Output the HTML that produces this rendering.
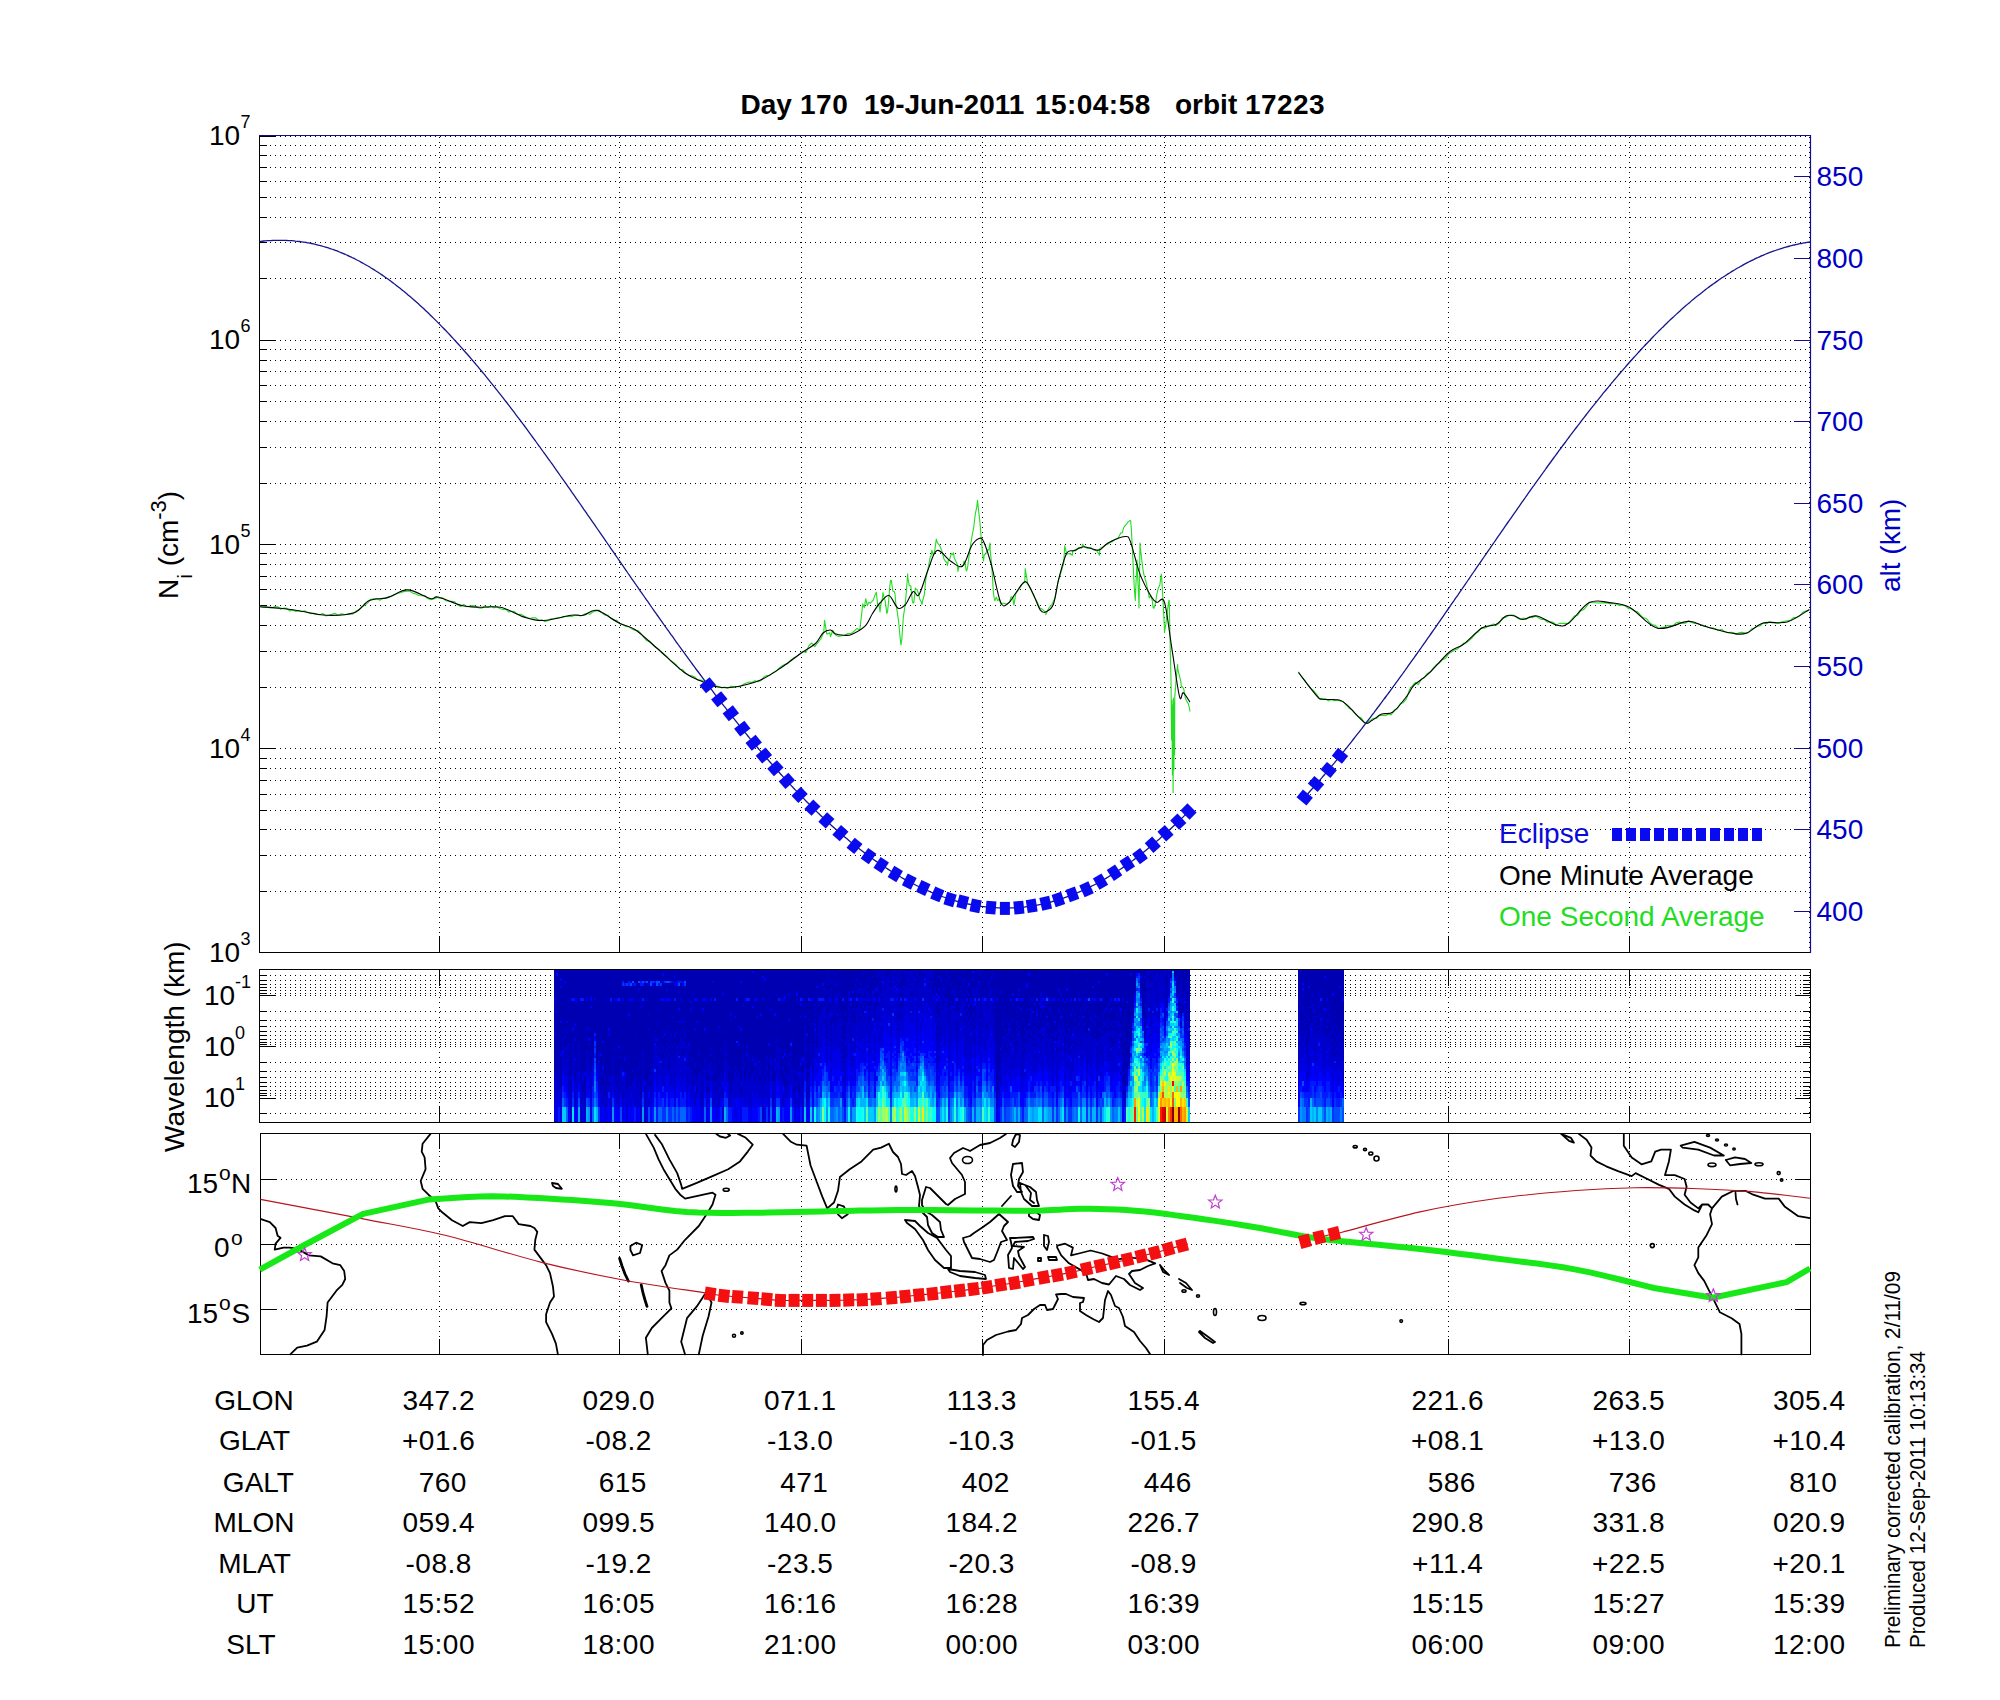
<!DOCTYPE html><html><head><meta charset="utf-8"><title>plot</title><style>html,body{margin:0;padding:0;background:#fff;width:2000px;height:1700px;overflow:hidden}svg{display:block}text{font-family:"Liberation Sans",sans-serif;white-space:pre}</style></head><body><svg width="2000" height="1700" viewBox="0 0 2000 1700"><rect width="2000" height="1700" fill="#fff"/><g font-weight="bold" font-size="28"><text x="740.5" y="113.5">Day</text><text x="800" y="113.5" letter-spacing="0.5">170</text><text x="864" y="113.5">19-Jun-2011</text><text x="1035" y="113.5" letter-spacing="0.45">15:04:58</text><text x="1175" y="113.5">orbit</text><text x="1245" y="113.5" letter-spacing="0.4">17223</text></g><path d="M260 891.5H1809M260 855.5H1809M260 829.5H1809M260 810.5H1809M260 794.5H1809M260 780.5H1809M260 768.5H1809M260 758.5H1809M260 748.5H1809M260 687.5H1809M260 651.5H1809M260 625.5H1809M260 605.5H1809M260 589.5H1809M260 576.5H1809M260 564.5H1809M260 553.5H1809M260 544.5H1809M260 483.5H1809M260 447.5H1809M260 421.5H1809M260 401.5H1809M260 385.5H1809M260 371.5H1809M260 360.5H1809M260 349.5H1809M260 340.5H1809M260 278.5H1809M260 242.5H1809M260 217.5H1809M260 197.5H1809M260 181.5H1809M260 167.5H1809M260 155.5H1809M260 145.5H1809M260 136.5H1809M439.5 137V951M619.5 137V951M801.5 137V951M982.5 137V951M1164.5 137V951M1448.5 137V951M1629.5 137V951M1809.5 137V951" stroke="#000" stroke-width="1" stroke-dasharray="1 4" fill="none"/><path d="M259 952.5h16M259 891.5h8M259 855.5h8M259 829.5h8M259 810.5h8M259 794.5h8M259 780.5h8M259 768.5h8M259 758.5h8M259 748.5h16M259 687.5h8M259 651.5h8M259 625.5h8M259 605.5h8M259 589.5h8M259 576.5h8M259 564.5h8M259 553.5h8M259 544.5h16M259 483.5h8M259 447.5h8M259 421.5h8M259 401.5h8M259 385.5h8M259 371.5h8M259 360.5h8M259 349.5h8M259 340.5h16M259 278.5h8M259 242.5h8M259 217.5h8M259 197.5h8M259 181.5h8M259 167.5h8M259 155.5h8M259 145.5h8M259 136.5h16M439.5 952V936M619.5 952V936M801.5 952V936M982.5 952V936M1164.5 952V936M1448.5 952V936M1629.5 952V936" stroke="#000" stroke-width="1" fill="none"/><path d="M259.5 135V953M259 952.5H1810" stroke="#000" stroke-width="1" fill="none"/><path d="M259 135.5H1811M1810.5 135V953" stroke="#140c8c" stroke-width="1.2" fill="none"/><path d="M1810 911.5h-16M1810 829.5h-16M1810 748.5h-16M1810 666.5h-16M1810 584.5h-16M1810 503.5h-16M1810 421.5h-16M1810 340.5h-16M1810 258.5h-16M1810 176.5h-16" stroke="#140c8c" stroke-width="1" fill="none"/><g font-size="28"><text x="209" y="961.9">10</text><text x="240.5" y="944.9" font-size="18">3</text><text x="209" y="757.7">10</text><text x="240.5" y="740.7" font-size="18">4</text><text x="209" y="553.5">10</text><text x="240.5" y="536.5" font-size="18">5</text><text x="209" y="349.3">10</text><text x="240.5" y="332.3" font-size="18">6</text><text x="209" y="145.1">10</text><text x="240.5" y="128.1" font-size="18">7</text></g><g font-size="28" fill="#0000c4"><text x="1816.5" y="921">400</text><text x="1816.5" y="839.4">450</text><text x="1816.5" y="757.7">500</text><text x="1816.5" y="676.1">550</text><text x="1816.5" y="594.4">600</text><text x="1816.5" y="512.8">650</text><text x="1816.5" y="431.2">700</text><text x="1816.5" y="349.5">750</text><text x="1816.5" y="267.9">800</text><text x="1816.5" y="186.2">850</text><text transform="translate(1899.5 592) rotate(-90)">alt (km)</text></g><g font-size="28" transform="translate(178 599) rotate(-90)"><text x="0" y="0">N</text><text x="20.2" y="14" font-size="21">i</text><text x="24.9" y="0"> (cm</text><text x="79.3" y="-12" font-size="22">-3</text><text x="98.8" y="0">)</text></g><g fill="none" stroke-linejoin="round"><polyline points="259.8,606 262.8,607.1 265.8,606.8 268.8,607.7 271.8,608 274.8,606.6 277.8,606.7 280.8,609.3 283.8,608.1 286.8,608.4 289.8,611 292.8,609.9 295.8,611.4 298.8,610.8 301.8,611.7 304.8,610.8 307.8,612.6 310.8,613.8 313.8,613.3 316.8,614.4 319.8,614.7 322.8,613.5 325.8,615.9 328.8,615.3 331.8,614.3 334.8,613.2 337.8,615.3 340.8,613.9 343.8,614.3 346.8,614.5 349.8,613.8 352.8,614.1 355.8,611.1 358.8,609.8 361.8,606.4 364.8,605.4 367.8,602.9 370.8,599.2 373.8,598.8 376.8,598.6 379.8,600.2 382.8,598.2 385.8,598.2 388.8,596.6 391.8,596 394.8,594.5 397.8,593.2 400.8,592.7 403.8,591.6 406.8,591.3 409.8,591.3 412.8,593.1 415.8,594 418.8,595.5 421.8,595.7 424.8,595.5 427.8,598.5 430.8,599.7 433.8,599 436.8,597.4 439.8,598.2 442.8,597.9 445.8,600.7 448.8,601.1 451.8,601.3 454.8,601.8 457.8,605.1 460.8,606.5 463.8,604.4 466.8,606.7 469.8,606 472.8,605.6 475.8,606.3 478.8,608 481.8,608.3 484.8,606 487.8,607.6 490.8,606 493.8,607.9 496.8,606.8 499.8,608.4 502.8,609.5 505.8,609.4 508.8,612 511.8,611.3 514.8,611.9 517.8,614.6 520.8,614.3 523.8,616 526.8,617.4 529.8,618.5 532.8,617.7 535.8,617.9 538.8,620.7 541.8,619.7 544.8,621.6 547.8,620.8 550.8,618.8 553.8,618.5 556.8,618.1 559.8,617.8 562.8,617.1 565.8,616.5 568.8,616.1 571.8,616.5 574.8,615.3 577.8,615.1 580.8,615.9 583.8,614.4 586.8,613.5 589.8,614.3 592.8,612 595.8,611 598.8,610 601.8,612.9 604.8,615 607.8,615.2 610.8,618.6 613.8,620.3 616.8,620.4 619.8,623.7 622.8,624.5 625.8,626.4 628.8,626.7 631.8,628.9 634.8,630.2 637.8,630.5 640.8,633.2 643.8,637.5 646.8,640.8 649.8,641.4 652.8,644.5 655.8,647.5 658.8,649.4 661.8,652.1 664.8,654.7 667.8,657.5 670.8,660.8 673.8,662.6 676.8,665.5 679.8,669.3 682.8,669.8 685.8,673.4 688.8,675.4 691.8,675.7 694.8,677 697.8,680.1 700.8,680.1 703.8,681.2 706.8,683 709.8,684.7 712.8,684.1 715.8,685.7 718.8,686.6 721.8,688 724.8,687 727.8,688.2 730.8,686.3 733.8,686.6 736.8,686.7 739.8,686.6 742.8,684.6 745.8,683.2 748.8,682.1 751.8,682.4 754.8,680.7 757.8,681.6 760.8,680.7 763.8,677 766.8,675.5 769.8,675.2 772.8,672.9 775.8,671.6 778.8,668.5 781.8,666.1 784.8,664.4 787.8,663.7 790.8,660 793.8,658 796.8,656.1 799.8,653.9 802.8,651.4 805.8,652.5 808.8,645.9 811.8,643 814.8,646.6 817.8,642.6 820.8,639 823.8,632.3 824.5,620.2 826.8,634.2 829.8,632.8 830.5,636.7 832.8,630.2 835.8,635.3 838.8,636.4 841.8,635.8 844.8,635.2 847.8,633.6 850.8,633.6 853.8,631.5 856.8,628.6 859.8,629.9 862.8,603.9 864.3,607.7 865.8,598.7 867.3,605.8 868.8,602.3 870.3,603.2 871.8,601.5 873.3,600.1 874.8,595.4 875.5,594 876.3,592.3 877.8,605.7 879.3,605.9 880,612 880.8,604.8 882.3,598.7 883,592.5 883.8,596.2 885.3,601.6 886.8,613.4 887.5,612 888.3,604.7 889.8,586.3 890.5,580.5 891.3,580.4 892.8,591 894.3,591.7 895,594 895.8,603.6 897.3,612.1 898.8,623.3 900.3,639.4 901,645 901.8,639.7 903.3,617.2 904.8,607.5 906.3,592.8 907.7,573.7 907.8,577.3 909.3,585.8 910.8,585.9 912.3,600.4 913,603 913.8,603 915.3,588.1 916,589.5 916.8,589.2 918.3,592.9 919.8,599.3 921.3,602 922,604.5 922.8,600 924.3,595 925.8,579.3 927.3,571.8 928.8,564.5 930.3,556.5 931,556.5 931.8,550.2 933.3,555.5 934.8,550.5 936.3,539.1 937,541.5 937.8,543.3 939.3,544.9 940.8,548.3 942.3,552.1 943.8,558.5 945.3,561.3 946.8,562.5 947.5,565.5 948.3,560.7 949.8,558.9 951.3,553.6 952.8,554.7 953.5,552.7 954.3,558.2 955.8,561.1 957.3,564.4 958,571.5 958.8,566.9 960.3,566.2 961.8,565.9 963.3,565.1 964,561 964.8,562.2 966.3,570.9 967,570 967.8,565.9 969.3,554 970.8,543.5 972.3,534.7 973.8,526.8 975.3,514 976.8,506.8 977.5,500.2 978.3,507.9 979.8,521 981.3,539.1 982.8,555.9 983.5,561 984.3,554.5 985.8,553.9 987.3,549.7 988.8,550.1 990,543 990.3,551.4 991.8,566 993.3,591.5 994,597 994.8,600.8 996.3,597.1 997.8,600.7 999.3,598.9 1000.7,604.2 1000.8,603.3 1003.8,603.2 1006.8,604.2 1009.8,602 1011,596.7 1012.8,597.5 1013.9,605.2 1015.8,593.7 1018.8,589.5 1021.8,584.6 1024.8,582.3 1025.2,568.5 1027.8,584.2 1030.8,589.1 1033.8,596.2 1036.8,601 1039.8,607.9 1042.8,609.6 1045.8,612.8 1045.9,614.6 1048.8,608 1051.8,604.5 1054.8,598.6 1057.8,582.5 1060.8,573.1 1063.8,562.9 1064.7,545.9 1066.8,554.3 1069.8,553.5 1072.2,555.3 1072.8,551.3 1075.8,550.7 1078.8,547.4 1081.8,548.2 1082.6,544 1084.8,547.2 1087.8,548.5 1090.8,547.5 1091,547.8 1093.8,550 1096.8,550.8 1099.5,555.3 1099.8,548.4 1102.8,547.1 1105.8,545.1 1108.8,543.6 1111.8,540.8 1111.8,542.1 1114.8,539.5 1117.8,538.5 1120.8,532.9 1122.3,532.6 1123.8,527.3 1125.3,525.3 1126.8,523.8 1128.3,521.6 1129.8,520.6 1130.6,520.5 1131.3,528.2 1132.8,557.9 1134.3,588.2 1135.3,600.5 1135.8,587.7 1137,560 1137.3,569.7 1138.8,599.8 1139,608 1140,543 1140.3,547.4 1141.8,560.3 1143.3,571.7 1143.8,574.1 1144.8,577.9 1146.3,583 1147.8,590 1149.3,597.9 1150.8,595.8 1152.3,600.7 1153.2,608 1153.8,608.2 1155.3,604.2 1156.8,594.5 1158.3,588 1159.8,585 1161.3,574 1161.6,576 1162.8,597.1 1164.3,625.6 1164.5,632.5 1165.8,624.5 1167.3,611.6 1168.8,600.5 1169.2,600.5 1170.3,650.7 1171,679.5 1171.6,740 1171.8,724.5 1172,700 1172.4,775 1172.8,705 1173.1,792.5 1173.3,743.2 1173.5,698 1173.9,770 1174.3,702 1174.6,755 1174.8,694.6 1174.8,696.7 1176.3,677.6 1177.6,664.5 1177.8,669.2 1179.3,675.4 1180.8,681.1 1181.4,687 1182.3,686.8 1183.8,689.1 1185.3,698 1186.8,701.4 1188.3,703.6 1189.8,709.8 1189.9,711.5" stroke="#22dd22" stroke-width="1.1"/><polyline points="1298.4,671.8 1301.4,676.4 1304.4,679.8 1307.4,684.2 1310.4,688.1 1313.4,690.4 1316.4,694.1 1319.4,698.4 1322.4,698.6 1325.4,698.7 1328.4,700.9 1331.4,699.6 1334.4,700.7 1337.4,699.9 1340.4,701.1 1343.4,701.8 1346.4,705.1 1349.4,708.3 1352.4,710.4 1355.4,714 1358.4,716.8 1361.4,718.1 1364.4,723 1367.4,722.1 1370.4,720.4 1373.4,718.2 1376.4,718.5 1379.4,715.5 1382.4,715.3 1385.4,715.7 1388.4,714.1 1391.4,714.8 1394.4,709.8 1397.4,708.8 1400.4,703.2 1403.4,702.7 1406.4,698.9 1409.4,689.9 1412.4,685.6 1415.4,682.5 1418.4,684.6 1421.4,679 1424.4,677.8 1427.4,673.4 1430.4,671.8 1433.4,667.9 1436.4,664.6 1439.4,662.9 1442.4,659.8 1445.4,658.6 1448.4,654.1 1451.4,652.1 1454.4,650.3 1457.4,649 1460.4,646.4 1463.4,643.4 1466.4,642.7 1469.4,640.4 1472.4,637.5 1475.4,633.9 1478.4,631.7 1481.4,627.6 1484.4,628.3 1487.4,626.8 1490.4,625.3 1493.4,623.9 1496.4,625.2 1499.4,623 1502.4,617.9 1505.4,617.4 1508.4,615.7 1511.4,615 1514.4,615.4 1517.4,618 1520.4,619.5 1523.4,618.1 1526.4,619 1529.4,616.6 1532.4,617.8 1535.4,615.9 1538.4,617.7 1541.4,619.4 1544.4,619.5 1547.4,622.2 1550.4,621.7 1553.4,622.4 1556.4,625.3 1559.4,623.4 1562.4,623.3 1565.4,623.4 1568.4,623.4 1571.4,619.5 1574.4,616.1 1577.4,615.5 1580.4,610.9 1583.4,609.8 1586.4,606.6 1589.4,602.3 1592.4,602.5 1595.4,602.7 1598.4,603 1601.4,602.9 1604.4,602.8 1607.4,602.9 1610.4,604 1613.4,603.5 1616.4,604.1 1619.4,605.6 1622.4,605 1625.4,605.9 1628.4,608.6 1631.4,608.7 1634.4,611 1637.4,611.7 1640.4,615.1 1643.4,617.8 1646.4,618.5 1649.4,622.4 1652.4,624.7 1655.4,625.4 1658.4,628.4 1661.4,627.2 1664.4,627.2 1667.4,625.6 1670.4,625.9 1673.4,625.3 1676.4,622.7 1679.4,622.1 1682.4,623.2 1685.4,623.3 1688.4,620.8 1691.4,622.2 1694.4,623.5 1697.4,623.6 1700.4,624.7 1703.4,625.4 1706.4,626.4 1709.4,627.8 1712.4,627.7 1715.4,628.7 1718.4,630.5 1721.4,629.2 1724.4,631.5 1727.4,632.7 1730.4,632.2 1733.4,632.5 1736.4,634.2 1739.4,632.6 1742.4,632.4 1745.4,633.1 1748.4,632.5 1751.4,629.1 1754.4,627.9 1757.4,626.1 1760.4,625.7 1763.4,622.8 1766.4,623.9 1769.4,621.8 1772.4,622.2 1775.4,622.9 1778.4,623.4 1781.4,622.1 1784.4,621.3 1787.4,620.8 1790.4,620.3 1793.4,617.6 1796.4,617.6 1799.4,616 1802.4,612.5 1805.4,611.1 1808.4,610.8" stroke="#22dd22" stroke-width="1.1"/><path d="M259.8 606.7C263.3 607 273.9 607.6 280.6 608.3C287.3 609 292.4 609.8 300 611C307.6 612.2 317.5 615 326.5 615.3C335.5 615.6 346.9 615.2 354 612.8C361.1 610.3 363.7 603.1 369.3 600.6C374.9 598.1 381.2 599.4 387.6 597.6C394 595.8 400.4 589.8 407.5 589.9C414.6 590 425.3 597.3 430.4 598.5C435.5 599.7 432.9 595.9 438 597C443.1 598.1 454.1 603.5 461 605.2C467.9 606.9 472.8 606.9 479.4 607.3C486 607.6 493.2 605.6 500.8 607.3C508.4 609 518.1 615.2 525.2 617.4C532.3 619.6 536 620.9 543.6 620.5C551.2 620.1 564.5 616.2 571.1 615.3C577.7 614.4 579 616.1 583.3 615.3C587.6 614.5 591 609 597.1 610.4C603.2 611.8 613.6 620.3 620 623.5C626.4 626.7 629.2 625.6 635.3 629.7C641.4 633.8 648.5 640.9 656.7 648C664.9 655.1 676.6 666.9 684.3 672.5C691.9 678.1 697 679.3 702.6 681.7C708.2 684.1 712.9 686.1 718 687C723.1 687.9 726 688.4 733 687.3C740 686.2 751.8 683.6 760 680.2C768.2 676.8 775.5 671.3 782.5 666.7C789.5 662.1 796.5 656.4 802 652.5C807.5 648.6 812 646.8 815.5 643.5C819 640.2 820.5 635.2 823 633C825.5 630.8 828.5 629.9 830.5 630C832.5 630.1 832.8 632.8 835 633.7C837.2 634.6 841.2 635.1 844 635.2C846.8 635.3 848 636 851.5 634.5C855 633 861.5 629.7 865 626.2C868.5 622.7 870 617.4 872.5 613.5C875 609.6 877.2 606 880 603C882.8 600 886 594.6 889 595.5C892 596.4 895.2 606.7 898 608.2C900.8 609.7 903 607.2 905.5 604.5C908 601.8 910.8 593.3 913 591.7C915.2 590.1 916.5 598.3 919 594.7C921.5 591.1 925 577.4 928 570C931 562.6 933.2 552 937 550.5C940.8 549 946.2 558.4 950.5 561C954.8 563.6 959 568.7 962.5 566.2C966 563.7 968.8 550.6 971.5 546C974.2 541.4 977 539.2 979 538.5C981 537.8 981.8 537.6 983.8 542C985.8 546.4 988.5 554.6 991.3 564.7C994.1 574.8 997.9 596 1000.7 602.4C1003.5 608.8 1005.7 604.9 1008.2 603.3C1010.7 601.7 1013 596.6 1015.8 593C1018.6 589.4 1022.4 581.6 1025.2 581.6C1028 581.6 1030.2 588.3 1032.7 593C1035.2 597.7 1038 606.8 1040.2 609.9C1042.4 613 1043.7 612.8 1045.9 611.8C1048.1 610.8 1051.2 609.9 1053.4 604.2C1055.6 598.6 1056.8 586.4 1059 577.9C1061.2 569.4 1064.1 557.9 1066.6 553.4C1069.1 548.9 1071.3 551.7 1074.1 550.6C1076.9 549.5 1080 547 1083.5 546.8C1087 546.6 1092 549.1 1094.8 549.6C1097.6 550.1 1098.3 550.7 1100.5 549.6C1102.7 548.5 1103.9 545.2 1108 543C1112.1 540.8 1121.1 536.6 1124.9 536.5C1128.7 536.4 1128.1 535.8 1130.6 542.1C1133.1 548.4 1136.5 565 1140 574.1C1143.5 583.2 1148.5 592 1151.3 596.7C1154.1 601.4 1154.7 601.5 1156.9 602.4C1159.1 603.3 1162 594.6 1164.5 602.4C1167 610.2 1169.5 633.7 1172 649.4C1174.5 665.1 1177.6 689.3 1179.5 696.5C1181.4 703.7 1181.6 691.8 1183.3 692.7C1185 693.6 1188.8 700.5 1189.9 702.1" stroke="#000" stroke-width="1.1"/><path d="M1298.4 672.5C1301.5 676.4 1312.7 691.3 1316.7 695.8C1320.7 700.3 1318.6 698.6 1322.4 699.3C1326.2 700 1335.1 698.9 1339.3 700C1343.5 701.1 1343.6 701.9 1347.8 705.7C1352 709.5 1360.7 720.1 1364.7 722.6C1368.7 725.1 1369 721.9 1371.8 720.5C1374.6 719.1 1378.2 715.5 1381.7 714.1C1385.2 712.7 1388.8 715 1393 712C1397.2 709 1403.6 700.3 1407.1 695.8C1410.6 691.3 1410.6 688.9 1414.1 685.2C1417.6 681.6 1422.4 679.4 1428.3 673.9C1434.2 668.4 1443.5 657 1449.4 652C1455.3 647 1458.2 648.2 1463.6 644.2C1469 640.2 1476.5 631.3 1481.9 628C1487.3 624.7 1492 626.5 1496 624.5C1500 622.5 1502.9 617.4 1506 616C1509.1 614.6 1511.6 615.4 1514.4 616C1517.2 616.6 1519.1 619.5 1522.9 619.5C1526.7 619.5 1531.3 615 1537 616C1542.7 617 1551.5 624 1556.8 625.2C1562.1 626.4 1563.4 626.8 1568.8 623C1574.2 619.2 1582.5 606 1589.3 602.6C1596.1 599.2 1603 601.8 1609.8 602.6C1616.6 603.5 1622.2 603.4 1630.2 607.7C1638.2 612 1647.8 625.9 1657.5 628.2C1667.2 630.5 1680.2 621.7 1688.2 621.4C1696.2 621.1 1697.9 624.5 1705.3 626.5C1712.7 628.5 1725.8 632.2 1732.6 633.3C1739.4 634.4 1741.1 635 1746.2 633.3C1751.3 631.6 1756.5 624.9 1763.3 623C1770.1 621.1 1779.5 624.3 1787.2 622C1794.9 619.7 1805.7 611.5 1809.4 609.4" stroke="#000" stroke-width="1.1"/><path d="M259.5 241.5C260.2 241.4 262.2 241.2 263.5 241C264.8 240.9 266.2 240.8 267.5 240.7C268.8 240.6 270.2 240.5 271.5 240.5C272.8 240.4 274.2 240.4 275.5 240.3C276.8 240.3 278.2 240.3 279.5 240.3C280.8 240.3 282.2 240.3 283.5 240.3C284.8 240.4 286.2 240.4 287.5 240.5C288.8 240.5 290.2 240.6 291.5 240.7C292.8 240.8 294.2 240.9 295.5 241.1C296.8 241.2 298.2 241.4 299.5 241.5C300.8 241.7 302.2 241.9 303.5 242.1C304.8 242.3 306.2 242.5 307.5 242.8C308.8 243 310.2 243.2 311.5 243.5C312.8 243.8 314.2 244.1 315.5 244.4C316.8 244.7 318.2 245 319.5 245.4C320.8 245.7 322.2 246.1 323.5 246.5C324.8 246.9 326.2 247.3 327.5 247.7C328.8 248.1 330.2 248.6 331.5 249C332.8 249.5 334.2 249.9 335.5 250.4C336.8 250.9 338.2 251.4 339.5 252C340.8 252.5 342.2 253 343.5 253.6C344.8 254.2 346.2 254.8 347.5 255.4C348.8 256 350.2 256.6 351.5 257.2C352.8 257.9 354.2 258.5 355.5 259.2C356.8 259.9 358.2 260.6 359.5 261.3C360.8 262 362.2 262.7 363.5 263.5C364.8 264.2 366.2 265 367.5 265.8C368.8 266.5 370.2 267.3 371.5 268.2C372.8 269 374.2 269.8 375.5 270.7C376.8 271.5 378.2 272.4 379.5 273.3C380.8 274.2 382.2 275.1 383.5 276C384.8 276.9 386.2 277.8 387.5 278.8C388.8 279.8 390.2 280.7 391.5 281.7C392.8 282.7 394.2 283.7 395.5 284.7C396.8 285.8 398.2 286.8 399.5 287.8C400.8 288.9 402.2 290 403.5 291.1C404.8 292.1 406.2 293.3 407.5 294.4C408.8 295.5 410.2 296.6 411.5 297.8C412.8 298.9 414.2 300.1 415.5 301.3C416.8 302.5 418.2 303.7 419.5 304.9C420.8 306.1 422.2 307.3 423.5 308.5C424.8 309.8 426.2 311 427.5 312.3C428.8 313.6 430.2 314.9 431.5 316.2C432.8 317.5 434.2 318.8 435.5 320.1C436.8 321.4 438.2 322.8 439.5 324.1C440.8 325.5 442.2 326.9 443.5 328.2C444.8 329.6 446.2 331 447.5 332.4C448.8 333.8 450.2 335.3 451.5 336.7C452.8 338.1 454.2 339.6 455.5 341C456.8 342.5 458.2 344 459.5 345.5C460.8 346.9 462.2 348.4 463.5 350C464.8 351.5 466.2 353 467.5 354.5C468.8 356 470.2 357.6 471.5 359.1C472.8 360.7 474.2 362.3 475.5 363.8C476.8 365.4 478.2 367 479.5 368.6C480.8 370.2 482.2 371.8 483.5 373.4C484.8 375.1 486.2 376.7 487.5 378.3C488.8 380 490.2 381.6 491.5 383.3C492.8 384.9 494.2 386.6 495.5 388.3C496.8 390 498.2 391.6 499.5 393.3C500.8 395 502.2 396.7 503.5 398.4C504.8 400.2 506.2 401.9 507.5 403.6C508.8 405.3 510.2 407.1 511.5 408.8C512.8 410.6 514.2 412.3 515.5 414.1C516.8 415.8 518.2 417.6 519.5 419.4C520.8 421.2 522.2 422.9 523.5 424.7C524.8 426.5 526.2 428.3 527.5 430.1C528.8 431.9 530.2 433.7 531.5 435.6C532.8 437.4 534.2 439.2 535.5 441C536.8 442.9 538.2 444.7 539.5 446.5C540.8 448.4 542.2 450.2 543.5 452.1C544.8 453.9 546.2 455.8 547.5 457.6C548.8 459.5 550.2 461.3 551.5 463.2C552.8 465.1 554.2 467 555.5 468.8C556.8 470.7 558.2 472.6 559.5 474.5C560.8 476.4 562.2 478.3 563.5 480.2C564.8 482 566.2 483.9 567.5 485.8C568.8 487.7 570.2 489.6 571.5 491.6C572.8 493.5 574.2 495.4 575.5 497.3C576.8 499.2 578.2 501.1 579.5 503C580.8 504.9 582.2 506.9 583.5 508.8C584.8 510.7 586.2 512.6 587.5 514.6C588.8 516.5 590.2 518.4 591.5 520.3C592.8 522.3 594.2 524.2 595.5 526.1C596.8 528 598.2 530 599.5 531.9C600.8 533.8 602.2 535.8 603.5 537.7C604.8 539.6 606.2 541.6 607.5 543.5C608.8 545.4 610.2 547.4 611.5 549.3C612.8 551.2 614.2 553.2 615.5 555.1C616.8 557 618.2 559 619.5 560.9C620.8 562.8 622.2 564.8 623.5 566.7C624.8 568.6 626.2 570.5 627.5 572.5C628.8 574.4 630.2 576.3 631.5 578.3C632.8 580.2 634.2 582.1 635.5 584C636.8 585.9 638.2 587.9 639.5 589.8C640.8 591.7 642.2 593.6 643.5 595.5C644.8 597.4 646.2 599.3 647.5 601.2C648.8 603.2 650.2 605.1 651.5 607C652.8 608.9 654.2 610.8 655.5 612.7C656.8 614.6 658.2 616.4 659.5 618.3C660.8 620.2 662.2 622.1 663.5 624C664.8 625.9 666.2 627.7 667.5 629.6C668.8 631.5 670.2 633.4 671.5 635.2C672.8 637.1 674.2 639 675.5 640.8C676.8 642.7 678.2 644.5 679.5 646.4C680.8 648.2 682.2 650.1 683.5 651.9C684.8 653.7 686.2 655.6 687.5 657.4C688.8 659.2 690.2 661.1 691.5 662.9C692.8 664.7 694.2 666.5 695.5 668.3C696.8 670.1 698.2 671.9 699.5 673.7C700.8 675.5 702.2 677.3 703.5 679.1C704.8 680.9 706.2 682.6 707.5 684.4C708.8 686.2 710.2 687.9 711.5 689.7C712.8 691.5 714.2 693.2 715.5 695C716.8 696.7 718.2 698.4 719.5 700.2C720.8 701.9 722.2 703.6 723.5 705.4C724.8 707.1 726.2 708.8 727.5 710.5C728.8 712.2 730.2 713.9 731.5 715.6C732.8 717.3 734.2 718.9 735.5 720.6C736.8 722.3 738.2 724 739.5 725.6C740.8 727.3 742.2 728.9 743.5 730.6C744.8 732.2 746.2 733.8 747.5 735.5C748.8 737.1 750.2 738.7 751.5 740.3C752.8 741.9 754.2 743.5 755.5 745.1C756.8 746.7 758.2 748.3 759.5 749.9C760.8 751.4 762.2 753 763.5 754.6C764.8 756.1 766.2 757.7 767.5 759.2C768.8 760.7 770.2 762.3 771.5 763.8C772.8 765.3 774.2 766.8 775.5 768.3C776.8 769.8 778.2 771.3 779.5 772.8C780.8 774.3 782.2 775.8 783.5 777.2C784.8 778.7 786.2 780.1 787.5 781.6C788.8 783 790.2 784.5 791.5 785.9C792.8 787.3 794.2 788.7 795.5 790.1C796.8 791.5 798.2 792.9 799.5 794.3C800.8 795.7 802.2 797.1 803.5 798.4C804.8 799.8 806.2 801.1 807.5 802.5C808.8 803.8 810.2 805.1 811.5 806.5C812.8 807.8 814.2 809.1 815.5 810.4C816.8 811.7 818.2 813 819.5 814.2C820.8 815.5 822.2 816.8 823.5 818C824.8 819.3 826.2 820.5 827.5 821.7C828.8 823 830.2 824.2 831.5 825.4C832.8 826.6 834.2 827.8 835.5 829C836.8 830.2 838.2 831.3 839.5 832.5C840.8 833.7 842.2 834.8 843.5 835.9C844.8 837.1 846.2 838.2 847.5 839.3C848.8 840.4 850.2 841.5 851.5 842.6C852.8 843.7 854.2 844.8 855.5 845.8C856.8 846.9 858.2 848 859.5 849C860.8 850 862.2 851.1 863.5 852.1C864.8 853.1 866.2 854.1 867.5 855.1C868.8 856.1 870.2 857 871.5 858C872.8 859 874.2 859.9 875.5 860.9C876.8 861.8 878.2 862.7 879.5 863.6C880.8 864.5 882.2 865.4 883.5 866.3C884.8 867.2 886.2 868.1 887.5 868.9C888.8 869.8 890.2 870.7 891.5 871.5C892.8 872.3 894.2 873.1 895.5 873.9C896.8 874.7 898.2 875.5 899.5 876.3C900.8 877.1 902.2 877.9 903.5 878.6C904.8 879.4 906.2 880.1 907.5 880.8C908.8 881.6 910.2 882.3 911.5 883C912.8 883.7 914.2 884.3 915.5 885C916.8 885.7 918.2 886.3 919.5 887C920.8 887.6 922.2 888.2 923.5 888.9C924.8 889.5 926.2 890.1 927.5 890.7C928.8 891.2 930.2 891.8 931.5 892.4C932.8 892.9 934.2 893.5 935.5 894C936.8 894.5 938.2 895 939.5 895.5C940.8 896 942.2 896.5 943.5 897C944.8 897.4 946.2 897.9 947.5 898.3C948.8 898.8 950.2 899.2 951.5 899.6C952.8 900 954.2 900.4 955.5 900.8C956.8 901.2 958.2 901.6 959.5 901.9C960.8 902.3 962.2 902.6 963.5 902.9C964.8 903.2 966.2 903.5 967.5 903.8C968.8 904.1 970.2 904.4 971.5 904.7C972.8 904.9 974.2 905.2 975.5 905.4C976.8 905.6 978.2 905.9 979.5 906.1C980.8 906.3 982.2 906.4 983.5 906.6C984.8 906.8 986.2 906.9 987.5 907.1C988.8 907.2 990.2 907.3 991.5 907.5C992.8 907.6 994.2 907.7 995.5 907.7C996.8 907.8 998.2 907.9 999.5 907.9C1000.8 908 1002.2 908 1003.5 908C1004.8 908 1006.2 908 1007.5 908C1008.8 908 1010.2 908 1011.5 907.9C1012.8 907.9 1014.2 907.8 1015.5 907.7C1016.8 907.7 1018.2 907.6 1019.5 907.5C1020.8 907.4 1022.2 907.2 1023.5 907.1C1024.8 906.9 1026.2 906.8 1027.5 906.6C1028.8 906.4 1030.2 906.3 1031.5 906.1C1032.8 905.9 1034.2 905.6 1035.5 905.4C1036.8 905.2 1038.2 904.9 1039.5 904.6C1040.8 904.4 1042.2 904.1 1043.5 903.8C1044.8 903.5 1046.2 903.2 1047.5 902.9C1048.8 902.5 1050.2 902.2 1051.5 901.8C1052.8 901.5 1054.2 901.1 1055.5 900.7C1056.8 900.3 1058.2 899.9 1059.5 899.5C1060.8 899 1062.2 898.6 1063.5 898.1C1064.8 897.7 1066.2 897.2 1067.5 896.7C1068.8 896.2 1070.2 895.7 1071.5 895.2C1072.8 894.7 1074.2 894.1 1075.5 893.6C1076.8 893 1078.2 892.5 1079.5 891.9C1080.8 891.3 1082.2 890.7 1083.5 890.1C1084.8 889.5 1086.2 888.9 1087.5 888.2C1088.8 887.6 1090.2 886.9 1091.5 886.2C1092.8 885.6 1094.2 884.9 1095.5 884.2C1096.8 883.5 1098.2 882.7 1099.5 882C1100.8 881.3 1102.2 880.5 1103.5 879.7C1104.8 879 1106.2 878.2 1107.5 877.4C1108.8 876.6 1110.2 875.8 1111.5 874.9C1112.8 874.1 1114.2 873.3 1115.5 872.4C1116.8 871.6 1118.2 870.7 1119.5 869.8C1120.8 868.9 1122.2 868 1123.5 867.1C1124.8 866.2 1126.2 865.2 1127.5 864.3C1128.8 863.3 1130.2 862.4 1131.5 861.4C1132.8 860.4 1134.2 859.4 1135.5 858.4C1136.8 857.4 1138.2 856.4 1139.5 855.4C1140.8 854.4 1142.2 853.3 1143.5 852.2C1144.8 851.2 1146.2 850.1 1147.5 849C1148.8 847.9 1150.2 846.8 1151.5 845.7C1152.8 844.6 1154.2 843.5 1155.5 842.3C1156.8 841.2 1158.2 840 1159.5 838.9C1160.8 837.7 1162.2 836.5 1163.5 835.3C1164.8 834.2 1166.2 832.9 1167.5 831.7C1168.8 830.5 1170.2 829.3 1171.5 828C1172.8 826.8 1174.2 825.6 1175.5 824.3C1176.8 823 1178.2 821.7 1179.5 820.5C1180.8 819.2 1182.2 817.9 1183.5 816.6C1184.8 815.3 1186.7 813.4 1187.5 812.6C1188.3 811.8 1188.3 811.8 1188.5 811.6" stroke="#16168c" stroke-width="1.3"/><path d="M1302 800.2C1302.7 799.5 1304.7 797.3 1306 795.8C1307.3 794.3 1308.7 792.8 1310 791.3C1311.3 789.8 1312.7 788.3 1314 786.8C1315.3 785.3 1316.7 783.8 1318 782.2C1319.3 780.7 1320.7 779.1 1322 777.6C1323.3 776 1324.7 774.5 1326 772.9C1327.3 771.3 1328.7 769.7 1330 768.1C1331.3 766.5 1332.7 764.9 1334 763.3C1335.3 761.7 1336.7 760.1 1338 758.5C1339.3 756.8 1340.7 755.2 1342 753.6C1343.3 751.9 1344.7 750.3 1346 748.6C1347.3 746.9 1348.7 745.3 1350 743.6C1351.3 741.9 1352.7 740.2 1354 738.5C1355.3 736.8 1356.7 735.1 1358 733.4C1359.3 731.7 1360.7 730 1362 728.3C1363.3 726.5 1364.7 724.8 1366 723.1C1367.3 721.3 1368.7 719.6 1370 717.8C1371.3 716.1 1372.7 714.3 1374 712.6C1375.3 710.8 1376.7 709 1378 707.2C1379.3 705.5 1380.7 703.7 1382 701.9C1383.3 700.1 1384.7 698.3 1386 696.5C1387.3 694.7 1388.7 692.9 1390 691.1C1391.3 689.2 1392.7 687.4 1394 685.6C1395.3 683.8 1396.7 681.9 1398 680.1C1399.3 678.3 1400.7 676.4 1402 674.6C1403.3 672.7 1404.7 670.9 1406 669C1407.3 667.2 1408.7 665.3 1410 663.4C1411.3 661.6 1412.7 659.7 1414 657.8C1415.3 655.9 1416.7 654.1 1418 652.2C1419.3 650.3 1420.7 648.4 1422 646.5C1423.3 644.6 1424.7 642.7 1426 640.8C1427.3 638.9 1428.7 637 1430 635.1C1431.3 633.2 1432.7 631.3 1434 629.4C1435.3 627.5 1436.7 625.6 1438 623.7C1439.3 621.8 1440.7 619.8 1442 617.9C1443.3 616 1444.7 614.1 1446 612.1C1447.3 610.2 1448.7 608.3 1450 606.4C1451.3 604.4 1452.7 602.5 1454 600.6C1455.3 598.6 1456.7 596.7 1458 594.8C1459.3 592.8 1460.7 590.9 1462 589C1463.3 587 1464.7 585.1 1466 583.2C1467.3 581.2 1468.7 579.3 1470 577.3C1471.3 575.4 1472.7 573.5 1474 571.5C1475.3 569.6 1476.7 567.7 1478 565.7C1479.3 563.8 1480.7 561.8 1482 559.9C1483.3 558 1484.7 556 1486 554.1C1487.3 552.2 1488.7 550.2 1490 548.3C1491.3 546.3 1492.7 544.4 1494 542.5C1495.3 540.6 1496.7 538.6 1498 536.7C1499.3 534.8 1500.7 532.8 1502 530.9C1503.3 529 1504.7 527.1 1506 525.1C1507.3 523.2 1508.7 521.3 1510 519.4C1511.3 517.5 1512.7 515.6 1514 513.7C1515.3 511.7 1516.7 509.8 1518 507.9C1519.3 506 1520.7 504.1 1522 502.2C1523.3 500.3 1524.7 498.4 1526 496.5C1527.3 494.7 1528.7 492.8 1530 490.9C1531.3 489 1532.7 487.1 1534 485.3C1535.3 483.4 1536.7 481.5 1538 479.7C1539.3 477.8 1540.7 475.9 1542 474.1C1543.3 472.2 1544.7 470.4 1546 468.5C1547.3 466.7 1548.7 464.8 1550 463C1551.3 461.2 1552.7 459.3 1554 457.5C1555.3 455.7 1556.7 453.9 1558 452.1C1559.3 450.3 1560.7 448.5 1562 446.7C1563.3 444.9 1564.7 443.1 1566 441.3C1567.3 439.5 1568.7 437.7 1570 435.9C1571.3 434.2 1572.7 432.4 1574 430.6C1575.3 428.9 1576.7 427.1 1578 425.4C1579.3 423.6 1580.7 421.9 1582 420.2C1583.3 418.5 1584.7 416.7 1586 415C1587.3 413.3 1588.7 411.6 1590 409.9C1591.3 408.2 1592.7 406.5 1594 404.9C1595.3 403.2 1596.7 401.5 1598 399.8C1599.3 398.2 1600.7 396.5 1602 394.9C1603.3 393.2 1604.7 391.6 1606 390C1607.3 388.4 1608.7 386.7 1610 385.1C1611.3 383.5 1612.7 381.9 1614 380.3C1615.3 378.8 1616.7 377.2 1618 375.6C1619.3 374 1620.7 372.5 1622 370.9C1623.3 369.4 1624.7 367.9 1626 366.3C1627.3 364.8 1628.7 363.3 1630 361.8C1631.3 360.3 1632.7 358.8 1634 357.3C1635.3 355.8 1636.7 354.4 1638 352.9C1639.3 351.4 1640.7 350 1642 348.5C1643.3 347.1 1644.7 345.7 1646 344.3C1647.3 342.9 1648.7 341.5 1650 340.1C1651.3 338.7 1652.7 337.3 1654 335.9C1655.3 334.6 1656.7 333.2 1658 331.9C1659.3 330.5 1660.7 329.2 1662 327.9C1663.3 326.6 1664.7 325.3 1666 324C1667.3 322.7 1668.7 321.4 1670 320.1C1671.3 318.9 1672.7 317.6 1674 316.4C1675.3 315.1 1676.7 313.9 1678 312.7C1679.3 311.5 1680.7 310.3 1682 309.1C1683.3 307.9 1684.7 306.8 1686 305.6C1687.3 304.4 1688.7 303.3 1690 302.2C1691.3 301 1692.7 299.9 1694 298.8C1695.3 297.7 1696.7 296.6 1698 295.6C1699.3 294.5 1700.7 293.4 1702 292.4C1703.3 291.3 1704.7 290.3 1706 289.3C1707.3 288.3 1708.7 287.3 1710 286.3C1711.3 285.3 1712.7 284.4 1714 283.4C1715.3 282.4 1716.7 281.5 1718 280.6C1719.3 279.6 1720.7 278.7 1722 277.8C1723.3 277 1724.7 276.1 1726 275.2C1727.3 274.3 1728.7 273.5 1730 272.7C1731.3 271.8 1732.7 271 1734 270.2C1735.3 269.4 1736.7 268.6 1738 267.8C1739.3 267.1 1740.7 266.3 1742 265.6C1743.3 264.8 1744.7 264.1 1746 263.4C1747.3 262.7 1748.7 262 1750 261.3C1751.3 260.7 1752.7 260 1754 259.4C1755.3 258.7 1756.7 258.1 1758 257.5C1759.3 256.9 1760.7 256.3 1762 255.7C1763.3 255.1 1764.7 254.6 1766 254C1767.3 253.5 1768.7 252.9 1770 252.4C1771.3 251.9 1772.7 251.4 1774 250.9C1775.3 250.5 1776.7 250 1778 249.6C1779.3 249.1 1780.7 248.7 1782 248.3C1783.3 247.9 1784.7 247.5 1786 247.1C1787.3 246.7 1788.7 246.3 1790 246C1791.3 245.6 1792.7 245.3 1794 245C1795.3 244.7 1796.7 244.4 1798 244.1C1799.3 243.8 1800.7 243.6 1802 243.3C1803.3 243.1 1804.7 242.8 1806 242.6C1807.3 242.4 1809.2 242.1 1810 242C1810.8 241.9 1810.4 242 1810.5 242" stroke="#16168c" stroke-width="1.3"/></g><g fill="#0a0aee"><rect x="-5" y="-6.5" width="10" height="13" transform="translate(707.8 685.3) rotate(50.6)"/><rect x="-5" y="-6.5" width="10" height="13" transform="translate(719.3 699.3) rotate(50.6)"/><rect x="-5" y="-6.5" width="10" height="13" transform="translate(730.8 713.3) rotate(51.9)"/><rect x="-5" y="-6.5" width="10" height="13" transform="translate(742.3 728.6) rotate(52.1)"/><rect x="-5" y="-6.5" width="10" height="13" transform="translate(753.7 742.7) rotate(51.1)"/><rect x="-5" y="-6.5" width="10" height="13" transform="translate(763.9 755.4) rotate(49.6)"/><rect x="-5" y="-6.5" width="10" height="13" transform="translate(775.4 768.2) rotate(48)"/><rect x="-5" y="-6.5" width="10" height="13" transform="translate(786.9 780.9) rotate(47.8)"/><rect x="-5" y="-6.5" width="10" height="13" transform="translate(799.6 794.9) rotate(46.4)"/><rect x="-5" y="-6.5" width="10" height="13" transform="translate(812.4 807.7) rotate(43.6)"/><rect x="-5" y="-6.5" width="10" height="13" transform="translate(826.4 820.4) rotate(42.3)"/><rect x="-5" y="-6.5" width="10" height="13" transform="translate(840.4 833.2) rotate(42.2)"/><rect x="-5" y="-6.5" width="10" height="13" transform="translate(854.5 845.9) rotate(39.2)"/><rect x="-5" y="-6.5" width="10" height="13" transform="translate(868.5 856.1) rotate(35.7)"/><rect x="-5" y="-6.5" width="10" height="13" transform="translate(881.2 865.1) rotate(33.7)"/><rect x="-5" y="-6.5" width="10" height="13" transform="translate(895.3 874) rotate(30.4)"/><rect x="-5" y="-6.5" width="10" height="13" transform="translate(909.3 881.6) rotate(26.6)"/><rect x="-5" y="-6.5" width="10" height="13" transform="translate(923.3 888) rotate(24.6)"/><rect x="-5" y="-6.5" width="10" height="13" transform="translate(937.3 894.4) rotate(23.2)"/><rect x="-5" y="-6.5" width="10" height="13" transform="translate(950.1 899.5) rotate(16.6)"/><rect x="-5" y="-6.5" width="10" height="13" transform="translate(962.8 902) rotate(13.9)"/><rect x="-5" y="-6.5" width="10" height="13" transform="translate(975.6 905.8) rotate(11.3)"/><rect x="-5" y="-6.5" width="10" height="13" transform="translate(990.9 907.6) rotate(5.1)"/><rect x="-5" y="-6.5" width="10" height="13" transform="translate(1004.9 908.4) rotate(0)"/><rect x="-5" y="-6.5" width="10" height="13" transform="translate(1018.9 907.6) rotate(-5.5)"/><rect x="-5" y="-6.5" width="10" height="13" transform="translate(1031.7 905.8) rotate(-9.1)"/><rect x="-5" y="-6.5" width="10" height="13" transform="translate(1045.7 903.3) rotate(-13.3)"/><rect x="-5" y="-6.5" width="10" height="13" transform="translate(1058.4 899.5) rotate(-18.4)"/><rect x="-5" y="-6.5" width="10" height="13" transform="translate(1072.4 894.4) rotate(-20)"/><rect x="-5" y="-6.5" width="10" height="13" transform="translate(1086.5 889.3) rotate(-24.5)"/><rect x="-5" y="-6.5" width="10" height="13" transform="translate(1100.5 881.6) rotate(-30.7)"/><rect x="-5" y="-6.5" width="10" height="13" transform="translate(1114.5 872.7) rotate(-33.6)"/><rect x="-5" y="-6.5" width="10" height="13" transform="translate(1127.3 863.8) rotate(-33.1)"/><rect x="-5" y="-6.5" width="10" height="13" transform="translate(1140 856.1) rotate(-36.8)"/><rect x="-5" y="-6.5" width="10" height="13" transform="translate(1152.8 844.7) rotate(-41.9)"/><rect x="-5" y="-6.5" width="10" height="13" transform="translate(1165.5 833.2) rotate(-42)"/><rect x="-5" y="-6.5" width="10" height="13" transform="translate(1178.3 821.7) rotate(-43.3)"/><rect x="-5" y="-6.5" width="10" height="13" transform="translate(1188.5 811.5) rotate(-45)"/><rect x="-5" y="-6.5" width="10" height="13" transform="translate(1304.7 797.5) rotate(-50.1)"/><rect x="-5" y="-6.5" width="10" height="13" transform="translate(1316 784) rotate(-49)"/><rect x="-5" y="-6.5" width="10" height="13" transform="translate(1328.7 769.9) rotate(-49.6)"/><rect x="-5" y="-6.5" width="10" height="13" transform="translate(1340 755.8) rotate(-51.3)"/></g><g font-size="28"><text x="1499" y="843" fill="#0a0ad8">Eclipse</text><text x="1499" y="884.5" fill="#000">One Minute Average</text><text x="1499" y="925.5" fill="#22dd22">One Second Average</text></g><g fill="#0a0aee"><rect x="1612" y="828" width="10" height="13"/><rect x="1626" y="828" width="10" height="13"/><rect x="1640" y="828" width="10" height="13"/><rect x="1654" y="828" width="10" height="13"/><rect x="1668" y="828" width="10" height="13"/><rect x="1682" y="828" width="10" height="13"/><rect x="1696" y="828" width="10" height="13"/><rect x="1710" y="828" width="10" height="13"/><rect x="1724" y="828" width="10" height="13"/><rect x="1738" y="828" width="10" height="13"/><rect x="1752" y="828" width="10" height="13"/></g><g font-size="28" text-anchor="middle"><text x="254" y="1409.7">GLON</text><text x="438.7" y="1409.7" letter-spacing="0.5">347.2</text><text x="618.7" y="1409.7" letter-spacing="0.5">029.0</text><text x="800.2" y="1409.7" letter-spacing="0.5">071.1</text><text x="981.7" y="1409.7" letter-spacing="0.5">113.3</text><text x="1163.7" y="1409.7" letter-spacing="0.5">155.4</text><text x="1447.7" y="1409.7" letter-spacing="0.5">221.6</text><text x="1628.7" y="1409.7" letter-spacing="0.5">263.5</text><text x="1809.2" y="1409.7" letter-spacing="0.5">305.4</text><text x="254.5" y="1450.2">GLAT</text><text x="438.7" y="1450.2" letter-spacing="0.5">+01.6</text><text x="618.7" y="1450.2" letter-spacing="0.5">-08.2</text><text x="800.2" y="1450.2" letter-spacing="0.5">-13.0</text><text x="981.7" y="1450.2" letter-spacing="0.5">-10.3</text><text x="1163.7" y="1450.2" letter-spacing="0.5">-01.5</text><text x="1447.7" y="1450.2" letter-spacing="0.5">+08.1</text><text x="1628.7" y="1450.2" letter-spacing="0.5">+13.0</text><text x="1809.2" y="1450.2" letter-spacing="0.5">+10.4</text><text x="254.5" y="1491.5"> GALT</text><text x="438.7" y="1491.5" letter-spacing="0.5"> 760</text><text x="618.7" y="1491.5" letter-spacing="0.5"> 615</text><text x="800.2" y="1491.5" letter-spacing="0.5"> 471</text><text x="981.7" y="1491.5" letter-spacing="0.5"> 402</text><text x="1163.7" y="1491.5" letter-spacing="0.5"> 446</text><text x="1447.7" y="1491.5" letter-spacing="0.5"> 586</text><text x="1628.7" y="1491.5" letter-spacing="0.5"> 736</text><text x="1809.2" y="1491.5" letter-spacing="0.5"> 810</text><text x="254" y="1532">MLON</text><text x="438.7" y="1532" letter-spacing="0.5">059.4</text><text x="618.7" y="1532" letter-spacing="0.5">099.5</text><text x="800.2" y="1532" letter-spacing="0.5">140.0</text><text x="981.7" y="1532" letter-spacing="0.5">184.2</text><text x="1163.7" y="1532" letter-spacing="0.5">226.7</text><text x="1447.7" y="1532" letter-spacing="0.5">290.8</text><text x="1628.7" y="1532" letter-spacing="0.5">331.8</text><text x="1809.2" y="1532" letter-spacing="0.5">020.9</text><text x="254.5" y="1572.5">MLAT</text><text x="438.7" y="1572.5" letter-spacing="0.5">-08.8</text><text x="618.7" y="1572.5" letter-spacing="0.5">-19.2</text><text x="800.2" y="1572.5" letter-spacing="0.5">-23.5</text><text x="981.7" y="1572.5" letter-spacing="0.5">-20.3</text><text x="1163.7" y="1572.5" letter-spacing="0.5">-08.9</text><text x="1447.7" y="1572.5" letter-spacing="0.5">+11.4</text><text x="1628.7" y="1572.5" letter-spacing="0.5">+22.5</text><text x="1809.2" y="1572.5" letter-spacing="0.5">+20.1</text><text x="255" y="1613">UT</text><text x="438.7" y="1613" letter-spacing="0.5">15:52</text><text x="618.7" y="1613" letter-spacing="0.5">16:05</text><text x="800.2" y="1613" letter-spacing="0.5">16:16</text><text x="981.7" y="1613" letter-spacing="0.5">16:28</text><text x="1163.7" y="1613" letter-spacing="0.5">16:39</text><text x="1447.7" y="1613" letter-spacing="0.5">15:15</text><text x="1628.7" y="1613" letter-spacing="0.5">15:27</text><text x="1809.2" y="1613" letter-spacing="0.5">15:39</text><text x="254.5" y="1653.5">SLT </text><text x="438.7" y="1653.5" letter-spacing="0.5">15:00</text><text x="618.7" y="1653.5" letter-spacing="0.5">18:00</text><text x="800.2" y="1653.5" letter-spacing="0.5">21:00</text><text x="981.7" y="1653.5" letter-spacing="0.5">00:00</text><text x="1163.7" y="1653.5" letter-spacing="0.5">03:00</text><text x="1447.7" y="1653.5" letter-spacing="0.5">06:00</text><text x="1628.7" y="1653.5" letter-spacing="0.5">09:00</text><text x="1809.2" y="1653.5" letter-spacing="0.5">12:00</text></g><g font-size="22"><text transform="translate(1899.7 1648) rotate(-90)" textLength="377" lengthAdjust="spacingAndGlyphs">Preliminary corrected calibration, 2/11/09</text><text transform="translate(1925 1648) rotate(-90)" textLength="297" lengthAdjust="spacingAndGlyphs">Produced 12-Sep-2011 10:13:34</text></g><path d="M260 975.5H1809M260 980.5H1809M260 984.5H1809M260 987.5H1809M260 990.5H1809M260 993.5H1809M260 995.5H1809M260 1011.5H1809M260 1020.5H1809M260 1026.5H1809M260 1031.5H1809M260 1035.5H1809M260 1039.5H1809M260 1042.5H1809M260 1044.5H1809M260 1046.5H1809M260 1062.5H1809M260 1071.5H1809M260 1077.5H1809M260 1082.5H1809M260 1086.5H1809M260 1090.5H1809M260 1093.5H1809M260 1095.5H1809M260 1098.5H1809M260 1113.5H1809M439.5 972V1121M619.5 972V1121M801.5 972V1121M982.5 972V1121M1164.5 972V1121M1448.5 972V1121M1629.5 972V1121M1809.5 972V1121" stroke="#000" stroke-width="1" stroke-dasharray="1 4" fill="none"/><path d="M260 975.5h7M1810 975.5h-7M260 980.5h7M1810 980.5h-7M260 984.5h7M1810 984.5h-7M260 987.5h7M1810 987.5h-7M260 990.5h7M1810 990.5h-7M260 993.5h7M1810 993.5h-7M260 995.5h15M1810 995.5h-15M260 1011.5h7M1810 1011.5h-7M260 1020.5h7M1810 1020.5h-7M260 1026.5h7M1810 1026.5h-7M260 1031.5h7M1810 1031.5h-7M260 1035.5h7M1810 1035.5h-7M260 1039.5h7M1810 1039.5h-7M260 1042.5h7M1810 1042.5h-7M260 1044.5h7M1810 1044.5h-7M260 1046.5h15M1810 1046.5h-15M260 1062.5h7M1810 1062.5h-7M260 1071.5h7M1810 1071.5h-7M260 1077.5h7M1810 1077.5h-7M260 1082.5h7M1810 1082.5h-7M260 1086.5h7M1810 1086.5h-7M260 1090.5h7M1810 1090.5h-7M260 1093.5h7M1810 1093.5h-7M260 1095.5h7M1810 1095.5h-7M260 1098.5h15M1810 1098.5h-15M260 1113.5h7M1810 1113.5h-7M439.5 970V986M439.5 1122V1106M619.5 970V986M619.5 1122V1106M801.5 970V986M801.5 1122V1106M982.5 970V986M982.5 1122V1106M1164.5 970V986M1164.5 1122V1106M1448.5 970V986M1448.5 1122V1106M1629.5 970V986M1629.5 1122V1106" stroke="#000" stroke-width="1" fill="none"/><g shape-rendering="crispEdges"><path fill="#0000b3" d="M554 969.5h2v28.5h-2zM554 1000.5h2v32.5h-2zM554 1035.5h2v36.5h-2zM554 1076h2v4.5h-2zM556 969.5h2v3.5h-2zM556 975.5h2v35h-2zM556 1013h2v63h-2zM558 969.5h2v81h-2zM558 1053h2v7.5h-2zM558 1063h2v5.5h-2zM560 969.5h2v8.5h-2zM560 980.5h2v5h-2zM560 988h2v32.5h-2zM560 1023h2v30h-2zM560 1055.5h2v30.5h-2zM562 969.5h2v61h-2zM562 1033h2v5h-2zM562 1040.5h2v5h-2zM564 969.5h2v11h-2zM564 983h2v52.5h-2zM564 1038h2v10h-2zM564 1050.5h2v2.5h-2zM564 1055.5h2v2.5h-2zM566 969.5h2v51h-2zM566 1023h2v7.5h-2zM566 1033h2v12.5h-2zM566 1050.5h2v2.5h-2zM566 1055.5h2v2.5h-2zM568 969.5h2v73.5h-2zM568 1045.5h2v10h-2zM568 1060.5h2v5h-2zM568 1068.5h2v7.5h-2zM568 1080.5h2v5.5h-2zM570 969.5h2v28.5h-2zM570 1000.5h2v75.5h-2zM570 1080.5h2v11h-2zM572 969.5h2v28.5h-2zM572 1000.5h2v25h-2zM572 1030.5h2v12.5h-2zM574 969.5h2v28.5h-2zM574 1000.5h2v22.5h-2zM574 1025.5h2v12.5h-2zM574 1040.5h2v17.5h-2zM574 1060.5h2v2.5h-2zM574 1065.5h2v3h-2zM574 1072h2v8.5h-2zM576 969.5h2v28.5h-2zM576 1003h2v60h-2zM576 1065.5h2v6.5h-2zM578 969.5h2v73.5h-2zM578 1048h2v2.5h-2zM578 1060.5h2v2.5h-2zM580 969.5h2v28.5h-2zM580 1000.5h2v80h-2zM582 969.5h2v28.5h-2zM582 1000.5h2v71.5h-2zM582 1080.5h2v11h-2zM584 969.5h2v102.5h-2zM584 1076h2v21.5h-2zM586 969.5h2v28.5h-2zM586 1000.5h2v25h-2zM586 1030.5h2v5h-2zM586 1038h2v12.5h-2zM588 969.5h2v58.5h-2zM588 1030.5h2v7.5h-2zM588 1040.5h2v2.5h-2zM588 1045.5h2v15h-2zM590 969.5h2v26h-2zM590 1000.5h2v5h-2zM590 1008h2v42.5h-2zM590 1053h2v19h-2zM592 969.5h2v88.5h-2zM594 969.5h2v28.5h-2zM594 1000.5h2v32.5h-2zM596 969.5h2v93.5h-2zM598 969.5h2v83.5h-2zM598 1058h2v2.5h-2zM600 969.5h2v83.5h-2zM600 1055.5h2v16.5h-2zM600 1076h2v15.5h-2zM602 969.5h2v71h-2zM602 1043h2v20h-2zM602 1076h2v10h-2zM604 969.5h2v106.5h-2zM604 1080.5h2v17h-2zM606 969.5h2v28.5h-2zM606 1000.5h2v85.5h-2zM608 969.5h2v58.5h-2zM608 1030.5h2v2.5h-2zM608 1035.5h2v40.5h-2zM608 1080.5h2v5.5h-2zM610 969.5h2v28.5h-2zM610 1003h2v73h-2zM612 969.5h2v78.5h-2zM612 1050.5h2v5h-2zM612 1065.5h2v3h-2zM614 969.5h2v28.5h-2zM614 1000.5h2v50h-2zM614 1053h2v27.5h-2zM616 969.5h2v28.5h-2zM616 1000.5h2v75.5h-2zM616 1080.5h2v5.5h-2zM618 969.5h2v28.5h-2zM618 1000.5h2v45h-2zM618 1048h2v7.5h-2zM618 1058h2v22.5h-2zM618 1086h2v5.5h-2zM620 969.5h2v28.5h-2zM620 1000.5h2v47.5h-2zM620 1050.5h2v5h-2zM620 1058h2v7.5h-2zM622 969.5h2v11h-2zM622 985.5h2v12.5h-2zM622 1000.5h2v68h-2zM622 1080.5h2v5.5h-2zM622 1091.5h2v6h-2zM624 969.5h2v13.5h-2zM624 985.5h2v70h-2zM624 1060.5h2v11.5h-2zM626 969.5h2v13.5h-2zM626 985.5h2v106h-2zM628 969.5h2v11h-2zM628 985.5h2v12.5h-2zM628 1000.5h2v12.5h-2zM628 1015.5h2v47.5h-2zM628 1065.5h2v10.5h-2zM628 1080.5h2v5.5h-2zM630 969.5h2v11h-2zM630 985.5h2v12.5h-2zM630 1000.5h2v85.5h-2zM632 969.5h2v11h-2zM632 985.5h2v12.5h-2zM632 1000.5h2v68h-2zM632 1072h2v8.5h-2zM634 969.5h2v13.5h-2zM634 985.5h2v70h-2zM634 1058h2v18h-2zM636 969.5h2v63.5h-2zM636 1035.5h2v33h-2zM636 1072h2v4h-2zM636 1080.5h2v5.5h-2zM638 969.5h2v11h-2zM638 983h2v5h-2zM638 990.5h2v7.5h-2zM638 1000.5h2v60h-2zM638 1063h2v2.5h-2zM638 1068.5h2v12h-2zM640 969.5h2v11h-2zM640 985.5h2v12.5h-2zM640 1000.5h2v5h-2zM640 1008h2v89.5h-2zM642 969.5h2v11h-2zM642 985.5h2v12.5h-2zM642 1000.5h2v50h-2zM642 1055.5h2v2.5h-2zM644 969.5h2v11h-2zM644 983h2v15h-2zM644 1000.5h2v80h-2zM644 1086h2v5.5h-2zM646 969.5h2v11h-2zM646 983h2v15h-2zM646 1000.5h2v85.5h-2zM648 969.5h2v13.5h-2zM648 985.5h2v27.5h-2zM648 1015.5h2v12.5h-2zM648 1030.5h2v30h-2zM648 1063h2v13h-2zM648 1080.5h2v5.5h-2zM650 969.5h2v11h-2zM650 985.5h2v65h-2zM650 1053h2v10h-2zM650 1065.5h2v3h-2zM650 1072h2v4h-2zM650 1080.5h2v5.5h-2zM652 969.5h2v11h-2zM652 988h2v50h-2zM652 1040.5h2v15h-2zM652 1060.5h2v2.5h-2zM654 969.5h2v11h-2zM654 983h2v47.5h-2zM654 1033h2v2.5h-2zM654 1040.5h2v2.5h-2zM656 969.5h2v11h-2zM656 985.5h2v37.5h-2zM656 1025.5h2v12.5h-2zM656 1040.5h2v5h-2zM656 1048h2v2.5h-2zM656 1065.5h2v3h-2zM658 969.5h2v11h-2zM658 985.5h2v22.5h-2zM658 1010.5h2v10h-2zM658 1023h2v17.5h-2zM658 1043h2v2.5h-2zM658 1053h2v2.5h-2zM660 969.5h2v13.5h-2zM660 988h2v10h-2zM660 1000.5h2v42.5h-2zM660 1045.5h2v5h-2zM660 1053h2v7.5h-2zM662 969.5h2v3.5h-2zM662 975.5h2v5h-2zM662 983h2v15h-2zM662 1000.5h2v30h-2zM662 1033h2v2.5h-2zM662 1038h2v7.5h-2zM662 1050.5h2v7.5h-2zM662 1060.5h2v5h-2zM664 969.5h2v11h-2zM664 983h2v15h-2zM664 1000.5h2v32.5h-2zM664 1035.5h2v17.5h-2zM664 1055.5h2v2.5h-2zM666 969.5h2v11h-2zM666 983h2v5h-2zM666 990.5h2v7.5h-2zM666 1000.5h2v25h-2zM666 1028h2v2.5h-2zM666 1033h2v10h-2zM666 1045.5h2v2.5h-2zM666 1053h2v2.5h-2zM668 969.5h2v11h-2zM668 983h2v15h-2zM668 1000.5h2v30h-2zM668 1033h2v5h-2zM668 1040.5h2v5h-2zM668 1048h2v2.5h-2zM668 1055.5h2v5h-2zM668 1063h2v5.5h-2zM670 969.5h2v11h-2zM670 983h2v15h-2zM670 1000.5h2v15h-2zM670 1018h2v15h-2zM670 1038h2v5h-2zM670 1045.5h2v10h-2zM670 1060.5h2v2.5h-2zM672 969.5h2v11h-2zM672 983h2v32.5h-2zM672 1018h2v27.5h-2zM672 1048h2v2.5h-2zM672 1053h2v2.5h-2zM672 1058h2v2.5h-2zM674 969.5h2v3.5h-2zM674 978h2v5h-2zM674 985.5h2v2.5h-2zM674 990.5h2v7.5h-2zM674 1000.5h2v32.5h-2zM674 1038h2v5h-2zM674 1045.5h2v7.5h-2zM674 1058h2v5h-2zM676 969.5h2v1h-2zM676 973h2v7.5h-2zM676 985.5h2v45h-2zM676 1033h2v12.5h-2zM678 969.5h2v11h-2zM678 985.5h2v5h-2zM678 993h2v15h-2zM678 1010.5h2v10h-2zM678 1023h2v20h-2zM678 1045.5h2v5h-2zM678 1053h2v2.5h-2zM680 969.5h2v11h-2zM680 983h2v15h-2zM680 1000.5h2v20h-2zM680 1023h2v7.5h-2zM680 1033h2v2.5h-2zM680 1043h2v2.5h-2zM682 969.5h2v11h-2zM682 985.5h2v32.5h-2zM682 1023h2v5h-2zM682 1030.5h2v7.5h-2zM682 1048h2v7.5h-2zM684 969.5h2v11h-2zM684 985.5h2v35h-2zM684 1023h2v7.5h-2zM684 1038h2v2.5h-2zM686 969.5h2v76h-2zM686 1048h2v5h-2zM686 1063h2v2.5h-2zM686 1076h2v4.5h-2zM688 969.5h2v73.5h-2zM688 1050.5h2v10h-2zM688 1063h2v2.5h-2zM690 969.5h2v31h-2zM690 1003h2v5h-2zM690 1010.5h2v45h-2zM690 1060.5h2v8h-2zM692 969.5h2v23.5h-2zM692 995.5h2v62.5h-2zM692 1060.5h2v15.5h-2zM692 1080.5h2v5.5h-2zM694 969.5h2v28.5h-2zM694 1000.5h2v27.5h-2zM694 1030.5h2v32.5h-2zM694 1068.5h2v7.5h-2zM696 969.5h2v28.5h-2zM696 1000.5h2v20h-2zM696 1023h2v57.5h-2zM696 1086h2v5.5h-2zM698 969.5h2v81h-2zM698 1055.5h2v7.5h-2zM698 1065.5h2v6.5h-2zM700 969.5h2v102.5h-2zM700 1091.5h2v6h-2zM702 969.5h2v28.5h-2zM702 1000.5h2v7.5h-2zM702 1010.5h2v58h-2zM702 1072h2v4h-2zM702 1080.5h2v5.5h-2zM704 969.5h2v28.5h-2zM704 1000.5h2v27.5h-2zM704 1030.5h2v27.5h-2zM704 1065.5h2v3h-2zM706 969.5h2v28.5h-2zM706 1000.5h2v68h-2zM706 1072h2v8.5h-2zM706 1086h2v5.5h-2zM708 969.5h2v83.5h-2zM708 1055.5h2v7.5h-2zM708 1076h2v4.5h-2zM708 1086h2v5.5h-2zM710 969.5h2v28.5h-2zM710 1000.5h2v47.5h-2zM710 1050.5h2v2.5h-2zM710 1055.5h2v5h-2zM712 969.5h2v11h-2zM712 983h2v89h-2zM712 1076h2v4.5h-2zM714 969.5h2v28.5h-2zM714 1000.5h2v57.5h-2zM714 1060.5h2v5h-2zM714 1072h2v8.5h-2zM716 969.5h2v61h-2zM716 1033h2v47.5h-2zM716 1086h2v5.5h-2zM718 969.5h2v56h-2zM718 1028h2v32.5h-2zM718 1063h2v13h-2zM718 1080.5h2v5.5h-2zM720 969.5h2v78.5h-2zM720 1050.5h2v21.5h-2zM722 969.5h2v23.5h-2zM722 995.5h2v85h-2zM722 1091.5h2v6h-2zM724 969.5h2v61h-2zM724 1033h2v7.5h-2zM724 1045.5h2v2.5h-2zM726 969.5h2v83.5h-2zM726 1055.5h2v5h-2zM728 969.5h2v96h-2zM728 1068.5h2v12h-2zM730 969.5h2v43.5h-2zM730 1015.5h2v2.5h-2zM730 1020.5h2v22.5h-2zM730 1045.5h2v46h-2zM732 969.5h2v86h-2zM732 1058h2v10.5h-2zM732 1072h2v8.5h-2zM734 969.5h2v46h-2zM734 1018h2v47.5h-2zM734 1068.5h2v3.5h-2zM736 969.5h2v28.5h-2zM736 1000.5h2v40h-2zM736 1043h2v25.5h-2zM736 1072h2v4h-2zM738 969.5h2v56h-2zM738 1028h2v15h-2zM738 1045.5h2v26.5h-2zM738 1080.5h2v5.5h-2zM740 969.5h2v11h-2zM740 983h2v45h-2zM740 1030.5h2v50h-2zM740 1086h2v5.5h-2zM742 969.5h2v33.5h-2zM742 1005.5h2v40h-2zM742 1048h2v7.5h-2zM742 1063h2v2.5h-2zM744 969.5h2v28.5h-2zM744 1000.5h2v62.5h-2zM744 1065.5h2v15h-2zM746 969.5h2v28.5h-2zM746 1000.5h2v45h-2zM746 1048h2v2.5h-2zM746 1058h2v14h-2zM748 969.5h2v28.5h-2zM748 1000.5h2v57.5h-2zM748 1060.5h2v8h-2zM748 1072h2v8.5h-2zM750 969.5h2v91h-2zM750 1063h2v13h-2zM752 969.5h2v1h-2zM752 973h2v32.5h-2zM752 1008h2v47.5h-2zM752 1060.5h2v11.5h-2zM754 969.5h2v28.5h-2zM754 1000.5h2v60h-2zM754 1065.5h2v3h-2zM754 1072h2v8.5h-2zM756 969.5h2v28.5h-2zM756 1000.5h2v15h-2zM756 1018h2v45h-2zM756 1065.5h2v10.5h-2zM758 969.5h2v91h-2zM758 1063h2v2.5h-2zM758 1076h2v4.5h-2zM760 969.5h2v43.5h-2zM760 1015.5h2v47.5h-2zM760 1065.5h2v3h-2zM760 1076h2v4.5h-2zM762 969.5h2v6h-2zM762 978h2v20h-2zM762 1000.5h2v75.5h-2zM762 1080.5h2v5.5h-2zM764 969.5h2v8.5h-2zM764 980.5h2v75h-2zM764 1058h2v14h-2zM764 1076h2v4.5h-2zM766 969.5h2v86h-2zM766 1060.5h2v2.5h-2zM766 1072h2v4h-2zM768 969.5h2v28.5h-2zM768 1000.5h2v42.5h-2zM768 1045.5h2v15h-2zM768 1063h2v17.5h-2zM770 969.5h2v38.5h-2zM770 1010.5h2v27.5h-2zM770 1040.5h2v15h-2zM772 969.5h2v81h-2zM772 1053h2v7.5h-2zM772 1065.5h2v15h-2zM774 969.5h2v43.5h-2zM774 1015.5h2v25h-2zM774 1043h2v15h-2zM774 1063h2v2.5h-2zM774 1072h2v8.5h-2zM776 969.5h2v23.5h-2zM776 995.5h2v30h-2zM776 1028h2v10h-2zM776 1043h2v2.5h-2zM776 1058h2v2.5h-2zM778 969.5h2v28.5h-2zM778 1000.5h2v47.5h-2zM780 969.5h2v28.5h-2zM780 1000.5h2v47.5h-2zM780 1050.5h2v15h-2zM780 1068.5h2v7.5h-2zM782 969.5h2v28.5h-2zM782 1000.5h2v55h-2zM782 1060.5h2v5h-2zM782 1072h2v8.5h-2zM784 969.5h2v26h-2zM784 1000.5h2v47.5h-2zM784 1050.5h2v2.5h-2zM784 1055.5h2v5h-2zM784 1063h2v9h-2zM784 1076h2v10h-2zM786 969.5h2v86h-2zM786 1058h2v5h-2zM786 1065.5h2v10.5h-2zM786 1080.5h2v5.5h-2zM788 969.5h2v13.5h-2zM788 985.5h2v7.5h-2zM788 995.5h2v22.5h-2zM788 1020.5h2v32.5h-2zM788 1055.5h2v5h-2zM788 1065.5h2v10.5h-2zM790 969.5h2v71h-2zM790 1048h2v2.5h-2zM790 1055.5h2v2.5h-2zM790 1060.5h2v2.5h-2zM792 969.5h2v66h-2zM792 1038h2v30.5h-2zM794 969.5h2v99h-2zM794 1072h2v8.5h-2zM794 1086h2v5.5h-2zM796 969.5h2v21h-2zM796 995.5h2v2.5h-2zM796 1000.5h2v55h-2zM796 1058h2v5h-2zM796 1065.5h2v6.5h-2zM796 1076h2v4.5h-2zM798 969.5h2v96h-2zM798 1068.5h2v3.5h-2zM798 1080.5h2v11h-2zM800 969.5h2v28.5h-2zM800 1000.5h2v2.5h-2zM800 1005.5h2v10h-2zM800 1018h2v40h-2zM800 1065.5h2v6.5h-2zM802 969.5h2v28.5h-2zM802 1000.5h2v55h-2zM802 1060.5h2v11.5h-2zM802 1080.5h2v5.5h-2zM804 969.5h2v46h-2zM804 1018h2v7.5h-2zM804 1028h2v5h-2zM804 1035.5h2v2.5h-2zM806 969.5h2v63.5h-2zM806 1035.5h2v10h-2zM806 1050.5h2v10h-2zM806 1063h2v5.5h-2zM806 1072h2v8.5h-2zM808 969.5h2v28.5h-2zM808 1000.5h2v17.5h-2zM808 1020.5h2v48h-2zM808 1072h2v4h-2zM810 969.5h2v28.5h-2zM810 1000.5h2v22.5h-2zM810 1025.5h2v5h-2zM810 1033h2v5h-2zM810 1040.5h2v2.5h-2zM812 969.5h2v28.5h-2zM812 1000.5h2v50h-2zM812 1053h2v5h-2zM812 1065.5h2v3h-2zM814 969.5h2v26h-2zM814 998h2v5h-2zM814 1005.5h2v2.5h-2zM814 1010.5h2v2.5h-2zM814 1015.5h2v2.5h-2zM814 1020.5h2v2.5h-2zM814 1025.5h2v2.5h-2zM814 1040.5h2v2.5h-2zM816 969.5h2v16h-2zM816 988h2v45h-2zM816 1035.5h2v12.5h-2zM818 969.5h2v1h-2zM818 973h2v12.5h-2zM818 988h2v2.5h-2zM818 993h2v2.5h-2zM818 1000.5h2v2.5h-2zM818 1005.5h2v5h-2zM818 1013h2v2.5h-2zM818 1020.5h2v2.5h-2zM820 969.5h2v28.5h-2zM820 1003h2v10h-2zM822 969.5h2v13.5h-2zM822 985.5h2v5h-2zM822 993h2v2.5h-2zM822 1000.5h2v7.5h-2zM824 969.5h2v11h-2zM824 983h2v5h-2zM824 990.5h2v7.5h-2zM824 1003h2v2.5h-2zM824 1020.5h2v2.5h-2zM826 969.5h2v21h-2zM826 993h2v10h-2zM826 1005.5h2v10h-2zM826 1018h2v2.5h-2zM826 1025.5h2v7.5h-2zM826 1035.5h2v2.5h-2zM828 969.5h2v3.5h-2zM828 978h2v5h-2zM828 985.5h2v10h-2zM828 1003h2v7.5h-2zM830 969.5h2v11h-2zM830 983h2v5h-2zM830 990.5h2v2.5h-2zM830 995.5h2v2.5h-2zM830 1003h2v2.5h-2zM830 1008h2v2.5h-2zM830 1018h2v7.5h-2zM830 1028h2v2.5h-2zM830 1033h2v2.5h-2zM830 1038h2v2.5h-2zM832 969.5h2v36h-2zM832 1008h2v2.5h-2zM832 1015.5h2v7.5h-2zM834 969.5h2v3.5h-2zM834 975.5h2v5h-2zM834 985.5h2v7.5h-2zM834 995.5h2v2.5h-2zM834 1003h2v2.5h-2zM834 1010.5h2v2.5h-2zM834 1015.5h2v5h-2zM834 1023h2v5h-2zM836 969.5h2v13.5h-2zM836 985.5h2v10h-2zM836 1008h2v5h-2zM836 1015.5h2v7.5h-2zM838 970.5h2v10h-2zM838 983h2v7.5h-2zM838 995.5h2v5h-2zM838 1003h2v5h-2zM838 1010.5h2v2.5h-2zM838 1015.5h2v2.5h-2zM840 969.5h2v26h-2zM840 998h2v15h-2zM840 1015.5h2v2.5h-2zM840 1025.5h2v2.5h-2zM842 969.5h2v6h-2zM842 978h2v20h-2zM842 1000.5h2v22.5h-2zM842 1025.5h2v5h-2zM842 1033h2v5h-2zM842 1043h2v2.5h-2zM842 1048h2v5h-2zM842 1055.5h2v2.5h-2zM842 1060.5h2v2.5h-2zM844 969.5h2v31h-2zM844 1003h2v10h-2zM844 1015.5h2v17.5h-2zM844 1035.5h2v7.5h-2zM844 1045.5h2v5h-2zM844 1053h2v5h-2zM846 969.5h2v53.5h-2zM846 1030.5h2v2.5h-2zM848 969.5h2v21h-2zM848 1000.5h2v2.5h-2zM848 1005.5h2v2.5h-2zM850 969.5h2v28.5h-2zM850 1000.5h2v2.5h-2zM850 1005.5h2v7.5h-2zM850 1015.5h2v5h-2zM850 1025.5h2v5h-2zM850 1033h2v10h-2zM852 969.5h2v21h-2zM852 993h2v15h-2zM852 1010.5h2v7.5h-2zM852 1020.5h2v2.5h-2zM854 969.5h2v13.5h-2zM854 985.5h2v12.5h-2zM854 1000.5h2v2.5h-2zM854 1005.5h2v2.5h-2zM854 1010.5h2v12.5h-2zM856 969.5h2v8.5h-2zM856 980.5h2v5h-2zM856 988h2v2.5h-2zM856 993h2v2.5h-2zM856 1000.5h2v7.5h-2zM858 969.5h2v11h-2zM858 983h2v5h-2zM858 993h2v5h-2zM858 1003h2v2.5h-2zM858 1010.5h2v2.5h-2zM858 1015.5h2v2.5h-2zM858 1020.5h2v2.5h-2zM860 969.5h2v13.5h-2zM860 985.5h2v2.5h-2zM860 993h2v2.5h-2zM860 1003h2v5h-2zM860 1015.5h2v5h-2zM862 969.5h2v3.5h-2zM862 975.5h2v12.5h-2zM862 995.5h2v2.5h-2zM862 1000.5h2v2.5h-2zM862 1008h2v5h-2zM864 969.5h2v18.5h-2zM864 990.5h2v7.5h-2zM864 1000.5h2v2.5h-2zM864 1005.5h2v5h-2zM866 969.5h2v1h-2zM866 973h2v10h-2zM866 988h2v2.5h-2zM866 1000.5h2v5h-2zM868 969.5h2v6h-2zM868 978h2v2.5h-2zM868 983h2v2.5h-2zM868 988h2v5h-2zM868 995.5h2v2.5h-2zM868 1000.5h2v5h-2zM868 1008h2v2.5h-2zM868 1015.5h2v5h-2zM870 969.5h2v26h-2zM870 1000.5h2v5h-2zM870 1013h2v2.5h-2zM872 970.5h2v5h-2zM872 978h2v12.5h-2zM874 969.5h2v18.5h-2zM874 993h2v5h-2zM874 1000.5h2v10h-2zM874 1013h2v2.5h-2zM874 1018h2v2.5h-2zM876 969.5h2v3.5h-2zM876 978h2v7.5h-2zM876 990.5h2v5h-2zM876 998h2v2.5h-2zM876 1003h2v2.5h-2zM878 969.5h2v3.5h-2zM878 975.5h2v5h-2zM878 983h2v2.5h-2zM878 988h2v2.5h-2zM878 1003h2v2.5h-2zM880 969.5h2v3.5h-2zM880 978h2v2.5h-2zM880 983h2v10h-2zM880 995.5h2v2.5h-2zM882 969.5h2v1h-2zM882 973h2v2.5h-2zM884 970.5h2v2.5h-2zM884 978h2v2.5h-2zM884 985.5h2v2.5h-2zM886 969.5h2v8.5h-2zM886 980.5h2v2.5h-2zM888 969.5h2v6h-2zM888 983h2v2.5h-2zM890 969.5h2v3.5h-2zM890 975.5h2v2.5h-2zM890 983h2v2.5h-2zM890 990.5h2v2.5h-2zM892 969.5h2v1h-2zM892 973h2v2.5h-2zM894 973h2v2.5h-2zM894 978h2v2.5h-2zM894 983h2v2.5h-2zM896 969.5h2v3.5h-2zM896 975.5h2v2.5h-2zM896 980.5h2v2.5h-2zM896 985.5h2v2.5h-2zM896 1000.5h2v2.5h-2zM898 969.5h2v1h-2zM898 973h2v5h-2zM898 983h2v2.5h-2zM898 993h2v2.5h-2zM898 998h2v2.5h-2zM898 1005.5h2v2.5h-2zM898 1013h2v5h-2zM900 970.5h2v2.5h-2zM900 980.5h2v7.5h-2zM900 993h2v2.5h-2zM900 1003h2v2.5h-2zM902 969.5h2v16h-2zM902 988h2v2.5h-2zM902 993h2v2.5h-2zM902 998h2v7.5h-2zM904 978h2v5h-2zM906 969.5h2v1h-2zM906 973h2v5h-2zM906 983h2v2.5h-2zM908 969.5h2v1h-2zM908 980.5h2v2.5h-2zM908 985.5h2v2.5h-2zM910 969.5h2v1h-2zM910 978h2v2.5h-2zM910 985.5h2v2.5h-2zM910 993h2v2.5h-2zM912 969.5h2v3.5h-2zM912 980.5h2v2.5h-2zM912 990.5h2v5h-2zM914 970.5h2v5h-2zM914 988h2v2.5h-2zM916 975.5h2v2.5h-2zM916 980.5h2v5h-2zM916 993h2v2.5h-2zM918 969.5h2v6h-2zM918 978h2v5h-2zM920 969.5h2v6h-2zM920 978h2v2.5h-2zM920 985.5h2v2.5h-2zM920 998h2v2.5h-2zM920 1003h2v2.5h-2zM922 973h2v5h-2zM922 980.5h2v2.5h-2zM922 993h2v2.5h-2zM924 973h2v5h-2zM928 970.5h2v2.5h-2zM928 983h2v5h-2zM930 978h2v2.5h-2zM930 993h2v2.5h-2zM932 970.5h2v2.5h-2zM932 978h2v2.5h-2zM932 983h2v10h-2zM934 969.5h2v16h-2zM934 990.5h2v2.5h-2zM936 969.5h2v23.5h-2zM936 995.5h2v2.5h-2zM936 1003h2v10h-2zM936 1015.5h2v2.5h-2zM936 1025.5h2v5h-2zM936 1033h2v2.5h-2zM936 1038h2v2.5h-2zM938 969.5h2v6h-2zM938 978h2v10h-2zM938 990.5h2v5h-2zM938 1000.5h2v5h-2zM938 1008h2v7.5h-2zM938 1020.5h2v2.5h-2zM938 1025.5h2v2.5h-2zM938 1033h2v2.5h-2zM940 969.5h2v8.5h-2zM940 983h2v7.5h-2zM940 993h2v5h-2zM940 1015.5h2v2.5h-2zM940 1028h2v2.5h-2zM942 969.5h2v16h-2zM942 990.5h2v2.5h-2zM942 1000.5h2v5h-2zM942 1008h2v2.5h-2zM944 969.5h2v18.5h-2zM944 990.5h2v7.5h-2zM944 1000.5h2v2.5h-2zM944 1005.5h2v2.5h-2zM946 969.5h2v1h-2zM946 975.5h2v2.5h-2zM946 983h2v2.5h-2zM946 988h2v10h-2zM948 969.5h2v6h-2zM948 978h2v30h-2zM948 1010.5h2v7.5h-2zM948 1020.5h2v2.5h-2zM948 1038h2v2.5h-2zM950 969.5h2v13.5h-2zM950 985.5h2v15h-2zM950 1003h2v2.5h-2zM950 1010.5h2v2.5h-2zM952 969.5h2v18.5h-2zM952 993h2v12.5h-2zM954 969.5h2v16h-2zM954 988h2v2.5h-2zM954 1008h2v2.5h-2zM956 969.5h2v28.5h-2zM956 1000.5h2v10h-2zM956 1020.5h2v5h-2zM956 1028h2v2.5h-2zM956 1033h2v2.5h-2zM958 969.5h2v6h-2zM958 978h2v12.5h-2zM958 993h2v12.5h-2zM958 1008h2v2.5h-2zM960 969.5h2v16h-2zM960 988h2v2.5h-2zM960 993h2v5h-2zM960 1003h2v2.5h-2zM960 1018h2v2.5h-2zM962 973h2v5h-2zM962 983h2v10h-2zM962 995.5h2v2.5h-2zM964 969.5h2v8.5h-2zM964 980.5h2v7.5h-2zM964 990.5h2v7.5h-2zM964 1000.5h2v2.5h-2zM964 1005.5h2v5h-2zM964 1013h2v2.5h-2zM964 1018h2v2.5h-2zM964 1033h2v2.5h-2zM966 969.5h2v16h-2zM966 988h2v2.5h-2zM966 993h2v5h-2zM966 1003h2v5h-2zM966 1010.5h2v5h-2zM966 1020.5h2v2.5h-2zM968 969.5h2v13.5h-2zM968 985.5h2v7.5h-2zM968 995.5h2v7.5h-2zM968 1008h2v5h-2zM968 1015.5h2v5h-2zM968 1030.5h2v2.5h-2zM968 1035.5h2v2.5h-2zM968 1040.5h2v2.5h-2zM970 969.5h2v28.5h-2zM970 1003h2v15h-2zM970 1023h2v2.5h-2zM970 1028h2v2.5h-2zM972 969.5h2v1h-2zM972 973h2v2.5h-2zM972 980.5h2v7.5h-2zM972 990.5h2v2.5h-2zM972 995.5h2v7.5h-2zM972 1008h2v2.5h-2zM972 1018h2v2.5h-2zM972 1023h2v2.5h-2zM974 969.5h2v1h-2zM974 973h2v15h-2zM974 990.5h2v2.5h-2zM974 995.5h2v2.5h-2zM974 1005.5h2v12.5h-2zM974 1020.5h2v2.5h-2zM974 1025.5h2v2.5h-2zM974 1033h2v2.5h-2zM974 1038h2v5h-2zM976 970.5h2v15h-2zM976 990.5h2v2.5h-2zM976 995.5h2v2.5h-2zM976 1003h2v2.5h-2zM978 969.5h2v1h-2zM978 975.5h2v5h-2zM978 985.5h2v2.5h-2zM978 990.5h2v2.5h-2zM978 995.5h2v2.5h-2zM978 1000.5h2v2.5h-2zM978 1010.5h2v2.5h-2zM978 1015.5h2v2.5h-2zM980 969.5h2v3.5h-2zM980 975.5h2v25h-2zM980 1003h2v7.5h-2zM980 1013h2v5h-2zM980 1020.5h2v5h-2zM980 1030.5h2v2.5h-2zM982 969.5h2v6h-2zM982 978h2v17.5h-2zM984 969.5h2v21h-2zM984 993h2v2.5h-2zM984 1000.5h2v2.5h-2zM986 969.5h2v28.5h-2zM986 1000.5h2v5h-2zM986 1008h2v2.5h-2zM986 1023h2v5h-2zM988 969.5h2v11h-2zM988 988h2v2.5h-2zM988 995.5h2v5h-2zM988 1005.5h2v2.5h-2zM990 969.5h2v1h-2zM990 973h2v2.5h-2zM990 980.5h2v7.5h-2zM990 995.5h2v2.5h-2zM992 969.5h2v3.5h-2zM992 978h2v17.5h-2zM992 1003h2v2.5h-2zM992 1008h2v2.5h-2zM992 1013h2v2.5h-2zM994 969.5h2v18.5h-2zM994 990.5h2v15h-2zM994 1008h2v5h-2zM994 1015.5h2v10h-2zM994 1028h2v7.5h-2zM994 1038h2v2.5h-2zM996 969.5h2v28.5h-2zM996 1000.5h2v97h-2zM998 969.5h2v102.5h-2zM998 1076h2v4.5h-2zM1000 969.5h2v21h-2zM1000 993h2v52.5h-2zM1000 1050.5h2v2.5h-2zM1000 1055.5h2v2.5h-2zM1000 1060.5h2v2.5h-2zM1002 969.5h2v36h-2zM1002 1008h2v12.5h-2zM1002 1025.5h2v10h-2zM1002 1040.5h2v2.5h-2zM1002 1048h2v5h-2zM1004 969.5h2v43.5h-2zM1004 1015.5h2v12.5h-2zM1004 1030.5h2v5h-2zM1004 1043h2v7.5h-2zM1004 1055.5h2v2.5h-2zM1006 969.5h2v51h-2zM1006 1023h2v10h-2zM1006 1035.5h2v2.5h-2zM1006 1040.5h2v2.5h-2zM1006 1048h2v5h-2zM1008 969.5h2v53.5h-2zM1008 1035.5h2v2.5h-2zM1008 1045.5h2v2.5h-2zM1010 969.5h2v28.5h-2zM1010 1000.5h2v20h-2zM1010 1023h2v5h-2zM1010 1030.5h2v5h-2zM1010 1038h2v5h-2zM1010 1045.5h2v2.5h-2zM1012 969.5h2v23.5h-2zM1012 995.5h2v7.5h-2zM1012 1005.5h2v12.5h-2zM1012 1020.5h2v12.5h-2zM1012 1038h2v2.5h-2zM1014 969.5h2v28.5h-2zM1014 1000.5h2v37.5h-2zM1014 1040.5h2v5h-2zM1014 1048h2v2.5h-2zM1016 969.5h2v28.5h-2zM1016 1000.5h2v5h-2zM1016 1008h2v2.5h-2zM1016 1013h2v2.5h-2zM1016 1018h2v2.5h-2zM1016 1025.5h2v2.5h-2zM1016 1030.5h2v2.5h-2zM1016 1035.5h2v2.5h-2zM1016 1040.5h2v5h-2zM1016 1048h2v2.5h-2zM1018 969.5h2v18.5h-2zM1018 990.5h2v2.5h-2zM1018 995.5h2v2.5h-2zM1018 1000.5h2v5h-2zM1018 1008h2v12.5h-2zM1018 1023h2v2.5h-2zM1018 1028h2v2.5h-2zM1018 1035.5h2v2.5h-2zM1020 969.5h2v28.5h-2zM1020 1000.5h2v7.5h-2zM1020 1010.5h2v27.5h-2zM1020 1045.5h2v2.5h-2zM1022 969.5h2v28.5h-2zM1022 1000.5h2v17.5h-2zM1022 1020.5h2v22.5h-2zM1022 1045.5h2v2.5h-2zM1022 1053h2v2.5h-2zM1024 969.5h2v58.5h-2zM1024 1030.5h2v5h-2zM1024 1038h2v5h-2zM1024 1048h2v2.5h-2zM1026 969.5h2v13.5h-2zM1026 988h2v20h-2zM1026 1010.5h2v20h-2zM1026 1038h2v5h-2zM1028 969.5h2v3.5h-2zM1028 975.5h2v32.5h-2zM1028 1010.5h2v7.5h-2zM1028 1020.5h2v2.5h-2zM1028 1025.5h2v2.5h-2zM1028 1033h2v5h-2zM1030 969.5h2v28.5h-2zM1030 1000.5h2v7.5h-2zM1030 1010.5h2v2.5h-2zM1030 1020.5h2v10h-2zM1030 1035.5h2v2.5h-2zM1032 969.5h2v28.5h-2zM1032 1000.5h2v10h-2zM1032 1013h2v5h-2zM1032 1020.5h2v7.5h-2zM1032 1030.5h2v5h-2zM1032 1038h2v2.5h-2zM1032 1043h2v2.5h-2zM1032 1050.5h2v2.5h-2zM1034 969.5h2v33.5h-2zM1034 1005.5h2v15h-2zM1034 1023h2v2.5h-2zM1034 1028h2v2.5h-2zM1034 1033h2v2.5h-2zM1034 1043h2v2.5h-2zM1036 969.5h2v28.5h-2zM1036 1000.5h2v7.5h-2zM1036 1015.5h2v2.5h-2zM1036 1023h2v5h-2zM1036 1033h2v2.5h-2zM1038 969.5h2v33.5h-2zM1038 1005.5h2v15h-2zM1038 1023h2v7.5h-2zM1038 1033h2v2.5h-2zM1040 969.5h2v23.5h-2zM1040 995.5h2v2.5h-2zM1040 1008h2v5h-2zM1040 1018h2v10h-2zM1040 1033h2v2.5h-2zM1040 1038h2v2.5h-2zM1042 969.5h2v28.5h-2zM1042 1000.5h2v2.5h-2zM1042 1010.5h2v10h-2zM1042 1023h2v2.5h-2zM1042 1035.5h2v2.5h-2zM1044 969.5h2v21h-2zM1044 993h2v5h-2zM1044 1000.5h2v2.5h-2zM1044 1008h2v15h-2zM1046 969.5h2v26h-2zM1046 1003h2v12.5h-2zM1046 1018h2v2.5h-2zM1046 1025.5h2v7.5h-2zM1046 1035.5h2v2.5h-2zM1046 1043h2v2.5h-2zM1048 969.5h2v28.5h-2zM1048 1000.5h2v7.5h-2zM1048 1013h2v10h-2zM1048 1028h2v10h-2zM1050 969.5h2v38.5h-2zM1050 1010.5h2v2.5h-2zM1050 1015.5h2v17.5h-2zM1050 1035.5h2v2.5h-2zM1050 1045.5h2v2.5h-2zM1052 969.5h2v28.5h-2zM1052 1000.5h2v32.5h-2zM1052 1035.5h2v5h-2zM1052 1043h2v2.5h-2zM1052 1048h2v5h-2zM1054 969.5h2v28.5h-2zM1054 1000.5h2v15h-2zM1054 1018h2v2.5h-2zM1054 1025.5h2v5h-2zM1054 1038h2v2.5h-2zM1056 969.5h2v61h-2zM1056 1035.5h2v5h-2zM1056 1048h2v2.5h-2zM1058 969.5h2v18.5h-2zM1058 990.5h2v7.5h-2zM1058 1000.5h2v7.5h-2zM1058 1013h2v10h-2zM1058 1033h2v2.5h-2zM1058 1048h2v2.5h-2zM1060 969.5h2v23.5h-2zM1060 995.5h2v20h-2zM1060 1020.5h2v7.5h-2zM1062 969.5h2v28.5h-2zM1062 1000.5h2v7.5h-2zM1062 1010.5h2v5h-2zM1062 1018h2v5h-2zM1062 1033h2v2.5h-2zM1064 969.5h2v31h-2zM1064 1003h2v30h-2zM1064 1035.5h2v10h-2zM1064 1048h2v2.5h-2zM1066 969.5h2v18.5h-2zM1066 990.5h2v7.5h-2zM1066 1000.5h2v15h-2zM1066 1018h2v5h-2zM1066 1025.5h2v7.5h-2zM1066 1040.5h2v2.5h-2zM1068 969.5h2v58.5h-2zM1068 1030.5h2v2.5h-2zM1068 1038h2v2.5h-2zM1068 1043h2v5h-2zM1068 1050.5h2v2.5h-2zM1070 969.5h2v28.5h-2zM1070 1000.5h2v12.5h-2zM1070 1015.5h2v20h-2zM1070 1040.5h2v5h-2zM1070 1050.5h2v2.5h-2zM1072 969.5h2v38.5h-2zM1072 1010.5h2v17.5h-2zM1072 1030.5h2v2.5h-2zM1072 1040.5h2v2.5h-2zM1072 1045.5h2v2.5h-2zM1074 970.5h2v27.5h-2zM1074 1003h2v10h-2zM1074 1015.5h2v2.5h-2zM1074 1023h2v2.5h-2zM1074 1028h2v2.5h-2zM1074 1040.5h2v2.5h-2zM1076 969.5h2v56h-2zM1076 1030.5h2v5h-2zM1076 1043h2v2.5h-2zM1078 969.5h2v23.5h-2zM1078 995.5h2v2.5h-2zM1078 1000.5h2v15h-2zM1078 1018h2v2.5h-2zM1078 1025.5h2v5h-2zM1080 969.5h2v28.5h-2zM1080 1000.5h2v7.5h-2zM1080 1013h2v5h-2zM1080 1020.5h2v7.5h-2zM1080 1030.5h2v5h-2zM1080 1038h2v7.5h-2zM1082 969.5h2v21h-2zM1082 993h2v2.5h-2zM1082 998h2v7.5h-2zM1082 1008h2v7.5h-2zM1082 1018h2v5h-2zM1082 1025.5h2v2.5h-2zM1084 969.5h2v21h-2zM1084 993h2v5h-2zM1084 1000.5h2v2.5h-2zM1084 1005.5h2v2.5h-2zM1084 1013h2v2.5h-2zM1084 1018h2v5h-2zM1084 1025.5h2v7.5h-2zM1086 969.5h2v8.5h-2zM1086 980.5h2v17.5h-2zM1086 1000.5h2v5h-2zM1086 1008h2v25h-2zM1086 1035.5h2v2.5h-2zM1086 1048h2v2.5h-2zM1086 1060.5h2v2.5h-2zM1088 969.5h2v28.5h-2zM1088 1000.5h2v10h-2zM1088 1013h2v15h-2zM1088 1030.5h2v2.5h-2zM1090 969.5h2v28.5h-2zM1090 1003h2v12.5h-2zM1090 1020.5h2v2.5h-2zM1090 1025.5h2v5h-2zM1090 1033h2v2.5h-2zM1090 1043h2v2.5h-2zM1092 969.5h2v16h-2zM1092 988h2v10h-2zM1092 1000.5h2v20h-2zM1092 1023h2v2.5h-2zM1092 1028h2v10h-2zM1094 969.5h2v23.5h-2zM1094 995.5h2v2.5h-2zM1094 1000.5h2v12.5h-2zM1094 1018h2v2.5h-2zM1094 1028h2v5h-2zM1094 1035.5h2v2.5h-2zM1096 969.5h2v46h-2zM1096 1018h2v22.5h-2zM1096 1045.5h2v5h-2zM1096 1053h2v2.5h-2zM1098 969.5h2v11h-2zM1098 983h2v7.5h-2zM1098 993h2v5h-2zM1098 1000.5h2v17.5h-2zM1098 1020.5h2v7.5h-2zM1098 1030.5h2v7.5h-2zM1100 969.5h2v28.5h-2zM1100 1000.5h2v27.5h-2zM1100 1033h2v2.5h-2zM1100 1045.5h2v2.5h-2zM1100 1050.5h2v2.5h-2zM1102 969.5h2v28.5h-2zM1102 1000.5h2v12.5h-2zM1102 1018h2v2.5h-2zM1102 1023h2v2.5h-2zM1102 1028h2v2.5h-2zM1102 1033h2v2.5h-2zM1104 969.5h2v38.5h-2zM1104 1013h2v7.5h-2zM1104 1025.5h2v7.5h-2zM1106 969.5h2v3.5h-2zM1106 975.5h2v30h-2zM1106 1010.5h2v10h-2zM1106 1023h2v2.5h-2zM1106 1028h2v2.5h-2zM1108 969.5h2v31h-2zM1108 1005.5h2v5h-2zM1108 1013h2v5h-2zM1108 1020.5h2v5h-2zM1108 1028h2v2.5h-2zM1108 1035.5h2v2.5h-2zM1110 969.5h2v28.5h-2zM1110 1000.5h2v7.5h-2zM1110 1010.5h2v10h-2zM1110 1025.5h2v5h-2zM1110 1035.5h2v7.5h-2zM1110 1045.5h2v2.5h-2zM1112 969.5h2v51h-2zM1112 1023h2v2.5h-2zM1112 1028h2v2.5h-2zM1112 1038h2v7.5h-2zM1114 969.5h2v28.5h-2zM1114 1003h2v17.5h-2zM1114 1023h2v2.5h-2zM1114 1028h2v2.5h-2zM1114 1033h2v5h-2zM1114 1040.5h2v2.5h-2zM1116 969.5h2v16h-2zM1116 988h2v10h-2zM1116 1003h2v10h-2zM1116 1018h2v2.5h-2zM1116 1028h2v5h-2zM1116 1035.5h2v2.5h-2zM1118 969.5h2v28.5h-2zM1118 1003h2v2.5h-2zM1118 1010.5h2v10h-2zM1118 1030.5h2v2.5h-2zM1120 969.5h2v38.5h-2zM1120 1010.5h2v2.5h-2zM1120 1015.5h2v10h-2zM1120 1038h2v2.5h-2zM1120 1043h2v2.5h-2zM1122 969.5h2v28.5h-2zM1122 1000.5h2v17.5h-2zM1122 1020.5h2v35h-2zM1122 1063h2v9h-2zM1122 1076h2v10h-2zM1124 969.5h2v1h-2zM1124 973h2v65h-2zM1124 1040.5h2v45.5h-2zM1124 1091.5h2v6h-2zM1126 969.5h2v31h-2zM1126 1003h2v55h-2zM1126 1060.5h2v8h-2zM1128 969.5h2v93.5h-2zM1130 969.5h2v3.5h-2zM1130 975.5h2v65h-2zM1132 969.5h2v46h-2zM1134 969.5h2v23.5h-2zM1136 969.5h2v3.5h-2zM1138 969.5h2v3.5h-2zM1140 969.5h2v6h-2zM1140 978h2v15h-2zM1142 969.5h2v46h-2zM1144 969.5h2v6h-2zM1144 978h2v40h-2zM1144 1020.5h2v7.5h-2zM1144 1030.5h2v2.5h-2zM1146 969.5h2v1h-2zM1146 975.5h2v2.5h-2zM1146 980.5h2v2.5h-2zM1146 988h2v2.5h-2zM1148 975.5h2v5h-2zM1150 969.5h2v1h-2zM1150 973h2v7.5h-2zM1150 988h2v2.5h-2zM1150 993h2v2.5h-2zM1150 1005.5h2v2.5h-2zM1152 970.5h2v2.5h-2zM1152 978h2v2.5h-2zM1154 969.5h2v6h-2zM1154 983h2v2.5h-2zM1154 988h2v2.5h-2zM1156 970.5h2v2.5h-2zM1156 980.5h2v2.5h-2zM1156 985.5h2v2.5h-2zM1156 993h2v2.5h-2zM1156 998h2v2.5h-2zM1158 970.5h2v5h-2zM1158 978h2v2.5h-2zM1160 970.5h2v2.5h-2zM1162 969.5h2v3.5h-2zM1164 978h2v5h-2zM1164 993h2v2.5h-2zM1166 970.5h2v20h-2zM1166 993h2v5h-2zM1166 1000.5h2v5h-2zM1168 970.5h2v2.5h-2zM1168 980.5h2v2.5h-2zM1168 988h2v2.5h-2zM1170 969.5h2v8.5h-2zM1172 969.5h2v1h-2zM1174 969.5h2v8.5h-2zM1176 970.5h2v5h-2zM1176 978h2v2.5h-2zM1176 983h2v2.5h-2zM1176 988h2v2.5h-2zM1178 969.5h2v23.5h-2zM1178 1003h2v2.5h-2zM1180 969.5h2v8.5h-2zM1180 980.5h2v2.5h-2zM1180 990.5h2v2.5h-2zM1180 995.5h2v2.5h-2zM1180 1003h2v2.5h-2zM1180 1008h2v5h-2zM1182 969.5h2v28.5h-2zM1182 1003h2v10h-2zM1184 970.5h2v10h-2zM1184 983h2v7.5h-2zM1184 995.5h2v2.5h-2zM1186 969.5h2v16h-2zM1186 988h2v12.5h-2zM1186 1003h2v10h-2zM1186 1015.5h2v5h-2zM1186 1030.5h2v2.5h-2zM1188 969.5h2v13.5h-2zM1188 985.5h2v2.5h-2zM1188 990.5h2v2.5h-2zM1188 1000.5h2v2.5h-2zM1188 1008h2v5h-2zM1188 1018h2v2.5h-2zM1298 969.5h2v48.5h-2zM1298 1023h2v5h-2zM1298 1030.5h2v5h-2zM1298 1040.5h2v5h-2zM1300 970.5h2v30h-2zM1300 1005.5h2v2.5h-2zM1300 1010.5h2v15h-2zM1300 1028h2v2.5h-2zM1302 969.5h2v13.5h-2zM1302 985.5h2v2.5h-2zM1302 990.5h2v2.5h-2zM1302 998h2v7.5h-2zM1302 1010.5h2v10h-2zM1302 1023h2v7.5h-2zM1302 1033h2v2.5h-2zM1302 1038h2v2.5h-2zM1304 969.5h2v43.5h-2zM1304 1015.5h2v2.5h-2zM1304 1020.5h2v2.5h-2zM1304 1025.5h2v5h-2zM1306 969.5h2v46h-2zM1306 1018h2v12.5h-2zM1306 1035.5h2v10h-2zM1306 1048h2v2.5h-2zM1308 970.5h2v15h-2zM1308 988h2v17.5h-2zM1308 1008h2v10h-2zM1308 1020.5h2v5h-2zM1308 1028h2v7.5h-2zM1308 1038h2v2.5h-2zM1310 969.5h2v26h-2zM1310 998h2v2.5h-2zM1310 1003h2v2.5h-2zM1310 1008h2v15h-2zM1312 969.5h2v23.5h-2zM1312 998h2v5h-2zM1312 1013h2v2.5h-2zM1312 1020.5h2v2.5h-2zM1312 1025.5h2v2.5h-2zM1314 969.5h2v33.5h-2zM1314 1005.5h2v2.5h-2zM1314 1013h2v2.5h-2zM1314 1018h2v2.5h-2zM1314 1023h2v2.5h-2zM1314 1028h2v5h-2zM1316 969.5h2v28.5h-2zM1316 1000.5h2v5h-2zM1316 1008h2v7.5h-2zM1316 1018h2v2.5h-2zM1316 1023h2v2.5h-2zM1316 1028h2v5h-2zM1318 969.5h2v21h-2zM1318 995.5h2v5h-2zM1318 1003h2v2.5h-2zM1318 1008h2v5h-2zM1318 1015.5h2v10h-2zM1318 1028h2v2.5h-2zM1320 969.5h2v28.5h-2zM1320 1005.5h2v7.5h-2zM1320 1015.5h2v2.5h-2zM1322 969.5h2v28.5h-2zM1322 1000.5h2v5h-2zM1322 1010.5h2v7.5h-2zM1322 1020.5h2v2.5h-2zM1322 1025.5h2v5h-2zM1324 969.5h2v6h-2zM1324 978h2v30h-2zM1324 1010.5h2v5h-2zM1324 1018h2v15h-2zM1324 1035.5h2v2.5h-2zM1326 969.5h2v28.5h-2zM1326 1000.5h2v7.5h-2zM1326 1013h2v5h-2zM1326 1023h2v2.5h-2zM1326 1028h2v7.5h-2zM1328 969.5h2v36h-2zM1328 1010.5h2v2.5h-2zM1328 1015.5h2v2.5h-2zM1328 1023h2v10h-2zM1328 1035.5h2v2.5h-2zM1330 969.5h2v31h-2zM1330 1003h2v15h-2zM1330 1020.5h2v5h-2zM1330 1028h2v2.5h-2zM1330 1035.5h2v2.5h-2zM1330 1040.5h2v2.5h-2zM1332 969.5h2v23.5h-2zM1332 995.5h2v30h-2zM1332 1033h2v5h-2zM1332 1043h2v2.5h-2zM1332 1048h2v2.5h-2zM1332 1053h2v2.5h-2zM1334 969.5h2v46h-2zM1334 1018h2v5h-2zM1334 1025.5h2v7.5h-2zM1334 1035.5h2v7.5h-2zM1334 1045.5h2v2.5h-2zM1334 1053h2v2.5h-2zM1336 969.5h2v56h-2zM1336 1028h2v7.5h-2zM1336 1040.5h2v5h-2zM1336 1050.5h2v2.5h-2zM1338 969.5h2v16h-2zM1338 988h2v45h-2zM1338 1038h2v2.5h-2zM1338 1045.5h2v2.5h-2zM1340 969.5h2v16h-2zM1340 988h2v42.5h-2zM1340 1033h2v2.5h-2zM1340 1038h2v2.5h-2zM1340 1045.5h2v2.5h-2zM1340 1053h2v2.5h-2zM1342 969.5h2v28.5h-2zM1342 1000.5h2v22.5h-2zM1342 1025.5h2v17.5h-2zM1342 1050.5h2v2.5h-2zM1342 1055.5h2v2.5h-2z"/><path fill="#0000e6" d="M554 998h2v2.5h-2zM554 1033h2v2.5h-2zM554 1107h2v15h-2zM556 1010.5h2v2.5h-2zM556 1097.5h2v24.5h-2zM558 1091.5h2v15.5h-2zM560 1053h2v2.5h-2zM560 1107h2v15h-2zM562 1072h2v4h-2zM564 1035.5h2v2.5h-2zM564 1068.5h2v3.5h-2zM564 1076h2v10h-2zM566 1020.5h2v2.5h-2zM566 1076h2v15.5h-2zM568 1097.5h2v9.5h-2zM570 998h2v2.5h-2zM572 1076h2v4.5h-2zM574 1023h2v2.5h-2zM574 1038h2v2.5h-2zM574 1058h2v2.5h-2zM576 1000.5h2v2.5h-2zM576 1091.5h2v15.5h-2zM578 1072h2v4h-2zM578 1080.5h2v5.5h-2zM582 1076h2v4.5h-2zM582 1107h2v15h-2zM584 1072h2v4h-2zM586 998h2v2.5h-2zM586 1072h2v4h-2zM586 1086h2v5.5h-2zM588 1076h2v15.5h-2zM590 995.5h2v2.5h-2zM590 1005.5h2v2.5h-2zM590 1097.5h2v24.5h-2zM592 1065.5h2v10.5h-2zM592 1080.5h2v5.5h-2zM594 998h2v2.5h-2zM594 1035.5h2v2.5h-2zM596 1065.5h2v10.5h-2zM598 1086h2v11.5h-2zM600 1107h2v15h-2zM604 1107h2v15h-2zM606 1107h2v15h-2zM608 1033h2v2.5h-2zM608 1097.5h2v9.5h-2zM610 1000.5h2v2.5h-2zM610 1107h2v15h-2zM612 1076h2v4.5h-2zM612 1086h2v5.5h-2zM614 998h2v2.5h-2zM614 1097.5h2v9.5h-2zM620 1091.5h2v6h-2zM622 998h2v2.5h-2zM622 1076h2v4.5h-2zM622 1107h2v15h-2zM624 1058h2v2.5h-2zM624 1097.5h2v9.5h-2zM628 998h2v2.5h-2zM630 980.5h2v2.5h-2zM630 1091.5h2v6h-2zM632 998h2v2.5h-2zM632 1097.5h2v9.5h-2zM636 1107h2v15h-2zM638 988h2v2.5h-2zM640 1005.5h2v2.5h-2zM642 1080.5h2v11h-2zM644 1080.5h2v5.5h-2zM646 1107h2v15h-2zM648 983h2v2.5h-2zM650 1097.5h2v9.5h-2zM652 1091.5h2v15.5h-2zM654 1072h2v8.5h-2zM656 1038h2v2.5h-2zM656 1055.5h2v2.5h-2zM656 1086h2v11.5h-2zM658 1065.5h2v3h-2zM658 1076h2v15.5h-2zM660 985.5h2v2.5h-2zM660 1080.5h2v11h-2zM662 1091.5h2v6h-2zM664 1033h2v2.5h-2zM664 1076h2v4.5h-2zM664 1086h2v5.5h-2zM666 988h2v2.5h-2zM666 1076h2v4.5h-2zM666 1086h2v5.5h-2zM668 1076h2v4.5h-2zM668 1086h2v11.5h-2zM670 998h2v2.5h-2zM670 1086h2v5.5h-2zM672 1086h2v5.5h-2zM674 975.5h2v2.5h-2zM674 983h2v2.5h-2zM674 1033h2v2.5h-2zM674 1097.5h2v9.5h-2zM676 1045.5h2v2.5h-2zM676 1076h2v10h-2zM678 990.5h2v2.5h-2zM678 1020.5h2v2.5h-2zM678 1080.5h2v17h-2zM680 998h2v2.5h-2zM680 1068.5h2v3.5h-2zM680 1076h2v4.5h-2zM680 1086h2v5.5h-2zM682 1080.5h2v17h-2zM684 1055.5h2v2.5h-2zM684 1065.5h2v3h-2zM684 1076h2v15.5h-2zM686 1091.5h2v15.5h-2zM688 1043h2v2.5h-2zM688 1086h2v5.5h-2zM690 1008h2v2.5h-2zM690 1097.5h2v9.5h-2zM692 1097.5h2v9.5h-2zM694 1028h2v2.5h-2zM696 1020.5h2v2.5h-2zM696 1097.5h2v24.5h-2zM698 1091.5h2v15.5h-2zM700 1107h2v15h-2zM702 1107h2v15h-2zM704 1080.5h2v11h-2zM706 1107h2v15h-2zM708 1097.5h2v9.5h-2zM710 1080.5h2v11h-2zM712 980.5h2v2.5h-2zM716 1107h2v15h-2zM718 1025.5h2v2.5h-2zM720 1097.5h2v9.5h-2zM722 993h2v2.5h-2zM722 1080.5h2v5.5h-2zM724 1030.5h2v2.5h-2zM724 1072h2v14h-2zM726 1080.5h2v11h-2zM730 1013h2v2.5h-2zM732 1097.5h2v9.5h-2zM734 1015.5h2v2.5h-2zM734 1097.5h2v24.5h-2zM736 1107h2v15h-2zM738 1025.5h2v2.5h-2zM738 1043h2v2.5h-2zM738 1097.5h2v9.5h-2zM740 1080.5h2v5.5h-2zM740 1097.5h2v24.5h-2zM742 1065.5h2v3h-2zM742 1097.5h2v9.5h-2zM744 998h2v2.5h-2zM746 1045.5h2v2.5h-2zM746 1097.5h2v9.5h-2zM750 1107h2v15h-2zM752 1058h2v2.5h-2zM752 1091.5h2v15.5h-2zM754 1097.5h2v9.5h-2zM756 998h2v2.5h-2zM756 1015.5h2v2.5h-2zM756 1091.5h2v15.5h-2zM758 1097.5h2v9.5h-2zM760 1097.5h2v9.5h-2zM762 998h2v2.5h-2zM764 1097.5h2v24.5h-2zM766 1097.5h2v9.5h-2zM768 1107h2v15h-2zM770 1008h2v2.5h-2zM770 1072h2v4h-2zM770 1080.5h2v5.5h-2zM772 1107h2v15h-2zM774 1058h2v2.5h-2zM774 1065.5h2v3h-2zM774 1097.5h2v9.5h-2zM776 1076h2v10h-2zM778 1080.5h2v5.5h-2zM780 998h2v2.5h-2zM780 1091.5h2v15.5h-2zM782 998h2v2.5h-2zM784 998h2v2.5h-2zM784 1097.5h2v9.5h-2zM786 1097.5h2v9.5h-2zM788 993h2v2.5h-2zM788 1018h2v2.5h-2zM788 1097.5h2v9.5h-2zM792 1097.5h2v9.5h-2zM794 1107h2v15h-2zM796 990.5h2v2.5h-2zM796 998h2v2.5h-2zM796 1091.5h2v6h-2zM798 1072h2v4h-2zM798 1107h2v15h-2zM800 1015.5h2v2.5h-2zM800 1097.5h2v9.5h-2zM802 1107h2v15h-2zM804 1025.5h2v2.5h-2zM804 1068.5h2v12h-2zM808 1097.5h2v9.5h-2zM810 1065.5h2v6.5h-2zM812 998h2v2.5h-2zM812 1091.5h2v6h-2zM814 1023h2v2.5h-2zM814 1058h2v18h-2zM816 1065.5h2v3h-2zM816 1072h2v4h-2zM816 1080.5h2v5.5h-2zM818 1050.5h2v2.5h-2zM818 1058h2v10.5h-2zM820 1048h2v15h-2zM820 1065.5h2v3h-2zM822 1025.5h2v2.5h-2zM822 1035.5h2v2.5h-2zM822 1040.5h2v15h-2zM822 1058h2v2.5h-2zM824 998h2v2.5h-2zM824 1038h2v5h-2zM824 1045.5h2v15h-2zM826 1063h2v2.5h-2zM828 998h2v2.5h-2zM828 1045.5h2v15h-2zM828 1063h2v2.5h-2zM830 998h2v2.5h-2zM830 1013h2v2.5h-2zM830 1063h2v5.5h-2zM830 1072h2v19.5h-2zM832 1025.5h2v2.5h-2zM832 1045.5h2v2.5h-2zM832 1050.5h2v18h-2zM834 998h2v2.5h-2zM834 1048h2v28h-2zM836 1048h2v2.5h-2zM836 1053h2v15.5h-2zM836 1076h2v4.5h-2zM838 1048h2v20.5h-2zM840 1053h2v2.5h-2zM840 1058h2v2.5h-2zM840 1063h2v9h-2zM842 1080.5h2v5.5h-2zM842 1091.5h2v6h-2zM844 1000.5h2v2.5h-2zM844 1043h2v2.5h-2zM844 1086h2v21h-2zM846 1058h2v2.5h-2zM846 1063h2v17.5h-2zM848 993h2v2.5h-2zM848 1043h2v2.5h-2zM848 1048h2v12.5h-2zM848 1063h2v2.5h-2zM850 1003h2v2.5h-2zM850 1060.5h2v2.5h-2zM850 1065.5h2v20.5h-2zM852 1065.5h2v6.5h-2zM852 1076h2v4.5h-2zM854 998h2v2.5h-2zM854 1058h2v7.5h-2zM854 1068.5h2v12h-2zM856 1028h2v2.5h-2zM856 1035.5h2v2.5h-2zM856 1040.5h2v5h-2zM856 1050.5h2v2.5h-2zM856 1055.5h2v2.5h-2zM858 988h2v2.5h-2zM858 998h2v2.5h-2zM858 1043h2v5h-2zM858 1050.5h2v15h-2zM860 1000.5h2v2.5h-2zM860 1043h2v5h-2zM860 1050.5h2v12.5h-2zM862 998h2v2.5h-2zM862 1038h2v2.5h-2zM862 1043h2v7.5h-2zM862 1053h2v7.5h-2zM864 998h2v2.5h-2zM864 1045.5h2v2.5h-2zM864 1050.5h2v7.5h-2zM864 1060.5h2v2.5h-2zM864 1068.5h2v3.5h-2zM866 1033h2v7.5h-2zM866 1043h2v5h-2zM868 998h2v2.5h-2zM868 1043h2v2.5h-2zM868 1048h2v2.5h-2zM868 1055.5h2v16.5h-2zM870 1038h2v2.5h-2zM870 1043h2v5h-2zM870 1050.5h2v10h-2zM872 998h2v2.5h-2zM872 1030.5h2v5h-2zM872 1038h2v12.5h-2zM872 1053h2v7.5h-2zM874 1053h2v5h-2zM874 1060.5h2v5h-2zM874 1068.5h2v12h-2zM876 1030.5h2v7.5h-2zM876 1040.5h2v12.5h-2zM876 1055.5h2v2.5h-2zM876 1063h2v2.5h-2zM878 1028h2v2.5h-2zM878 1040.5h2v17.5h-2zM880 1023h2v2.5h-2zM880 1040.5h2v7.5h-2zM882 983h2v2.5h-2zM882 1015.5h2v2.5h-2zM882 1020.5h2v5h-2zM882 1030.5h2v17.5h-2zM884 1013h2v7.5h-2zM884 1023h2v10h-2zM884 1035.5h2v2.5h-2zM884 1040.5h2v5h-2zM886 1020.5h2v2.5h-2zM886 1028h2v7.5h-2zM886 1038h2v2.5h-2zM886 1043h2v2.5h-2zM888 1015.5h2v7.5h-2zM888 1025.5h2v12.5h-2zM888 1043h2v2.5h-2zM890 1035.5h2v2.5h-2zM890 1040.5h2v2.5h-2zM890 1045.5h2v15h-2zM892 1003h2v2.5h-2zM892 1015.5h2v22.5h-2zM894 1008h2v2.5h-2zM894 1015.5h2v2.5h-2zM894 1023h2v15h-2zM896 1025.5h2v2.5h-2zM896 1030.5h2v2.5h-2zM896 1038h2v20h-2zM898 1035.5h2v2.5h-2zM898 1043h2v7.5h-2zM900 1023h2v2.5h-2zM900 1030.5h2v7.5h-2zM902 1035.5h2v2.5h-2zM904 1005.5h2v2.5h-2zM904 1015.5h2v2.5h-2zM904 1020.5h2v17.5h-2zM904 1040.5h2v2.5h-2zM906 1000.5h2v2.5h-2zM906 1008h2v2.5h-2zM906 1013h2v25h-2zM906 1043h2v2.5h-2zM908 1018h2v20h-2zM908 1040.5h2v2.5h-2zM908 1045.5h2v2.5h-2zM910 1000.5h2v2.5h-2zM910 1015.5h2v2.5h-2zM910 1023h2v17.5h-2zM910 1043h2v2.5h-2zM912 1015.5h2v2.5h-2zM912 1023h2v12.5h-2zM912 1038h2v2.5h-2zM914 1005.5h2v2.5h-2zM914 1010.5h2v7.5h-2zM914 1020.5h2v10h-2zM914 1033h2v2.5h-2zM914 1043h2v2.5h-2zM916 1033h2v2.5h-2zM916 1040.5h2v5h-2zM916 1048h2v7.5h-2zM916 1058h2v5h-2zM916 1065.5h2v3h-2zM918 1008h2v2.5h-2zM918 1013h2v5h-2zM918 1020.5h2v5h-2zM918 1028h2v7.5h-2zM918 1038h2v2.5h-2zM918 1043h2v2.5h-2zM920 1013h2v2.5h-2zM920 1018h2v2.5h-2zM920 1030.5h2v10h-2zM920 1043h2v5h-2zM922 1003h2v2.5h-2zM922 1013h2v5h-2zM922 1020.5h2v10h-2zM924 1005.5h2v5h-2zM924 1015.5h2v2.5h-2zM924 1020.5h2v22.5h-2zM924 1045.5h2v2.5h-2zM926 1003h2v2.5h-2zM926 1013h2v2.5h-2zM926 1018h2v20h-2zM926 1043h2v2.5h-2zM928 1018h2v20h-2zM928 1040.5h2v2.5h-2zM930 1018h2v12.5h-2zM930 1033h2v7.5h-2zM930 1045.5h2v2.5h-2zM932 1015.5h2v5h-2zM932 1028h2v12.5h-2zM932 1045.5h2v2.5h-2zM934 1023h2v22.5h-2zM934 1048h2v2.5h-2zM936 1063h2v2.5h-2zM936 1068.5h2v17.5h-2zM938 975.5h2v2.5h-2zM938 988h2v2.5h-2zM938 998h2v2.5h-2zM938 1050.5h2v5h-2zM938 1063h2v9h-2zM938 1076h2v4.5h-2zM940 978h2v2.5h-2zM940 1048h2v15h-2zM940 1068.5h2v3.5h-2zM942 1035.5h2v7.5h-2zM942 1045.5h2v2.5h-2zM942 1053h2v2.5h-2zM944 1045.5h2v5h-2zM944 1055.5h2v5h-2zM944 1063h2v2.5h-2zM946 998h2v2.5h-2zM946 1033h2v17.5h-2zM948 1060.5h2v15.5h-2zM948 1080.5h2v5.5h-2zM950 1045.5h2v10h-2zM950 1058h2v2.5h-2zM952 1040.5h2v20h-2zM952 1063h2v9h-2zM954 1033h2v5h-2zM954 1040.5h2v10h-2zM956 1060.5h2v2.5h-2zM956 1065.5h2v3h-2zM958 1043h2v22.5h-2zM960 1040.5h2v22.5h-2zM960 1065.5h2v3h-2zM962 1005.5h2v2.5h-2zM962 1025.5h2v2.5h-2zM962 1033h2v22.5h-2zM964 1060.5h2v15.5h-2zM966 1050.5h2v2.5h-2zM966 1060.5h2v15.5h-2zM966 1080.5h2v5.5h-2zM968 1055.5h2v2.5h-2zM968 1060.5h2v5h-2zM968 1068.5h2v7.5h-2zM970 998h2v2.5h-2zM970 1058h2v5h-2zM970 1072h2v4h-2zM970 1080.5h2v5.5h-2zM972 1045.5h2v12.5h-2zM974 1058h2v2.5h-2zM974 1063h2v5.5h-2zM974 1072h2v8.5h-2zM974 1086h2v5.5h-2zM976 1025.5h2v2.5h-2zM976 1030.5h2v5h-2zM976 1038h2v2.5h-2zM976 1043h2v12.5h-2zM978 1045.5h2v2.5h-2zM978 1050.5h2v12.5h-2zM980 1048h2v2.5h-2zM980 1060.5h2v2.5h-2zM980 1065.5h2v10.5h-2zM982 1033h2v2.5h-2zM982 1045.5h2v12.5h-2zM984 1013h2v2.5h-2zM984 1050.5h2v12.5h-2zM986 1040.5h2v2.5h-2zM986 1045.5h2v2.5h-2zM986 1050.5h2v2.5h-2zM986 1055.5h2v10h-2zM988 1025.5h2v2.5h-2zM988 1035.5h2v12.5h-2zM988 1050.5h2v2.5h-2zM990 1028h2v2.5h-2zM990 1038h2v2.5h-2zM990 1048h2v15h-2zM992 1000.5h2v2.5h-2zM992 1033h2v2.5h-2zM992 1040.5h2v17.5h-2zM992 1060.5h2v2.5h-2zM994 1065.5h2v15h-2zM996 1107h2v15h-2zM998 1097.5h2v9.5h-2zM1000 990.5h2v2.5h-2zM1000 1048h2v2.5h-2zM1000 1086h2v5.5h-2zM1002 1063h2v23h-2zM1004 1076h2v15.5h-2zM1006 1065.5h2v3h-2zM1006 1072h2v19.5h-2zM1008 1028h2v2.5h-2zM1008 1060.5h2v2.5h-2zM1008 1068.5h2v3.5h-2zM1008 1076h2v4.5h-2zM1010 1072h2v14h-2zM1012 1068.5h2v12h-2zM1014 998h2v2.5h-2zM1014 1068.5h2v17.5h-2zM1016 1060.5h2v2.5h-2zM1016 1068.5h2v3.5h-2zM1018 988h2v2.5h-2zM1018 998h2v2.5h-2zM1018 1025.5h2v2.5h-2zM1018 1033h2v2.5h-2zM1018 1065.5h2v10.5h-2zM1020 1008h2v2.5h-2zM1020 1076h2v15.5h-2zM1022 1080.5h2v11h-2zM1024 1063h2v2.5h-2zM1024 1076h2v4.5h-2zM1024 1086h2v5.5h-2zM1026 1065.5h2v20.5h-2zM1028 1053h2v2.5h-2zM1028 1063h2v9h-2zM1030 998h2v2.5h-2zM1030 1058h2v2.5h-2zM1030 1065.5h2v10.5h-2zM1032 1072h2v19.5h-2zM1034 1003h2v2.5h-2zM1034 1072h2v4h-2zM1036 1063h2v2.5h-2zM1036 1068.5h2v7.5h-2zM1038 1063h2v9h-2zM1040 993h2v2.5h-2zM1040 998h2v2.5h-2zM1040 1003h2v5h-2zM1040 1058h2v2.5h-2zM1040 1065.5h2v6.5h-2zM1042 1028h2v2.5h-2zM1042 1033h2v2.5h-2zM1042 1072h2v8.5h-2zM1042 1086h2v5.5h-2zM1044 998h2v2.5h-2zM1044 1050.5h2v2.5h-2zM1044 1055.5h2v7.5h-2zM1044 1065.5h2v3h-2zM1046 995.5h2v2.5h-2zM1046 1063h2v9h-2zM1048 1060.5h2v2.5h-2zM1048 1068.5h2v12h-2zM1050 1072h2v8.5h-2zM1054 998h2v2.5h-2zM1054 1063h2v13h-2zM1056 1080.5h2v5.5h-2zM1056 1091.5h2v6h-2zM1058 988h2v2.5h-2zM1058 998h2v2.5h-2zM1058 1010.5h2v2.5h-2zM1058 1060.5h2v2.5h-2zM1058 1068.5h2v12h-2zM1060 993h2v2.5h-2zM1060 1050.5h2v2.5h-2zM1060 1063h2v5.5h-2zM1062 998h2v2.5h-2zM1062 1053h2v2.5h-2zM1062 1058h2v7.5h-2zM1062 1068.5h2v3.5h-2zM1064 1000.5h2v2.5h-2zM1064 1080.5h2v17h-2zM1066 998h2v2.5h-2zM1066 1058h2v2.5h-2zM1066 1068.5h2v12h-2zM1068 1028h2v2.5h-2zM1068 1068.5h2v12h-2zM1068 1086h2v5.5h-2zM1070 1013h2v2.5h-2zM1070 1045.5h2v2.5h-2zM1070 1086h2v5.5h-2zM1072 1072h2v14h-2zM1074 1058h2v28h-2zM1076 1065.5h2v10.5h-2zM1078 1053h2v2.5h-2zM1078 1058h2v14h-2zM1080 998h2v2.5h-2zM1080 1065.5h2v20.5h-2zM1082 1060.5h2v8h-2zM1082 1072h2v8.5h-2zM1084 1050.5h2v2.5h-2zM1084 1055.5h2v7.5h-2zM1084 1065.5h2v3h-2zM1086 1080.5h2v11h-2zM1088 1063h2v13h-2zM1090 1018h2v2.5h-2zM1090 1068.5h2v17.5h-2zM1092 1055.5h2v2.5h-2zM1092 1060.5h2v20h-2zM1094 1048h2v7.5h-2zM1094 1058h2v10.5h-2zM1096 1043h2v2.5h-2zM1096 1072h2v4h-2zM1096 1086h2v11.5h-2zM1098 998h2v2.5h-2zM1098 1068.5h2v7.5h-2zM1100 1060.5h2v2.5h-2zM1100 1065.5h2v6.5h-2zM1100 1076h2v4.5h-2zM1102 1065.5h2v15h-2zM1104 1045.5h2v5h-2zM1104 1053h2v5h-2zM1104 1065.5h2v6.5h-2zM1106 973h2v2.5h-2zM1106 1060.5h2v11.5h-2zM1108 1063h2v9h-2zM1110 1008h2v2.5h-2zM1110 1060.5h2v2.5h-2zM1110 1065.5h2v3h-2zM1110 1072h2v14h-2zM1112 1065.5h2v3h-2zM1112 1072h2v8.5h-2zM1114 1068.5h2v7.5h-2zM1116 1055.5h2v5h-2zM1116 1063h2v2.5h-2zM1116 1072h2v8.5h-2zM1118 1058h2v5h-2zM1118 1065.5h2v6.5h-2zM1120 1060.5h2v11.5h-2zM1120 1076h2v4.5h-2zM1122 998h2v2.5h-2zM1122 1097.5h2v9.5h-2zM1124 1038h2v2.5h-2zM1128 1065.5h2v3h-2zM1130 973h2v2.5h-2zM1130 1040.5h2v5h-2zM1132 1018h2v5h-2zM1134 993h2v2.5h-2zM1140 993h2v5h-2zM1142 1018h2v2.5h-2zM1144 975.5h2v2.5h-2zM1144 1040.5h2v2.5h-2zM1146 1020.5h2v5h-2zM1146 1030.5h2v2.5h-2zM1146 1035.5h2v2.5h-2zM1146 1040.5h2v2.5h-2zM1146 1050.5h2v2.5h-2zM1148 1018h2v10h-2zM1148 1033h2v7.5h-2zM1148 1043h2v2.5h-2zM1150 1028h2v5h-2zM1150 1038h2v15h-2zM1150 1058h2v2.5h-2zM1152 1015.5h2v5h-2zM1152 1023h2v7.5h-2zM1152 1033h2v12.5h-2zM1154 1015.5h2v17.5h-2zM1156 973h2v2.5h-2zM1156 1020.5h2v5h-2zM1156 1028h2v2.5h-2zM1156 1033h2v7.5h-2zM1156 1045.5h2v2.5h-2zM1156 1060.5h2v2.5h-2zM1158 1020.5h2v10h-2zM1158 1033h2v7.5h-2zM1158 1045.5h2v2.5h-2zM1164 969.5h2v1h-2zM1164 1025.5h2v7.5h-2zM1166 1013h2v2.5h-2zM1176 995.5h2v2.5h-2zM1178 1013h2v2.5h-2zM1184 1030.5h2v2.5h-2zM1186 1055.5h2v2.5h-2zM1186 1065.5h2v10.5h-2zM1188 1043h2v2.5h-2zM1188 1048h2v2.5h-2zM1188 1053h2v12.5h-2zM1188 1068.5h2v3.5h-2zM1298 1020.5h2v2.5h-2zM1298 1038h2v2.5h-2zM1298 1076h2v10h-2zM1298 1091.5h2v6h-2zM1300 1058h2v2.5h-2zM1300 1063h2v9h-2zM1302 1058h2v2.5h-2zM1302 1063h2v9h-2zM1302 1076h2v4.5h-2zM1304 1048h2v2.5h-2zM1304 1053h2v7.5h-2zM1304 1063h2v9h-2zM1306 1065.5h2v6.5h-2zM1306 1080.5h2v11h-2zM1308 969.5h2v1h-2zM1308 1076h2v4.5h-2zM1310 1048h2v2.5h-2zM1310 1053h2v2.5h-2zM1310 1060.5h2v8h-2zM1310 1072h2v4h-2zM1312 1050.5h2v5h-2zM1312 1058h2v5h-2zM1314 1010.5h2v2.5h-2zM1314 1060.5h2v15.5h-2zM1316 1053h2v2.5h-2zM1316 1060.5h2v5h-2zM1316 1068.5h2v12h-2zM1318 1053h2v2.5h-2zM1318 1058h2v5h-2zM1318 1065.5h2v6.5h-2zM1320 1048h2v2.5h-2zM1320 1053h2v19h-2zM1322 1060.5h2v2.5h-2zM1322 1065.5h2v10.5h-2zM1324 1068.5h2v3.5h-2zM1324 1076h2v4.5h-2zM1326 998h2v2.5h-2zM1326 1025.5h2v2.5h-2zM1326 1055.5h2v5h-2zM1326 1063h2v9h-2zM1328 1048h2v2.5h-2zM1328 1063h2v9h-2zM1330 1065.5h2v6.5h-2zM1330 1080.5h2v5.5h-2zM1332 1068.5h2v7.5h-2zM1332 1080.5h2v11h-2zM1334 1063h2v2.5h-2zM1334 1072h2v8.5h-2zM1336 1068.5h2v17.5h-2zM1338 1065.5h2v10.5h-2zM1338 1080.5h2v5.5h-2zM1340 985.5h2v2.5h-2zM1340 1072h2v8.5h-2zM1342 1080.5h2v5.5h-2z"/><path fill="#0000cc" d="M554 1072h2v4h-2zM554 1080.5h2v26.5h-2zM556 1076h2v21.5h-2zM558 1050.5h2v2.5h-2zM558 1060.5h2v2.5h-2zM558 1068.5h2v23h-2zM560 1086h2v21h-2zM562 1030.5h2v2.5h-2zM562 1038h2v2.5h-2zM562 1045.5h2v5h-2zM562 1053h2v19h-2zM564 1048h2v2.5h-2zM564 1053h2v2.5h-2zM564 1058h2v10.5h-2zM564 1072h2v4h-2zM566 1030.5h2v2.5h-2zM566 1045.5h2v5h-2zM566 1053h2v2.5h-2zM566 1058h2v18h-2zM568 1043h2v2.5h-2zM568 1055.5h2v5h-2zM568 1065.5h2v3h-2zM568 1076h2v4.5h-2zM568 1086h2v11.5h-2zM570 1076h2v4.5h-2zM570 1091.5h2v30.5h-2zM572 1025.5h2v2.5h-2zM572 1043h2v33h-2zM574 1063h2v2.5h-2zM574 1068.5h2v3.5h-2zM574 1080.5h2v26.5h-2zM576 998h2v2.5h-2zM576 1063h2v2.5h-2zM576 1072h2v19.5h-2zM578 1043h2v5h-2zM578 1050.5h2v10h-2zM578 1063h2v9h-2zM578 1076h2v4.5h-2zM580 1080.5h2v41.5h-2zM582 1072h2v4h-2zM582 1091.5h2v15.5h-2zM584 1097.5h2v24.5h-2zM586 1025.5h2v5h-2zM586 1035.5h2v2.5h-2zM586 1050.5h2v21.5h-2zM586 1076h2v4.5h-2zM588 1028h2v2.5h-2zM588 1043h2v2.5h-2zM588 1060.5h2v15.5h-2zM590 1050.5h2v2.5h-2zM590 1072h2v25.5h-2zM592 1058h2v7.5h-2zM596 1063h2v2.5h-2zM598 1053h2v5h-2zM598 1063h2v23h-2zM600 1072h2v4h-2zM600 1091.5h2v15.5h-2zM602 1063h2v2.5h-2zM602 1068.5h2v7.5h-2zM602 1086h2v21h-2zM604 1076h2v4.5h-2zM604 1097.5h2v9.5h-2zM606 998h2v2.5h-2zM606 1086h2v21h-2zM608 1076h2v4.5h-2zM608 1086h2v5.5h-2zM610 1076h2v31h-2zM612 1048h2v2.5h-2zM612 1055.5h2v10h-2zM612 1068.5h2v7.5h-2zM612 1080.5h2v5.5h-2zM614 1050.5h2v2.5h-2zM614 1080.5h2v17h-2zM616 1076h2v4.5h-2zM616 1086h2v21h-2zM618 1055.5h2v2.5h-2zM618 1080.5h2v5.5h-2zM618 1091.5h2v15.5h-2zM620 998h2v2.5h-2zM620 1048h2v2.5h-2zM620 1055.5h2v2.5h-2zM620 1065.5h2v26h-2zM622 1068.5h2v3.5h-2zM622 1086h2v5.5h-2zM622 1097.5h2v9.5h-2zM624 1055.5h2v2.5h-2zM624 1076h2v21.5h-2zM626 1091.5h2v30.5h-2zM628 1063h2v2.5h-2zM628 1076h2v4.5h-2zM628 1086h2v21h-2zM630 1086h2v5.5h-2zM630 1097.5h2v9.5h-2zM632 1068.5h2v3.5h-2zM632 1080.5h2v17h-2zM634 1055.5h2v2.5h-2zM634 1076h2v31h-2zM636 1033h2v2.5h-2zM636 1068.5h2v3.5h-2zM636 1076h2v4.5h-2zM636 1086h2v21h-2zM638 998h2v2.5h-2zM638 1060.5h2v2.5h-2zM638 1065.5h2v3h-2zM638 1080.5h2v26.5h-2zM640 998h2v2.5h-2zM640 1097.5h2v24.5h-2zM642 1050.5h2v5h-2zM642 1058h2v22.5h-2zM644 998h2v2.5h-2zM644 1091.5h2v30.5h-2zM646 998h2v2.5h-2zM646 1086h2v21h-2zM648 1013h2v2.5h-2zM648 1028h2v2.5h-2zM648 1060.5h2v2.5h-2zM648 1076h2v4.5h-2zM648 1086h2v5.5h-2zM648 1097.5h2v9.5h-2zM650 1050.5h2v2.5h-2zM650 1063h2v2.5h-2zM650 1068.5h2v3.5h-2zM650 1076h2v4.5h-2zM650 1086h2v11.5h-2zM652 985.5h2v2.5h-2zM652 1038h2v2.5h-2zM652 1055.5h2v5h-2zM652 1063h2v28.5h-2zM654 1030.5h2v2.5h-2zM654 1035.5h2v5h-2zM654 1045.5h2v23h-2zM656 1023h2v2.5h-2zM656 1045.5h2v2.5h-2zM656 1050.5h2v5h-2zM656 1058h2v7.5h-2zM656 1068.5h2v17.5h-2zM658 1008h2v2.5h-2zM658 1020.5h2v2.5h-2zM658 1040.5h2v2.5h-2zM658 1045.5h2v7.5h-2zM658 1055.5h2v5h-2zM658 1063h2v2.5h-2zM658 1068.5h2v7.5h-2zM660 1043h2v2.5h-2zM660 1050.5h2v2.5h-2zM660 1063h2v17.5h-2zM662 1030.5h2v2.5h-2zM662 1035.5h2v2.5h-2zM662 1045.5h2v5h-2zM662 1058h2v2.5h-2zM662 1065.5h2v20.5h-2zM664 998h2v2.5h-2zM664 1053h2v2.5h-2zM664 1058h2v18h-2zM664 1080.5h2v5.5h-2zM666 1025.5h2v2.5h-2zM666 1030.5h2v2.5h-2zM666 1043h2v2.5h-2zM666 1048h2v5h-2zM666 1055.5h2v20.5h-2zM668 1030.5h2v2.5h-2zM668 1038h2v2.5h-2zM668 1045.5h2v2.5h-2zM668 1050.5h2v5h-2zM668 1060.5h2v2.5h-2zM668 1068.5h2v7.5h-2zM668 1080.5h2v5.5h-2zM670 1015.5h2v2.5h-2zM670 1033h2v5h-2zM670 1043h2v2.5h-2zM670 1055.5h2v5h-2zM670 1063h2v23h-2zM672 1015.5h2v2.5h-2zM672 1045.5h2v2.5h-2zM672 1050.5h2v2.5h-2zM672 1055.5h2v2.5h-2zM672 1060.5h2v25.5h-2zM674 973h2v2.5h-2zM674 988h2v2.5h-2zM674 1035.5h2v2.5h-2zM674 1043h2v2.5h-2zM674 1053h2v5h-2zM674 1063h2v34.5h-2zM676 970.5h2v2.5h-2zM676 1030.5h2v2.5h-2zM676 1048h2v28h-2zM678 1043h2v2.5h-2zM678 1050.5h2v2.5h-2zM678 1058h2v22.5h-2zM680 1020.5h2v2.5h-2zM680 1030.5h2v2.5h-2zM680 1035.5h2v7.5h-2zM680 1045.5h2v23h-2zM680 1072h2v4h-2zM680 1080.5h2v5.5h-2zM682 1018h2v5h-2zM682 1028h2v2.5h-2zM682 1038h2v10h-2zM682 1055.5h2v25h-2zM684 1020.5h2v2.5h-2zM684 1030.5h2v7.5h-2zM684 1040.5h2v15h-2zM684 1060.5h2v5h-2zM684 1068.5h2v7.5h-2zM686 1045.5h2v2.5h-2zM686 1053h2v10h-2zM686 1065.5h2v10.5h-2zM686 1080.5h2v11h-2zM688 1045.5h2v5h-2zM688 1060.5h2v2.5h-2zM688 1065.5h2v20.5h-2zM690 1055.5h2v5h-2zM690 1068.5h2v29h-2zM692 993h2v2.5h-2zM692 1058h2v2.5h-2zM692 1076h2v4.5h-2zM692 1086h2v11.5h-2zM694 1063h2v5.5h-2zM694 1076h2v10h-2zM694 1091.5h2v15.5h-2zM696 1080.5h2v5.5h-2zM696 1091.5h2v6h-2zM698 1050.5h2v5h-2zM698 1063h2v2.5h-2zM698 1072h2v19.5h-2zM700 1072h2v19.5h-2zM700 1097.5h2v9.5h-2zM702 1068.5h2v3.5h-2zM702 1076h2v4.5h-2zM702 1086h2v21h-2zM704 1058h2v7.5h-2zM704 1068.5h2v12h-2zM706 998h2v2.5h-2zM706 1068.5h2v3.5h-2zM706 1080.5h2v5.5h-2zM706 1091.5h2v15.5h-2zM708 1053h2v2.5h-2zM708 1063h2v13h-2zM708 1080.5h2v5.5h-2zM708 1091.5h2v6h-2zM710 1048h2v2.5h-2zM710 1053h2v2.5h-2zM710 1060.5h2v20h-2zM712 1072h2v4h-2zM712 1080.5h2v26.5h-2zM714 1058h2v2.5h-2zM714 1065.5h2v6.5h-2zM714 1080.5h2v26.5h-2zM716 1030.5h2v2.5h-2zM716 1080.5h2v5.5h-2zM716 1091.5h2v15.5h-2zM718 1060.5h2v2.5h-2zM718 1076h2v4.5h-2zM718 1086h2v21h-2zM720 1048h2v2.5h-2zM720 1072h2v25.5h-2zM722 1086h2v5.5h-2zM722 1107h2v15h-2zM724 1040.5h2v5h-2zM724 1048h2v24h-2zM726 1053h2v2.5h-2zM726 1060.5h2v20h-2zM728 1065.5h2v3h-2zM728 1080.5h2v26.5h-2zM730 1018h2v2.5h-2zM730 1043h2v2.5h-2zM730 1091.5h2v15.5h-2zM732 1055.5h2v2.5h-2zM732 1068.5h2v3.5h-2zM732 1080.5h2v17h-2zM734 1065.5h2v3h-2zM734 1072h2v25.5h-2zM736 1068.5h2v3.5h-2zM736 1076h2v21.5h-2zM738 1072h2v8.5h-2zM738 1086h2v11.5h-2zM740 1091.5h2v6h-2zM742 1003h2v2.5h-2zM742 1045.5h2v2.5h-2zM742 1055.5h2v7.5h-2zM742 1068.5h2v29h-2zM744 1063h2v2.5h-2zM744 1080.5h2v26.5h-2zM746 1050.5h2v2.5h-2zM746 1055.5h2v2.5h-2zM746 1072h2v25.5h-2zM748 1058h2v2.5h-2zM748 1068.5h2v3.5h-2zM748 1080.5h2v26.5h-2zM750 1060.5h2v2.5h-2zM750 1076h2v31h-2zM752 1055.5h2v2.5h-2zM752 1072h2v19.5h-2zM754 1060.5h2v2.5h-2zM754 1068.5h2v3.5h-2zM754 1080.5h2v17h-2zM756 1063h2v2.5h-2zM756 1076h2v15.5h-2zM758 1065.5h2v10.5h-2zM758 1080.5h2v17h-2zM760 1063h2v2.5h-2zM760 1068.5h2v7.5h-2zM760 1080.5h2v17h-2zM762 1076h2v4.5h-2zM762 1086h2v36h-2zM764 1055.5h2v2.5h-2zM764 1072h2v4h-2zM764 1080.5h2v17h-2zM766 1055.5h2v5h-2zM766 1063h2v9h-2zM766 1076h2v21.5h-2zM768 998h2v2.5h-2zM768 1060.5h2v2.5h-2zM768 1080.5h2v26.5h-2zM770 1038h2v2.5h-2zM770 1055.5h2v16.5h-2zM770 1076h2v4.5h-2zM772 1050.5h2v2.5h-2zM772 1060.5h2v5h-2zM772 1080.5h2v26.5h-2zM774 1040.5h2v2.5h-2zM774 1060.5h2v2.5h-2zM774 1068.5h2v3.5h-2zM774 1080.5h2v17h-2zM776 993h2v2.5h-2zM776 1025.5h2v2.5h-2zM776 1038h2v5h-2zM776 1045.5h2v12.5h-2zM776 1060.5h2v15.5h-2zM778 1048h2v32.5h-2zM780 1048h2v2.5h-2zM780 1065.5h2v3h-2zM780 1076h2v15.5h-2zM782 1058h2v2.5h-2zM782 1065.5h2v6.5h-2zM782 1080.5h2v5.5h-2zM782 1091.5h2v15.5h-2zM784 1048h2v2.5h-2zM784 1060.5h2v2.5h-2zM784 1072h2v4h-2zM784 1086h2v11.5h-2zM786 1055.5h2v2.5h-2zM786 1063h2v2.5h-2zM786 1076h2v4.5h-2zM786 1086h2v11.5h-2zM788 983h2v2.5h-2zM788 1053h2v2.5h-2zM788 1060.5h2v5h-2zM788 1076h2v21.5h-2zM790 1040.5h2v2.5h-2zM790 1045.5h2v2.5h-2zM790 1050.5h2v5h-2zM790 1058h2v2.5h-2zM790 1063h2v23h-2zM792 1035.5h2v2.5h-2zM792 1068.5h2v29h-2zM794 1068.5h2v3.5h-2zM794 1080.5h2v5.5h-2zM794 1091.5h2v15.5h-2zM796 1055.5h2v2.5h-2zM796 1063h2v2.5h-2zM796 1072h2v4h-2zM796 1080.5h2v11h-2zM796 1097.5h2v9.5h-2zM798 1065.5h2v3h-2zM798 1076h2v4.5h-2zM798 1091.5h2v15.5h-2zM800 1058h2v5h-2zM800 1072h2v25.5h-2zM802 1055.5h2v2.5h-2zM802 1072h2v8.5h-2zM802 1086h2v21h-2zM804 1033h2v2.5h-2zM804 1038h2v30.5h-2zM806 1045.5h2v5h-2zM806 1060.5h2v2.5h-2zM806 1068.5h2v3.5h-2zM806 1080.5h2v26.5h-2zM808 1018h2v2.5h-2zM808 1068.5h2v3.5h-2zM808 1076h2v21.5h-2zM810 1023h2v2.5h-2zM810 1030.5h2v2.5h-2zM810 1038h2v2.5h-2zM810 1043h2v22.5h-2zM812 1050.5h2v2.5h-2zM812 1058h2v7.5h-2zM812 1068.5h2v17.5h-2zM814 995.5h2v2.5h-2zM814 1003h2v2.5h-2zM814 1008h2v2.5h-2zM814 1013h2v2.5h-2zM814 1018h2v2.5h-2zM814 1030.5h2v10h-2zM814 1043h2v15h-2zM816 1033h2v2.5h-2zM816 1048h2v15h-2zM816 1068.5h2v3.5h-2zM818 970.5h2v2.5h-2zM818 985.5h2v2.5h-2zM818 990.5h2v2.5h-2zM818 995.5h2v2.5h-2zM818 1003h2v2.5h-2zM818 1010.5h2v2.5h-2zM818 1015.5h2v5h-2zM818 1023h2v27.5h-2zM818 1055.5h2v2.5h-2zM820 1000.5h2v2.5h-2zM820 1013h2v35h-2zM822 990.5h2v2.5h-2zM822 995.5h2v2.5h-2zM822 1008h2v17.5h-2zM822 1028h2v7.5h-2zM822 1038h2v2.5h-2zM824 980.5h2v2.5h-2zM824 988h2v2.5h-2zM824 1000.5h2v2.5h-2zM824 1005.5h2v15h-2zM824 1023h2v15h-2zM824 1043h2v2.5h-2zM826 990.5h2v2.5h-2zM826 1003h2v2.5h-2zM826 1015.5h2v2.5h-2zM826 1020.5h2v5h-2zM826 1033h2v2.5h-2zM826 1038h2v25h-2zM828 973h2v5h-2zM828 983h2v2.5h-2zM828 995.5h2v2.5h-2zM828 1000.5h2v2.5h-2zM828 1010.5h2v35h-2zM830 980.5h2v2.5h-2zM830 988h2v2.5h-2zM830 993h2v2.5h-2zM830 1000.5h2v2.5h-2zM830 1005.5h2v2.5h-2zM830 1010.5h2v2.5h-2zM830 1015.5h2v2.5h-2zM830 1025.5h2v2.5h-2zM830 1030.5h2v2.5h-2zM830 1035.5h2v2.5h-2zM830 1040.5h2v22.5h-2zM830 1068.5h2v3.5h-2zM832 1005.5h2v2.5h-2zM832 1010.5h2v5h-2zM832 1023h2v2.5h-2zM832 1028h2v17.5h-2zM832 1048h2v2.5h-2zM834 973h2v2.5h-2zM834 980.5h2v5h-2zM834 993h2v2.5h-2zM834 1000.5h2v2.5h-2zM834 1005.5h2v5h-2zM834 1013h2v2.5h-2zM834 1020.5h2v2.5h-2zM834 1028h2v20h-2zM836 983h2v2.5h-2zM836 995.5h2v2.5h-2zM836 1000.5h2v7.5h-2zM836 1013h2v2.5h-2zM836 1023h2v25h-2zM836 1050.5h2v2.5h-2zM838 969.5h2v1h-2zM838 980.5h2v2.5h-2zM838 990.5h2v5h-2zM838 1000.5h2v2.5h-2zM838 1008h2v2.5h-2zM838 1013h2v2.5h-2zM838 1018h2v30h-2zM840 995.5h2v2.5h-2zM840 1013h2v2.5h-2zM840 1018h2v7.5h-2zM840 1028h2v25h-2zM840 1055.5h2v2.5h-2zM840 1060.5h2v2.5h-2zM842 975.5h2v2.5h-2zM842 1023h2v2.5h-2zM842 1030.5h2v2.5h-2zM842 1038h2v5h-2zM842 1045.5h2v2.5h-2zM842 1053h2v2.5h-2zM842 1058h2v2.5h-2zM842 1063h2v9h-2zM842 1076h2v4.5h-2zM844 1013h2v2.5h-2zM844 1033h2v2.5h-2zM844 1050.5h2v2.5h-2zM844 1058h2v28h-2zM846 1023h2v7.5h-2zM846 1033h2v25h-2zM846 1060.5h2v2.5h-2zM848 990.5h2v2.5h-2zM848 995.5h2v2.5h-2zM848 1003h2v2.5h-2zM848 1008h2v35h-2zM848 1045.5h2v2.5h-2zM850 1013h2v2.5h-2zM850 1020.5h2v5h-2zM850 1030.5h2v2.5h-2zM850 1043h2v17.5h-2zM850 1063h2v2.5h-2zM852 1008h2v2.5h-2zM852 1018h2v2.5h-2zM852 1023h2v15h-2zM852 1040.5h2v12.5h-2zM852 1055.5h2v10h-2zM854 983h2v2.5h-2zM854 1003h2v2.5h-2zM854 1008h2v2.5h-2zM854 1023h2v30h-2zM854 1055.5h2v2.5h-2zM854 1065.5h2v3h-2zM856 978h2v2.5h-2zM856 985.5h2v2.5h-2zM856 990.5h2v2.5h-2zM856 995.5h2v2.5h-2zM856 1008h2v20h-2zM856 1030.5h2v5h-2zM856 1038h2v2.5h-2zM856 1045.5h2v2.5h-2zM858 980.5h2v2.5h-2zM858 990.5h2v2.5h-2zM858 1000.5h2v2.5h-2zM858 1005.5h2v5h-2zM858 1013h2v2.5h-2zM858 1018h2v2.5h-2zM858 1023h2v20h-2zM858 1048h2v2.5h-2zM860 983h2v2.5h-2zM860 988h2v5h-2zM860 995.5h2v5h-2zM860 1008h2v7.5h-2zM860 1020.5h2v22.5h-2zM860 1048h2v2.5h-2zM862 973h2v2.5h-2zM862 988h2v7.5h-2zM862 1003h2v5h-2zM862 1013h2v25h-2zM862 1040.5h2v2.5h-2zM862 1050.5h2v2.5h-2zM864 988h2v2.5h-2zM864 1003h2v2.5h-2zM864 1013h2v32.5h-2zM864 1048h2v2.5h-2zM864 1058h2v2.5h-2zM866 970.5h2v2.5h-2zM866 983h2v5h-2zM866 990.5h2v10h-2zM866 1005.5h2v5h-2zM866 1013h2v20h-2zM866 1040.5h2v2.5h-2zM868 975.5h2v2.5h-2zM868 980.5h2v2.5h-2zM868 985.5h2v2.5h-2zM868 993h2v2.5h-2zM868 1005.5h2v2.5h-2zM868 1010.5h2v5h-2zM868 1020.5h2v22.5h-2zM868 1045.5h2v2.5h-2zM868 1050.5h2v5h-2zM870 995.5h2v5h-2zM870 1005.5h2v7.5h-2zM870 1015.5h2v22.5h-2zM870 1040.5h2v2.5h-2zM870 1048h2v2.5h-2zM872 969.5h2v1h-2zM872 975.5h2v2.5h-2zM872 993h2v5h-2zM872 1000.5h2v17.5h-2zM872 1020.5h2v10h-2zM872 1035.5h2v2.5h-2zM874 988h2v5h-2zM874 1010.5h2v2.5h-2zM874 1015.5h2v2.5h-2zM874 1020.5h2v2.5h-2zM874 1025.5h2v2.5h-2zM874 1030.5h2v22.5h-2zM874 1058h2v2.5h-2zM876 973h2v5h-2zM876 985.5h2v2.5h-2zM876 995.5h2v2.5h-2zM876 1000.5h2v2.5h-2zM876 1005.5h2v25h-2zM876 1038h2v2.5h-2zM878 973h2v2.5h-2zM878 980.5h2v2.5h-2zM878 985.5h2v2.5h-2zM878 990.5h2v7.5h-2zM878 1000.5h2v2.5h-2zM878 1005.5h2v22.5h-2zM878 1030.5h2v10h-2zM880 973h2v5h-2zM880 980.5h2v2.5h-2zM880 993h2v2.5h-2zM880 998h2v25h-2zM880 1025.5h2v15h-2zM882 970.5h2v2.5h-2zM882 975.5h2v5h-2zM882 985.5h2v22.5h-2zM882 1010.5h2v5h-2zM882 1018h2v2.5h-2zM882 1025.5h2v5h-2zM884 969.5h2v1h-2zM884 973h2v5h-2zM884 980.5h2v5h-2zM884 988h2v25h-2zM884 1020.5h2v2.5h-2zM886 978h2v2.5h-2zM886 983h2v37.5h-2zM886 1023h2v5h-2zM888 975.5h2v7.5h-2zM888 985.5h2v30h-2zM890 973h2v2.5h-2zM890 978h2v5h-2zM890 985.5h2v5h-2zM890 993h2v5h-2zM890 1000.5h2v35h-2zM890 1038h2v2.5h-2zM890 1043h2v2.5h-2zM892 970.5h2v2.5h-2zM892 975.5h2v22.5h-2zM892 1000.5h2v2.5h-2zM892 1005.5h2v7.5h-2zM894 969.5h2v3.5h-2zM894 975.5h2v2.5h-2zM894 980.5h2v2.5h-2zM894 988h2v20h-2zM894 1010.5h2v5h-2zM894 1018h2v5h-2zM896 973h2v2.5h-2zM896 978h2v2.5h-2zM896 983h2v2.5h-2zM896 990.5h2v7.5h-2zM896 1003h2v22.5h-2zM896 1028h2v2.5h-2zM896 1033h2v5h-2zM898 970.5h2v2.5h-2zM898 978h2v5h-2zM898 985.5h2v7.5h-2zM898 995.5h2v2.5h-2zM898 1000.5h2v5h-2zM898 1008h2v5h-2zM898 1018h2v17.5h-2zM898 1038h2v5h-2zM898 1050.5h2v2.5h-2zM900 969.5h2v1h-2zM900 973h2v7.5h-2zM900 988h2v5h-2zM900 995.5h2v2.5h-2zM900 1000.5h2v2.5h-2zM900 1005.5h2v17.5h-2zM900 1025.5h2v5h-2zM902 985.5h2v2.5h-2zM902 990.5h2v2.5h-2zM902 995.5h2v2.5h-2zM902 1005.5h2v30h-2zM904 969.5h2v8.5h-2zM904 983h2v15h-2zM904 1000.5h2v5h-2zM904 1008h2v7.5h-2zM904 1018h2v2.5h-2zM906 970.5h2v2.5h-2zM906 978h2v5h-2zM906 985.5h2v12.5h-2zM906 1003h2v5h-2zM906 1010.5h2v2.5h-2zM908 970.5h2v10h-2zM908 983h2v2.5h-2zM908 988h2v30h-2zM910 970.5h2v7.5h-2zM910 980.5h2v5h-2zM910 988h2v5h-2zM910 995.5h2v5h-2zM910 1003h2v7.5h-2zM910 1013h2v2.5h-2zM910 1018h2v5h-2zM912 973h2v7.5h-2zM912 983h2v7.5h-2zM912 995.5h2v20h-2zM912 1018h2v5h-2zM914 969.5h2v1h-2zM914 975.5h2v12.5h-2zM914 990.5h2v7.5h-2zM914 1000.5h2v5h-2zM914 1008h2v2.5h-2zM914 1018h2v2.5h-2zM916 969.5h2v6h-2zM916 978h2v2.5h-2zM916 985.5h2v7.5h-2zM916 995.5h2v37.5h-2zM916 1035.5h2v5h-2zM916 1045.5h2v2.5h-2zM918 975.5h2v2.5h-2zM918 983h2v25h-2zM918 1018h2v2.5h-2zM918 1025.5h2v2.5h-2zM920 975.5h2v2.5h-2zM920 980.5h2v5h-2zM920 988h2v10h-2zM920 1000.5h2v2.5h-2zM920 1005.5h2v7.5h-2zM920 1015.5h2v2.5h-2zM920 1020.5h2v10h-2zM920 1040.5h2v2.5h-2zM922 969.5h2v3.5h-2zM922 978h2v2.5h-2zM922 983h2v10h-2zM922 995.5h2v2.5h-2zM922 1000.5h2v2.5h-2zM922 1005.5h2v7.5h-2zM922 1018h2v2.5h-2zM924 969.5h2v3.5h-2zM924 980.5h2v2.5h-2zM924 985.5h2v20h-2zM924 1010.5h2v5h-2zM926 969.5h2v33.5h-2zM926 1005.5h2v7.5h-2zM926 1015.5h2v2.5h-2zM928 969.5h2v1h-2zM928 973h2v10h-2zM928 988h2v20h-2zM928 1010.5h2v7.5h-2zM930 969.5h2v8.5h-2zM930 980.5h2v12.5h-2zM930 995.5h2v15h-2zM930 1013h2v2.5h-2zM932 969.5h2v1h-2zM932 973h2v5h-2zM932 980.5h2v2.5h-2zM932 993h2v22.5h-2zM932 1020.5h2v7.5h-2zM934 985.5h2v5h-2zM934 993h2v30h-2zM936 1000.5h2v2.5h-2zM936 1013h2v2.5h-2zM936 1018h2v7.5h-2zM936 1030.5h2v2.5h-2zM936 1035.5h2v2.5h-2zM936 1040.5h2v22.5h-2zM936 1065.5h2v3h-2zM938 1005.5h2v2.5h-2zM938 1015.5h2v5h-2zM938 1023h2v2.5h-2zM938 1028h2v5h-2zM938 1035.5h2v15h-2zM938 1055.5h2v7.5h-2zM940 980.5h2v2.5h-2zM940 990.5h2v2.5h-2zM940 998h2v17.5h-2zM940 1018h2v10h-2zM940 1030.5h2v12.5h-2zM940 1045.5h2v2.5h-2zM942 985.5h2v5h-2zM942 993h2v7.5h-2zM942 1005.5h2v2.5h-2zM942 1010.5h2v25h-2zM942 1043h2v2.5h-2zM944 988h2v2.5h-2zM944 998h2v2.5h-2zM944 1003h2v2.5h-2zM944 1008h2v37.5h-2zM946 970.5h2v5h-2zM946 978h2v5h-2zM946 985.5h2v2.5h-2zM946 1000.5h2v32.5h-2zM948 975.5h2v2.5h-2zM948 1008h2v2.5h-2zM948 1018h2v2.5h-2zM948 1023h2v15h-2zM948 1040.5h2v20h-2zM948 1076h2v4.5h-2zM950 983h2v2.5h-2zM950 1000.5h2v2.5h-2zM950 1005.5h2v5h-2zM950 1013h2v32.5h-2zM950 1055.5h2v2.5h-2zM952 988h2v5h-2zM952 1008h2v32.5h-2zM954 985.5h2v2.5h-2zM954 990.5h2v7.5h-2zM954 1000.5h2v7.5h-2zM954 1010.5h2v22.5h-2zM954 1038h2v2.5h-2zM956 1010.5h2v10h-2zM956 1025.5h2v2.5h-2zM956 1030.5h2v2.5h-2zM956 1035.5h2v25h-2zM956 1063h2v2.5h-2zM958 975.5h2v2.5h-2zM958 990.5h2v2.5h-2zM958 1005.5h2v2.5h-2zM958 1010.5h2v32.5h-2zM960 985.5h2v2.5h-2zM960 990.5h2v2.5h-2zM960 998h2v5h-2zM960 1005.5h2v7.5h-2zM960 1015.5h2v2.5h-2zM960 1020.5h2v7.5h-2zM960 1030.5h2v10h-2zM962 969.5h2v3.5h-2zM962 978h2v5h-2zM962 993h2v2.5h-2zM962 998h2v7.5h-2zM962 1008h2v17.5h-2zM962 1028h2v5h-2zM964 978h2v2.5h-2zM964 988h2v2.5h-2zM964 998h2v2.5h-2zM964 1003h2v2.5h-2zM964 1010.5h2v2.5h-2zM964 1015.5h2v2.5h-2zM964 1020.5h2v12.5h-2zM964 1035.5h2v22.5h-2zM966 985.5h2v2.5h-2zM966 990.5h2v2.5h-2zM966 1000.5h2v2.5h-2zM966 1008h2v2.5h-2zM966 1015.5h2v5h-2zM966 1023h2v27.5h-2zM966 1053h2v7.5h-2zM968 993h2v2.5h-2zM968 1003h2v5h-2zM968 1013h2v2.5h-2zM968 1020.5h2v10h-2zM968 1033h2v2.5h-2zM968 1038h2v2.5h-2zM968 1043h2v12.5h-2zM968 1058h2v2.5h-2zM968 1065.5h2v3h-2zM970 1000.5h2v2.5h-2zM970 1018h2v5h-2zM970 1025.5h2v2.5h-2zM970 1030.5h2v2.5h-2zM970 1035.5h2v22.5h-2zM970 1063h2v9h-2zM972 975.5h2v5h-2zM972 988h2v2.5h-2zM972 993h2v2.5h-2zM972 1003h2v5h-2zM972 1010.5h2v7.5h-2zM972 1020.5h2v2.5h-2zM972 1025.5h2v20h-2zM974 970.5h2v2.5h-2zM974 988h2v2.5h-2zM974 993h2v2.5h-2zM974 1018h2v2.5h-2zM974 1023h2v2.5h-2zM974 1028h2v5h-2zM974 1035.5h2v2.5h-2zM974 1043h2v15h-2zM974 1060.5h2v2.5h-2zM974 1068.5h2v3.5h-2zM976 969.5h2v1h-2zM976 985.5h2v5h-2zM976 993h2v2.5h-2zM976 998h2v5h-2zM976 1005.5h2v20h-2zM976 1028h2v2.5h-2zM976 1035.5h2v2.5h-2zM976 1040.5h2v2.5h-2zM978 970.5h2v5h-2zM978 983h2v2.5h-2zM978 988h2v2.5h-2zM978 993h2v2.5h-2zM978 1003h2v7.5h-2zM978 1013h2v2.5h-2zM978 1018h2v27.5h-2zM978 1048h2v2.5h-2zM980 973h2v2.5h-2zM980 1000.5h2v2.5h-2zM980 1010.5h2v2.5h-2zM980 1018h2v2.5h-2zM980 1025.5h2v5h-2zM980 1033h2v15h-2zM980 1050.5h2v10h-2zM980 1063h2v2.5h-2zM982 975.5h2v2.5h-2zM982 995.5h2v2.5h-2zM982 1000.5h2v32.5h-2zM982 1035.5h2v10h-2zM984 990.5h2v2.5h-2zM984 995.5h2v2.5h-2zM984 1003h2v10h-2zM984 1015.5h2v35h-2zM986 1005.5h2v2.5h-2zM986 1010.5h2v12.5h-2zM986 1028h2v12.5h-2zM986 1043h2v2.5h-2zM986 1048h2v2.5h-2zM986 1053h2v2.5h-2zM988 980.5h2v7.5h-2zM988 990.5h2v5h-2zM988 1000.5h2v5h-2zM988 1008h2v17.5h-2zM988 1028h2v7.5h-2zM990 970.5h2v2.5h-2zM990 975.5h2v5h-2zM990 988h2v7.5h-2zM990 1000.5h2v27.5h-2zM990 1030.5h2v2.5h-2zM990 1035.5h2v2.5h-2zM990 1040.5h2v7.5h-2zM992 973h2v5h-2zM992 995.5h2v2.5h-2zM992 1005.5h2v2.5h-2zM992 1010.5h2v2.5h-2zM992 1015.5h2v17.5h-2zM992 1035.5h2v5h-2zM994 988h2v2.5h-2zM994 1005.5h2v2.5h-2zM994 1013h2v2.5h-2zM994 1025.5h2v2.5h-2zM994 1035.5h2v2.5h-2zM994 1040.5h2v25h-2zM996 1097.5h2v9.5h-2zM998 1072h2v4h-2zM998 1080.5h2v17h-2zM1000 1045.5h2v2.5h-2zM1000 1053h2v2.5h-2zM1000 1058h2v2.5h-2zM1000 1063h2v23h-2zM1002 1005.5h2v2.5h-2zM1002 1020.5h2v5h-2zM1002 1035.5h2v5h-2zM1002 1043h2v5h-2zM1002 1053h2v10h-2zM1004 1013h2v2.5h-2zM1004 1028h2v2.5h-2zM1004 1035.5h2v7.5h-2zM1004 1050.5h2v5h-2zM1004 1058h2v18h-2zM1006 1020.5h2v2.5h-2zM1006 1033h2v2.5h-2zM1006 1038h2v2.5h-2zM1006 1043h2v5h-2zM1006 1053h2v12.5h-2zM1006 1068.5h2v3.5h-2zM1008 1023h2v5h-2zM1008 1030.5h2v5h-2zM1008 1038h2v7.5h-2zM1008 1048h2v12.5h-2zM1008 1063h2v5.5h-2zM1008 1072h2v4h-2zM1010 1020.5h2v2.5h-2zM1010 1028h2v2.5h-2zM1010 1035.5h2v2.5h-2zM1010 1048h2v24h-2zM1012 1003h2v2.5h-2zM1012 1018h2v2.5h-2zM1012 1033h2v5h-2zM1012 1040.5h2v7.5h-2zM1012 1050.5h2v18h-2zM1014 1038h2v2.5h-2zM1014 1045.5h2v2.5h-2zM1014 1050.5h2v18h-2zM1016 1005.5h2v2.5h-2zM1016 1010.5h2v2.5h-2zM1016 1015.5h2v2.5h-2zM1016 1020.5h2v5h-2zM1016 1028h2v2.5h-2zM1016 1033h2v2.5h-2zM1016 1038h2v2.5h-2zM1016 1045.5h2v2.5h-2zM1016 1050.5h2v10h-2zM1016 1063h2v5.5h-2zM1016 1072h2v4h-2zM1018 993h2v2.5h-2zM1018 1005.5h2v2.5h-2zM1018 1020.5h2v2.5h-2zM1018 1030.5h2v2.5h-2zM1018 1038h2v27.5h-2zM1020 1038h2v7.5h-2zM1020 1048h2v28h-2zM1022 1018h2v2.5h-2zM1022 1043h2v2.5h-2zM1022 1048h2v5h-2zM1022 1055.5h2v25h-2zM1024 1028h2v2.5h-2zM1024 1035.5h2v2.5h-2zM1024 1043h2v5h-2zM1024 1050.5h2v12.5h-2zM1024 1065.5h2v3h-2zM1024 1072h2v4h-2zM1026 1008h2v2.5h-2zM1026 1030.5h2v7.5h-2zM1026 1043h2v17.5h-2zM1026 1063h2v2.5h-2zM1028 1008h2v2.5h-2zM1028 1018h2v2.5h-2zM1028 1028h2v5h-2zM1028 1038h2v15h-2zM1028 1055.5h2v7.5h-2zM1030 1008h2v2.5h-2zM1030 1013h2v7.5h-2zM1030 1030.5h2v5h-2zM1030 1038h2v20h-2zM1030 1060.5h2v5h-2zM1032 998h2v2.5h-2zM1032 1018h2v2.5h-2zM1032 1028h2v2.5h-2zM1032 1035.5h2v2.5h-2zM1032 1040.5h2v2.5h-2zM1032 1045.5h2v5h-2zM1032 1053h2v19h-2zM1034 1020.5h2v2.5h-2zM1034 1025.5h2v2.5h-2zM1034 1030.5h2v2.5h-2zM1034 1035.5h2v7.5h-2zM1034 1045.5h2v5h-2zM1034 1053h2v19h-2zM1036 1008h2v5h-2zM1036 1018h2v5h-2zM1036 1028h2v5h-2zM1036 1035.5h2v27.5h-2zM1036 1065.5h2v3h-2zM1038 1003h2v2.5h-2zM1038 1020.5h2v2.5h-2zM1038 1030.5h2v2.5h-2zM1038 1035.5h2v15h-2zM1038 1053h2v10h-2zM1040 1000.5h2v2.5h-2zM1040 1013h2v5h-2zM1040 1028h2v5h-2zM1040 1035.5h2v2.5h-2zM1040 1040.5h2v17.5h-2zM1040 1060.5h2v5h-2zM1042 1003h2v2.5h-2zM1042 1008h2v2.5h-2zM1042 1020.5h2v2.5h-2zM1042 1025.5h2v2.5h-2zM1042 1030.5h2v2.5h-2zM1042 1038h2v34h-2zM1044 990.5h2v2.5h-2zM1044 1003h2v5h-2zM1044 1023h2v27.5h-2zM1044 1053h2v2.5h-2zM1044 1063h2v2.5h-2zM1046 1000.5h2v2.5h-2zM1046 1020.5h2v5h-2zM1046 1033h2v2.5h-2zM1046 1038h2v5h-2zM1046 1045.5h2v17.5h-2zM1048 1008h2v5h-2zM1048 1023h2v5h-2zM1048 1038h2v22.5h-2zM1048 1063h2v5.5h-2zM1050 1008h2v2.5h-2zM1050 1013h2v2.5h-2zM1050 1033h2v2.5h-2zM1050 1038h2v7.5h-2zM1050 1048h2v24h-2zM1052 1033h2v2.5h-2zM1052 1040.5h2v2.5h-2zM1052 1045.5h2v2.5h-2zM1052 1053h2v33h-2zM1054 1015.5h2v2.5h-2zM1054 1023h2v2.5h-2zM1054 1030.5h2v7.5h-2zM1054 1043h2v5h-2zM1054 1050.5h2v12.5h-2zM1056 1030.5h2v5h-2zM1056 1040.5h2v7.5h-2zM1056 1050.5h2v30h-2zM1056 1086h2v5.5h-2zM1058 1008h2v2.5h-2zM1058 1023h2v10h-2zM1058 1035.5h2v5h-2zM1058 1043h2v5h-2zM1058 1050.5h2v10h-2zM1058 1063h2v5.5h-2zM1060 1018h2v2.5h-2zM1060 1028h2v22.5h-2zM1060 1053h2v10h-2zM1062 1008h2v2.5h-2zM1062 1015.5h2v2.5h-2zM1062 1023h2v10h-2zM1062 1035.5h2v7.5h-2zM1062 1045.5h2v7.5h-2zM1062 1055.5h2v2.5h-2zM1064 1033h2v2.5h-2zM1064 1045.5h2v2.5h-2zM1064 1050.5h2v30h-2zM1066 1015.5h2v2.5h-2zM1066 1023h2v2.5h-2zM1066 1033h2v7.5h-2zM1066 1043h2v15h-2zM1066 1060.5h2v8h-2zM1068 1033h2v5h-2zM1068 1040.5h2v2.5h-2zM1068 1048h2v2.5h-2zM1068 1053h2v2.5h-2zM1068 1058h2v10.5h-2zM1070 1035.5h2v5h-2zM1070 1048h2v2.5h-2zM1070 1053h2v5h-2zM1070 1060.5h2v20h-2zM1072 1008h2v2.5h-2zM1072 1028h2v2.5h-2zM1072 1035.5h2v5h-2zM1072 1043h2v2.5h-2zM1072 1048h2v24h-2zM1074 1000.5h2v2.5h-2zM1074 1013h2v2.5h-2zM1074 1018h2v5h-2zM1074 1025.5h2v2.5h-2zM1074 1030.5h2v10h-2zM1074 1043h2v15h-2zM1076 1025.5h2v5h-2zM1076 1035.5h2v7.5h-2zM1076 1045.5h2v20h-2zM1078 993h2v2.5h-2zM1078 1015.5h2v2.5h-2zM1078 1020.5h2v5h-2zM1078 1030.5h2v22.5h-2zM1080 1008h2v5h-2zM1080 1018h2v2.5h-2zM1080 1028h2v2.5h-2zM1080 1035.5h2v2.5h-2zM1080 1045.5h2v20h-2zM1082 990.5h2v2.5h-2zM1082 995.5h2v2.5h-2zM1082 1005.5h2v2.5h-2zM1082 1023h2v2.5h-2zM1082 1028h2v32.5h-2zM1084 990.5h2v2.5h-2zM1084 998h2v2.5h-2zM1084 1003h2v2.5h-2zM1084 1008h2v5h-2zM1084 1015.5h2v2.5h-2zM1084 1023h2v2.5h-2zM1084 1033h2v17.5h-2zM1084 1053h2v2.5h-2zM1086 978h2v2.5h-2zM1086 1005.5h2v2.5h-2zM1086 1033h2v2.5h-2zM1086 1038h2v10h-2zM1086 1050.5h2v10h-2zM1086 1063h2v17.5h-2zM1088 1010.5h2v2.5h-2zM1088 1033h2v30h-2zM1090 998h2v5h-2zM1090 1015.5h2v2.5h-2zM1090 1023h2v2.5h-2zM1090 1030.5h2v2.5h-2zM1090 1035.5h2v7.5h-2zM1090 1045.5h2v23h-2zM1092 1020.5h2v2.5h-2zM1092 1025.5h2v2.5h-2zM1092 1038h2v17.5h-2zM1092 1058h2v2.5h-2zM1094 993h2v2.5h-2zM1094 1013h2v5h-2zM1094 1020.5h2v7.5h-2zM1094 1033h2v2.5h-2zM1094 1038h2v10h-2zM1094 1055.5h2v2.5h-2zM1096 1015.5h2v2.5h-2zM1096 1040.5h2v2.5h-2zM1096 1050.5h2v2.5h-2zM1096 1055.5h2v16.5h-2zM1096 1076h2v10h-2zM1098 990.5h2v2.5h-2zM1098 1018h2v2.5h-2zM1098 1028h2v2.5h-2zM1098 1038h2v30.5h-2zM1100 1028h2v5h-2zM1100 1035.5h2v10h-2zM1100 1048h2v2.5h-2zM1100 1053h2v7.5h-2zM1100 1063h2v2.5h-2zM1100 1072h2v4h-2zM1102 998h2v2.5h-2zM1102 1013h2v5h-2zM1102 1020.5h2v2.5h-2zM1102 1025.5h2v2.5h-2zM1102 1030.5h2v2.5h-2zM1102 1035.5h2v30h-2zM1104 1008h2v5h-2zM1104 1020.5h2v5h-2zM1104 1033h2v12.5h-2zM1104 1050.5h2v2.5h-2zM1104 1058h2v2.5h-2zM1106 1005.5h2v5h-2zM1106 1020.5h2v2.5h-2zM1106 1025.5h2v2.5h-2zM1106 1030.5h2v30h-2zM1108 1000.5h2v5h-2zM1108 1010.5h2v2.5h-2zM1108 1018h2v2.5h-2zM1108 1025.5h2v2.5h-2zM1108 1030.5h2v5h-2zM1108 1038h2v25h-2zM1110 1020.5h2v5h-2zM1110 1030.5h2v5h-2zM1110 1043h2v2.5h-2zM1110 1050.5h2v10h-2zM1110 1063h2v2.5h-2zM1110 1068.5h2v3.5h-2zM1112 1020.5h2v2.5h-2zM1112 1025.5h2v2.5h-2zM1112 1030.5h2v7.5h-2zM1112 1045.5h2v20h-2zM1112 1068.5h2v3.5h-2zM1114 1000.5h2v2.5h-2zM1114 1020.5h2v2.5h-2zM1114 1025.5h2v2.5h-2zM1114 1030.5h2v2.5h-2zM1114 1038h2v2.5h-2zM1114 1043h2v25.5h-2zM1116 985.5h2v2.5h-2zM1116 1000.5h2v2.5h-2zM1116 1013h2v5h-2zM1116 1020.5h2v7.5h-2zM1116 1033h2v2.5h-2zM1116 1038h2v17.5h-2zM1116 1060.5h2v2.5h-2zM1116 1065.5h2v6.5h-2zM1118 1000.5h2v2.5h-2zM1118 1005.5h2v5h-2zM1118 1020.5h2v10h-2zM1118 1033h2v7.5h-2zM1118 1043h2v2.5h-2zM1118 1048h2v10h-2zM1120 1013h2v2.5h-2zM1120 1025.5h2v12.5h-2zM1120 1040.5h2v2.5h-2zM1120 1045.5h2v15h-2zM1120 1072h2v4h-2zM1122 1018h2v2.5h-2zM1122 1055.5h2v7.5h-2zM1122 1072h2v4h-2zM1122 1086h2v11.5h-2zM1124 970.5h2v2.5h-2zM1124 1086h2v5.5h-2zM1124 1097.5h2v9.5h-2zM1126 1058h2v2.5h-2zM1126 1068.5h2v17.5h-2zM1128 1063h2v2.5h-2zM1132 1015.5h2v2.5h-2zM1142 1015.5h2v2.5h-2zM1144 1018h2v2.5h-2zM1144 1028h2v2.5h-2zM1144 1033h2v7.5h-2zM1146 970.5h2v5h-2zM1146 978h2v2.5h-2zM1146 983h2v5h-2zM1146 990.5h2v30h-2zM1146 1028h2v2.5h-2zM1148 969.5h2v6h-2zM1148 980.5h2v27.5h-2zM1148 1010.5h2v7.5h-2zM1150 970.5h2v2.5h-2zM1150 980.5h2v7.5h-2zM1150 990.5h2v2.5h-2zM1150 995.5h2v10h-2zM1150 1008h2v20h-2zM1150 1033h2v5h-2zM1152 969.5h2v1h-2zM1152 973h2v5h-2zM1152 980.5h2v30h-2zM1152 1013h2v2.5h-2zM1152 1020.5h2v2.5h-2zM1152 1030.5h2v2.5h-2zM1154 975.5h2v7.5h-2zM1154 985.5h2v2.5h-2zM1154 990.5h2v15h-2zM1154 1008h2v7.5h-2zM1156 969.5h2v1h-2zM1156 975.5h2v5h-2zM1156 983h2v2.5h-2zM1156 988h2v5h-2zM1156 995.5h2v2.5h-2zM1156 1000.5h2v7.5h-2zM1156 1010.5h2v10h-2zM1156 1025.5h2v2.5h-2zM1156 1030.5h2v2.5h-2zM1156 1040.5h2v2.5h-2zM1158 969.5h2v1h-2zM1158 975.5h2v2.5h-2zM1158 980.5h2v40h-2zM1158 1030.5h2v2.5h-2zM1160 969.5h2v1h-2zM1160 973h2v30h-2zM1162 973h2v30h-2zM1164 970.5h2v7.5h-2zM1164 983h2v10h-2zM1164 995.5h2v30h-2zM1166 969.5h2v1h-2zM1166 990.5h2v2.5h-2zM1166 998h2v2.5h-2zM1166 1005.5h2v2.5h-2zM1166 1010.5h2v2.5h-2zM1168 973h2v7.5h-2zM1168 983h2v5h-2zM1168 990.5h2v5h-2zM1176 969.5h2v1h-2zM1176 975.5h2v2.5h-2zM1176 980.5h2v2.5h-2zM1176 985.5h2v2.5h-2zM1176 990.5h2v5h-2zM1178 993h2v10h-2zM1178 1005.5h2v7.5h-2zM1180 978h2v2.5h-2zM1180 983h2v7.5h-2zM1180 993h2v2.5h-2zM1180 998h2v5h-2zM1180 1005.5h2v2.5h-2zM1180 1013h2v5h-2zM1180 1020.5h2v7.5h-2zM1182 998h2v5h-2zM1184 969.5h2v1h-2zM1184 980.5h2v2.5h-2zM1184 990.5h2v5h-2zM1184 998h2v2.5h-2zM1184 1003h2v27.5h-2zM1186 985.5h2v2.5h-2zM1186 1000.5h2v2.5h-2zM1186 1013h2v2.5h-2zM1186 1020.5h2v10h-2zM1186 1033h2v5h-2zM1186 1040.5h2v15h-2zM1186 1058h2v7.5h-2zM1188 983h2v2.5h-2zM1188 988h2v2.5h-2zM1188 993h2v7.5h-2zM1188 1003h2v5h-2zM1188 1013h2v5h-2zM1188 1020.5h2v7.5h-2zM1188 1030.5h2v12.5h-2zM1188 1045.5h2v2.5h-2zM1188 1050.5h2v2.5h-2zM1298 1018h2v2.5h-2zM1298 1028h2v2.5h-2zM1298 1035.5h2v2.5h-2zM1298 1045.5h2v30.5h-2zM1300 1000.5h2v5h-2zM1300 1008h2v2.5h-2zM1300 1025.5h2v2.5h-2zM1300 1030.5h2v27.5h-2zM1300 1060.5h2v2.5h-2zM1302 993h2v5h-2zM1302 1005.5h2v5h-2zM1302 1020.5h2v2.5h-2zM1302 1030.5h2v2.5h-2zM1302 1035.5h2v2.5h-2zM1302 1040.5h2v17.5h-2zM1302 1060.5h2v2.5h-2zM1304 1013h2v2.5h-2zM1304 1018h2v2.5h-2zM1304 1023h2v2.5h-2zM1304 1030.5h2v17.5h-2zM1304 1050.5h2v2.5h-2zM1304 1060.5h2v2.5h-2zM1306 1015.5h2v2.5h-2zM1306 1030.5h2v5h-2zM1306 1045.5h2v2.5h-2zM1306 1050.5h2v15h-2zM1306 1072h2v8.5h-2zM1308 1005.5h2v2.5h-2zM1308 1018h2v2.5h-2zM1308 1025.5h2v2.5h-2zM1308 1035.5h2v2.5h-2zM1308 1040.5h2v35.5h-2zM1310 995.5h2v2.5h-2zM1310 1000.5h2v2.5h-2zM1310 1005.5h2v2.5h-2zM1310 1023h2v5h-2zM1310 1030.5h2v17.5h-2zM1310 1050.5h2v2.5h-2zM1310 1055.5h2v5h-2zM1312 993h2v5h-2zM1312 1003h2v10h-2zM1312 1015.5h2v5h-2zM1312 1023h2v2.5h-2zM1312 1028h2v22.5h-2zM1312 1055.5h2v2.5h-2zM1314 1003h2v2.5h-2zM1314 1008h2v2.5h-2zM1314 1015.5h2v2.5h-2zM1314 1020.5h2v2.5h-2zM1314 1025.5h2v2.5h-2zM1314 1033h2v27.5h-2zM1316 998h2v2.5h-2zM1316 1005.5h2v2.5h-2zM1316 1015.5h2v2.5h-2zM1316 1020.5h2v2.5h-2zM1316 1025.5h2v2.5h-2zM1316 1033h2v20h-2zM1316 1055.5h2v5h-2zM1318 990.5h2v5h-2zM1318 1000.5h2v2.5h-2zM1318 1005.5h2v2.5h-2zM1318 1013h2v2.5h-2zM1318 1025.5h2v2.5h-2zM1318 1030.5h2v10h-2zM1318 1045.5h2v7.5h-2zM1318 1055.5h2v2.5h-2zM1318 1063h2v2.5h-2zM1320 1000.5h2v5h-2zM1320 1013h2v2.5h-2zM1320 1020.5h2v27.5h-2zM1320 1050.5h2v2.5h-2zM1322 998h2v2.5h-2zM1322 1005.5h2v5h-2zM1322 1018h2v2.5h-2zM1322 1023h2v2.5h-2zM1322 1030.5h2v30h-2zM1322 1063h2v2.5h-2zM1324 1015.5h2v2.5h-2zM1324 1033h2v2.5h-2zM1324 1038h2v30.5h-2zM1324 1072h2v4h-2zM1326 1008h2v5h-2zM1326 1018h2v5h-2zM1326 1035.5h2v15h-2zM1326 1053h2v2.5h-2zM1326 1060.5h2v2.5h-2zM1328 1005.5h2v5h-2zM1328 1013h2v2.5h-2zM1328 1018h2v5h-2zM1328 1033h2v2.5h-2zM1328 1038h2v10h-2zM1328 1050.5h2v12.5h-2zM1330 1000.5h2v2.5h-2zM1330 1018h2v2.5h-2zM1330 1025.5h2v2.5h-2zM1330 1030.5h2v5h-2zM1330 1038h2v2.5h-2zM1330 1043h2v22.5h-2zM1330 1072h2v4h-2zM1332 1025.5h2v7.5h-2zM1332 1038h2v5h-2zM1332 1045.5h2v2.5h-2zM1332 1050.5h2v2.5h-2zM1332 1055.5h2v13h-2zM1332 1076h2v4.5h-2zM1334 1015.5h2v2.5h-2zM1334 1023h2v2.5h-2zM1334 1033h2v2.5h-2zM1334 1043h2v2.5h-2zM1334 1048h2v5h-2zM1334 1055.5h2v5h-2zM1334 1065.5h2v6.5h-2zM1336 1025.5h2v2.5h-2zM1336 1035.5h2v5h-2zM1336 1045.5h2v5h-2zM1336 1053h2v15.5h-2zM1338 985.5h2v2.5h-2zM1338 1033h2v5h-2zM1338 1040.5h2v5h-2zM1338 1048h2v17.5h-2zM1338 1076h2v4.5h-2zM1340 1030.5h2v2.5h-2zM1340 1035.5h2v2.5h-2zM1340 1040.5h2v5h-2zM1340 1048h2v5h-2zM1340 1055.5h2v16.5h-2zM1342 1023h2v2.5h-2zM1342 1043h2v7.5h-2zM1342 1053h2v2.5h-2zM1342 1058h2v2.5h-2zM1342 1063h2v17.5h-2z"/><path fill="#0000ff" d="M556 973h2v2.5h-2zM560 978h2v2.5h-2zM560 985.5h2v2.5h-2zM560 1020.5h2v2.5h-2zM562 1050.5h2v2.5h-2zM562 1076h2v10h-2zM564 980.5h2v2.5h-2zM564 1086h2v5.5h-2zM566 1091.5h2v6h-2zM568 1107h2v15h-2zM572 1028h2v2.5h-2zM572 1080.5h2v11h-2zM574 998h2v2.5h-2zM574 1107h2v15h-2zM576 1107h2v15h-2zM578 1086h2v5.5h-2zM586 1080.5h2v5.5h-2zM586 1091.5h2v6h-2zM588 1038h2v2.5h-2zM588 1091.5h2v6h-2zM590 998h2v2.5h-2zM592 1076h2v4.5h-2zM594 1038h2v2.5h-2zM594 1055.5h2v2.5h-2zM596 1076h2v4.5h-2zM598 1060.5h2v2.5h-2zM598 1097.5h2v9.5h-2zM600 1053h2v2.5h-2zM602 1040.5h2v2.5h-2zM602 1065.5h2v3h-2zM602 1107h2v15h-2zM608 1028h2v2.5h-2zM608 1107h2v15h-2zM612 1091.5h2v6h-2zM614 1107h2v15h-2zM616 998h2v2.5h-2zM616 1107h2v15h-2zM618 1045.5h2v2.5h-2zM618 1107h2v15h-2zM620 1097.5h2v9.5h-2zM624 1072h2v4h-2zM624 1107h2v15h-2zM628 1013h2v2.5h-2zM628 1107h2v15h-2zM630 998h2v2.5h-2zM630 1107h2v15h-2zM632 983h2v2.5h-2zM632 1107h2v15h-2zM638 1107h2v15h-2zM648 1091.5h2v6h-2zM650 1107h2v15h-2zM652 983h2v2.5h-2zM654 1043h2v2.5h-2zM654 1080.5h2v11h-2zM656 1097.5h2v9.5h-2zM658 1060.5h2v2.5h-2zM660 998h2v2.5h-2zM660 1091.5h2v6h-2zM662 973h2v2.5h-2zM662 980.5h2v2.5h-2zM662 998h2v2.5h-2zM664 1091.5h2v15.5h-2zM666 998h2v2.5h-2zM666 1080.5h2v5.5h-2zM668 998h2v2.5h-2zM668 1097.5h2v9.5h-2zM670 1091.5h2v6h-2zM672 980.5h2v2.5h-2zM672 1091.5h2v6h-2zM676 980.5h2v5h-2zM676 1086h2v11.5h-2zM678 1008h2v2.5h-2zM678 1097.5h2v9.5h-2zM682 980.5h2v5h-2zM688 1091.5h2v15.5h-2zM690 1000.5h2v2.5h-2zM692 1107h2v15h-2zM694 998h2v2.5h-2zM694 1086h2v5.5h-2zM694 1107h2v15h-2zM696 998h2v2.5h-2zM698 1107h2v15h-2zM702 998h2v2.5h-2zM702 1008h2v2.5h-2zM704 998h2v2.5h-2zM704 1028h2v2.5h-2zM704 1091.5h2v6h-2zM708 1107h2v15h-2zM710 998h2v2.5h-2zM710 1091.5h2v6h-2zM712 1107h2v15h-2zM714 1107h2v15h-2zM718 1107h2v15h-2zM722 1097.5h2v9.5h-2zM724 1086h2v5.5h-2zM726 1091.5h2v6h-2zM732 1107h2v15h-2zM736 1097.5h2v9.5h-2zM738 1107h2v15h-2zM740 980.5h2v2.5h-2zM740 1028h2v2.5h-2zM746 1053h2v2.5h-2zM748 1107h2v15h-2zM752 970.5h2v2.5h-2zM752 1005.5h2v2.5h-2zM752 1107h2v15h-2zM754 998h2v2.5h-2zM754 1063h2v2.5h-2zM754 1107h2v15h-2zM756 1107h2v15h-2zM758 1060.5h2v2.5h-2zM760 1013h2v2.5h-2zM762 975.5h2v2.5h-2zM764 978h2v2.5h-2zM768 1043h2v2.5h-2zM770 1086h2v11.5h-2zM774 1013h2v2.5h-2zM774 1107h2v15h-2zM776 1086h2v11.5h-2zM778 1086h2v11.5h-2zM780 1107h2v15h-2zM782 1055.5h2v2.5h-2zM782 1086h2v5.5h-2zM784 995.5h2v2.5h-2zM784 1053h2v2.5h-2zM784 1107h2v15h-2zM786 1107h2v15h-2zM788 1107h2v15h-2zM790 1086h2v11.5h-2zM796 993h2v2.5h-2zM796 1107h2v15h-2zM800 1003h2v2.5h-2zM800 1063h2v2.5h-2zM802 998h2v2.5h-2zM802 1058h2v2.5h-2zM804 1015.5h2v2.5h-2zM806 1033h2v2.5h-2zM806 1107h2v15h-2zM808 1107h2v15h-2zM810 998h2v2.5h-2zM810 1072h2v14h-2zM812 1086h2v5.5h-2zM812 1097.5h2v9.5h-2zM814 1028h2v2.5h-2zM814 1076h2v4.5h-2zM816 985.5h2v2.5h-2zM816 1063h2v2.5h-2zM816 1076h2v4.5h-2zM816 1086h2v5.5h-2zM818 1068.5h2v17.5h-2zM820 1068.5h2v12h-2zM822 983h2v2.5h-2zM822 1055.5h2v2.5h-2zM822 1060.5h2v8h-2zM824 1060.5h2v2.5h-2zM826 1065.5h2v6.5h-2zM828 1060.5h2v2.5h-2zM828 1065.5h2v15h-2zM832 1068.5h2v7.5h-2zM832 1080.5h2v11h-2zM834 1076h2v10h-2zM836 998h2v2.5h-2zM836 1068.5h2v7.5h-2zM836 1080.5h2v5.5h-2zM838 1068.5h2v12h-2zM840 1072h2v4h-2zM840 1080.5h2v5.5h-2zM842 1072h2v4h-2zM842 1086h2v5.5h-2zM846 1080.5h2v5.5h-2zM848 998h2v2.5h-2zM848 1060.5h2v2.5h-2zM848 1065.5h2v15h-2zM850 1086h2v11.5h-2zM852 990.5h2v2.5h-2zM852 1053h2v2.5h-2zM852 1072h2v4h-2zM852 1080.5h2v5.5h-2zM854 1080.5h2v5.5h-2zM856 1048h2v2.5h-2zM856 1053h2v2.5h-2zM856 1058h2v10.5h-2zM858 1065.5h2v6.5h-2zM862 1060.5h2v2.5h-2zM864 1063h2v2.5h-2zM864 1072h2v4h-2zM866 1010.5h2v2.5h-2zM866 1050.5h2v12.5h-2zM866 1065.5h2v3h-2zM868 1072h2v14h-2zM870 1060.5h2v11.5h-2zM872 990.5h2v2.5h-2zM872 1050.5h2v2.5h-2zM872 1063h2v9h-2zM874 998h2v2.5h-2zM874 1023h2v2.5h-2zM874 1028h2v2.5h-2zM874 1080.5h2v17h-2zM876 988h2v2.5h-2zM876 1053h2v2.5h-2zM876 1058h2v5h-2zM876 1065.5h2v3h-2zM876 1076h2v4.5h-2zM878 998h2v2.5h-2zM878 1058h2v5h-2zM882 980.5h2v2.5h-2zM884 1033h2v2.5h-2zM884 1038h2v2.5h-2zM884 1045.5h2v10h-2zM884 1058h2v2.5h-2zM886 1035.5h2v2.5h-2zM886 1040.5h2v2.5h-2zM886 1045.5h2v7.5h-2zM886 1058h2v5h-2zM888 1038h2v5h-2zM888 1045.5h2v5h-2zM890 1060.5h2v15.5h-2zM892 1038h2v15h-2zM892 1055.5h2v2.5h-2zM894 985.5h2v2.5h-2zM894 1038h2v7.5h-2zM894 1048h2v2.5h-2zM894 1053h2v2.5h-2zM894 1058h2v2.5h-2zM896 988h2v2.5h-2zM896 998h2v2.5h-2zM896 1058h2v10.5h-2zM902 1038h2v2.5h-2zM904 1038h2v2.5h-2zM904 1043h2v7.5h-2zM906 998h2v2.5h-2zM906 1040.5h2v2.5h-2zM906 1045.5h2v2.5h-2zM906 1050.5h2v5h-2zM906 1058h2v5h-2zM908 1038h2v2.5h-2zM908 1043h2v2.5h-2zM908 1048h2v10h-2zM910 1040.5h2v2.5h-2zM910 1045.5h2v7.5h-2zM910 1055.5h2v7.5h-2zM912 1035.5h2v2.5h-2zM912 1040.5h2v15h-2zM912 1058h2v2.5h-2zM914 998h2v2.5h-2zM914 1030.5h2v2.5h-2zM914 1035.5h2v7.5h-2zM914 1045.5h2v2.5h-2zM914 1053h2v2.5h-2zM916 1055.5h2v2.5h-2zM916 1068.5h2v3.5h-2zM918 1035.5h2v2.5h-2zM918 1040.5h2v2.5h-2zM918 1045.5h2v5h-2zM918 1053h2v2.5h-2zM918 1060.5h2v2.5h-2zM920 1048h2v5h-2zM922 1030.5h2v10h-2zM922 1043h2v10h-2zM924 978h2v2.5h-2zM924 1018h2v2.5h-2zM924 1043h2v2.5h-2zM924 1048h2v5h-2zM924 1055.5h2v2.5h-2zM926 1038h2v5h-2zM926 1045.5h2v12.5h-2zM928 1008h2v2.5h-2zM928 1038h2v2.5h-2zM928 1043h2v7.5h-2zM928 1060.5h2v2.5h-2zM930 1010.5h2v2.5h-2zM930 1030.5h2v2.5h-2zM930 1040.5h2v5h-2zM930 1048h2v2.5h-2zM930 1053h2v2.5h-2zM932 1040.5h2v5h-2zM932 1048h2v10h-2zM932 1060.5h2v2.5h-2zM934 1045.5h2v2.5h-2zM934 1053h2v2.5h-2zM934 1058h2v5h-2zM936 993h2v2.5h-2zM936 998h2v2.5h-2zM936 1086h2v5.5h-2zM938 995.5h2v2.5h-2zM938 1072h2v4h-2zM938 1080.5h2v17h-2zM940 1043h2v2.5h-2zM940 1063h2v5.5h-2zM940 1072h2v4h-2zM942 1048h2v2.5h-2zM942 1055.5h2v13h-2zM944 1050.5h2v5h-2zM944 1060.5h2v2.5h-2zM944 1072h2v4h-2zM946 1050.5h2v7.5h-2zM946 1060.5h2v2.5h-2zM946 1065.5h2v3h-2zM948 1086h2v5.5h-2zM950 1060.5h2v11.5h-2zM950 1076h2v4.5h-2zM952 1005.5h2v2.5h-2zM952 1072h2v8.5h-2zM954 998h2v2.5h-2zM954 1050.5h2v12.5h-2zM956 1068.5h2v7.5h-2zM958 1065.5h2v3h-2zM960 1028h2v2.5h-2zM960 1063h2v2.5h-2zM960 1068.5h2v12h-2zM962 1055.5h2v10h-2zM962 1068.5h2v3.5h-2zM964 1058h2v2.5h-2zM964 1076h2v10h-2zM966 998h2v2.5h-2zM966 1076h2v4.5h-2zM968 983h2v2.5h-2zM968 1076h2v21.5h-2zM970 1033h2v2.5h-2zM970 1076h2v4.5h-2zM970 1086h2v21h-2zM972 970.5h2v2.5h-2zM972 1058h2v22.5h-2zM974 1000.5h2v5h-2zM974 1080.5h2v5.5h-2zM974 1091.5h2v6h-2zM976 1055.5h2v10h-2zM976 1068.5h2v7.5h-2zM978 980.5h2v2.5h-2zM978 1063h2v5.5h-2zM978 1072h2v4h-2zM978 1080.5h2v5.5h-2zM980 1076h2v10h-2zM982 998h2v2.5h-2zM982 1058h2v5h-2zM986 998h2v2.5h-2zM986 1065.5h2v15h-2zM988 1048h2v2.5h-2zM988 1053h2v5h-2zM988 1060.5h2v2.5h-2zM990 1033h2v2.5h-2zM990 1063h2v9h-2zM992 998h2v2.5h-2zM992 1058h2v2.5h-2zM992 1063h2v5.5h-2zM994 1080.5h2v11h-2zM996 998h2v2.5h-2zM998 1107h2v15h-2zM1000 1091.5h2v15.5h-2zM1002 1086h2v5.5h-2zM1004 1091.5h2v6h-2zM1006 1091.5h2v6h-2zM1008 1080.5h2v17h-2zM1010 998h2v2.5h-2zM1010 1043h2v2.5h-2zM1012 993h2v2.5h-2zM1012 1048h2v2.5h-2zM1012 1080.5h2v11h-2zM1014 1086h2v5.5h-2zM1016 1076h2v15.5h-2zM1018 1076h2v15.5h-2zM1020 998h2v2.5h-2zM1020 1091.5h2v15.5h-2zM1022 998h2v2.5h-2zM1022 1091.5h2v15.5h-2zM1024 1080.5h2v5.5h-2zM1024 1091.5h2v6h-2zM1026 983h2v5h-2zM1026 1060.5h2v2.5h-2zM1026 1086h2v5.5h-2zM1028 973h2v2.5h-2zM1028 1023h2v2.5h-2zM1028 1072h2v8.5h-2zM1030 1080.5h2v11h-2zM1032 1010.5h2v2.5h-2zM1034 1050.5h2v2.5h-2zM1034 1076h2v10h-2zM1036 1013h2v2.5h-2zM1036 1076h2v4.5h-2zM1038 1050.5h2v2.5h-2zM1038 1072h2v14h-2zM1040 1072h2v8.5h-2zM1042 998h2v2.5h-2zM1042 1005.5h2v2.5h-2zM1042 1080.5h2v5.5h-2zM1044 1068.5h2v17.5h-2zM1046 1015.5h2v2.5h-2zM1046 1072h2v8.5h-2zM1048 998h2v2.5h-2zM1048 1080.5h2v11h-2zM1050 1080.5h2v5.5h-2zM1052 998h2v2.5h-2zM1052 1091.5h2v6h-2zM1054 1020.5h2v2.5h-2zM1054 1040.5h2v2.5h-2zM1054 1048h2v2.5h-2zM1054 1076h2v10h-2zM1056 1097.5h2v9.5h-2zM1058 1040.5h2v2.5h-2zM1058 1080.5h2v11h-2zM1060 1015.5h2v2.5h-2zM1060 1068.5h2v12h-2zM1062 1043h2v2.5h-2zM1062 1065.5h2v3h-2zM1062 1072h2v14h-2zM1064 1097.5h2v9.5h-2zM1066 988h2v2.5h-2zM1066 1080.5h2v17h-2zM1068 1055.5h2v2.5h-2zM1068 1080.5h2v5.5h-2zM1068 1091.5h2v6h-2zM1070 998h2v2.5h-2zM1070 1058h2v2.5h-2zM1070 1091.5h2v15.5h-2zM1072 1033h2v2.5h-2zM1072 1086h2v5.5h-2zM1074 969.5h2v1h-2zM1074 1086h2v5.5h-2zM1076 1080.5h2v5.5h-2zM1078 998h2v2.5h-2zM1078 1072h2v4h-2zM1078 1080.5h2v5.5h-2zM1080 1086h2v5.5h-2zM1082 1015.5h2v2.5h-2zM1082 1068.5h2v3.5h-2zM1084 1063h2v2.5h-2zM1084 1068.5h2v12h-2zM1086 998h2v2.5h-2zM1086 1091.5h2v6h-2zM1088 1076h2v10h-2zM1090 1086h2v11.5h-2zM1092 985.5h2v2.5h-2zM1092 998h2v2.5h-2zM1092 1080.5h2v5.5h-2zM1094 998h2v2.5h-2zM1094 1068.5h2v12h-2zM1096 1097.5h2v9.5h-2zM1098 980.5h2v2.5h-2zM1098 1080.5h2v11h-2zM1100 1080.5h2v17h-2zM1102 1080.5h2v11h-2zM1104 1060.5h2v5h-2zM1104 1072h2v4h-2zM1108 1072h2v4h-2zM1110 998h2v2.5h-2zM1110 1048h2v2.5h-2zM1110 1086h2v5.5h-2zM1112 1080.5h2v11h-2zM1114 1076h2v21.5h-2zM1116 998h2v2.5h-2zM1116 1080.5h2v5.5h-2zM1118 1040.5h2v2.5h-2zM1118 1045.5h2v2.5h-2zM1118 1072h2v8.5h-2zM1120 1008h2v2.5h-2zM1120 1080.5h2v11h-2zM1122 1107h2v15h-2zM1126 1000.5h2v2.5h-2zM1130 1053h2v2.5h-2zM1134 995.5h2v7.5h-2zM1136 973h2v2.5h-2zM1140 975.5h2v2.5h-2zM1142 1020.5h2v10h-2zM1144 1053h2v2.5h-2zM1146 1033h2v2.5h-2zM1146 1038h2v2.5h-2zM1146 1045.5h2v5h-2zM1146 1053h2v5h-2zM1148 1028h2v5h-2zM1148 1040.5h2v2.5h-2zM1148 1045.5h2v10h-2zM1150 1053h2v5h-2zM1150 1060.5h2v8h-2zM1152 1045.5h2v12.5h-2zM1154 1005.5h2v2.5h-2zM1154 1033h2v20h-2zM1154 1055.5h2v2.5h-2zM1156 1043h2v2.5h-2zM1156 1048h2v12.5h-2zM1158 1040.5h2v5h-2zM1158 1053h2v2.5h-2zM1160 1003h2v5h-2zM1162 1003h2v10h-2zM1162 1018h2v2.5h-2zM1164 1033h2v2.5h-2zM1166 1015.5h2v2.5h-2zM1168 969.5h2v1h-2zM1168 995.5h2v2.5h-2zM1174 978h2v2.5h-2zM1176 1003h2v2.5h-2zM1178 1015.5h2v2.5h-2zM1180 1018h2v2.5h-2zM1184 1000.5h2v2.5h-2zM1184 1033h2v10h-2zM1186 1038h2v2.5h-2zM1186 1076h2v4.5h-2zM1188 1065.5h2v3h-2zM1188 1072h2v8.5h-2zM1298 1086h2v5.5h-2zM1298 1097.5h2v9.5h-2zM1300 969.5h2v1h-2zM1300 1072h2v14h-2zM1302 983h2v2.5h-2zM1302 988h2v2.5h-2zM1302 1072h2v4h-2zM1302 1086h2v5.5h-2zM1304 1072h2v19.5h-2zM1308 985.5h2v2.5h-2zM1308 1080.5h2v11h-2zM1310 1028h2v2.5h-2zM1310 1068.5h2v3.5h-2zM1310 1076h2v4.5h-2zM1312 1065.5h2v15h-2zM1314 1076h2v4.5h-2zM1314 1086h2v5.5h-2zM1316 1065.5h2v3h-2zM1316 1080.5h2v5.5h-2zM1318 1040.5h2v2.5h-2zM1318 1072h2v8.5h-2zM1320 1018h2v2.5h-2zM1320 1072h2v8.5h-2zM1322 1076h2v10h-2zM1324 975.5h2v2.5h-2zM1324 1008h2v2.5h-2zM1324 1080.5h2v11h-2zM1326 1050.5h2v2.5h-2zM1326 1072h2v8.5h-2zM1328 1072h2v8.5h-2zM1330 1076h2v4.5h-2zM1330 1086h2v5.5h-2zM1332 993h2v2.5h-2zM1332 1091.5h2v15.5h-2zM1334 1080.5h2v11h-2zM1336 1086h2v11.5h-2zM1338 1091.5h2v6h-2zM1340 1080.5h2v11h-2zM1342 998h2v2.5h-2zM1342 1060.5h2v2.5h-2zM1342 1086h2v11.5h-2z"/><path fill="#0019ff" d="M558 1107h2v15h-2zM562 1086h2v5.5h-2zM564 1091.5h2v6h-2zM566 1097.5h2v9.5h-2zM572 998h2v2.5h-2zM572 1091.5h2v6h-2zM578 1091.5h2v6h-2zM580 998h2v2.5h-2zM582 998h2v2.5h-2zM592 1086h2v11.5h-2zM594 1033h2v2.5h-2zM594 1045.5h2v2.5h-2zM594 1053h2v2.5h-2zM596 1080.5h2v11h-2zM608 1091.5h2v6h-2zM610 998h2v2.5h-2zM618 998h2v2.5h-2zM622 980.5h2v2.5h-2zM622 1072h2v4h-2zM624 983h2v2.5h-2zM628 980.5h2v5h-2zM634 983h2v2.5h-2zM634 1107h2v15h-2zM640 980.5h2v5h-2zM642 983h2v2.5h-2zM642 998h2v2.5h-2zM642 1091.5h2v6h-2zM644 980.5h2v2.5h-2zM652 1107h2v15h-2zM654 980.5h2v2.5h-2zM654 1091.5h2v6h-2zM656 1107h2v15h-2zM658 983h2v2.5h-2zM658 1091.5h2v15.5h-2zM660 1060.5h2v2.5h-2zM660 1097.5h2v9.5h-2zM662 1086h2v5.5h-2zM666 1091.5h2v6h-2zM670 980.5h2v2.5h-2zM670 1097.5h2v9.5h-2zM672 1097.5h2v9.5h-2zM674 998h2v2.5h-2zM678 980.5h2v2.5h-2zM678 1055.5h2v2.5h-2zM680 980.5h2v2.5h-2zM680 1091.5h2v15.5h-2zM682 1097.5h2v9.5h-2zM684 1058h2v2.5h-2zM684 1091.5h2v15.5h-2zM686 1107h2v15h-2zM690 1107h2v15h-2zM704 1097.5h2v9.5h-2zM714 998h2v2.5h-2zM720 1107h2v15h-2zM724 1091.5h2v6h-2zM728 1107h2v15h-2zM730 1107h2v15h-2zM736 998h2v2.5h-2zM736 1040.5h2v2.5h-2zM742 1107h2v15h-2zM744 1107h2v15h-2zM746 998h2v2.5h-2zM746 1107h2v15h-2zM748 998h2v2.5h-2zM758 1107h2v15h-2zM778 998h2v2.5h-2zM782 1107h2v15h-2zM790 1043h2v2.5h-2zM792 1107h2v15h-2zM800 998h2v2.5h-2zM800 1107h2v15h-2zM804 1080.5h2v11h-2zM808 998h2v2.5h-2zM810 1086h2v5.5h-2zM814 1080.5h2v5.5h-2zM816 1091.5h2v6h-2zM818 998h2v2.5h-2zM818 1053h2v2.5h-2zM820 998h2v2.5h-2zM820 1080.5h2v17h-2zM822 998h2v2.5h-2zM822 1068.5h2v7.5h-2zM824 1063h2v2.5h-2zM830 1091.5h2v6h-2zM832 1076h2v4.5h-2zM832 1091.5h2v6h-2zM834 1091.5h2v6h-2zM836 1086h2v11.5h-2zM838 1080.5h2v11h-2zM840 1076h2v4.5h-2zM840 1091.5h2v6h-2zM842 998h2v2.5h-2zM842 1097.5h2v9.5h-2zM844 1107h2v15h-2zM846 1086h2v5.5h-2zM848 1080.5h2v5.5h-2zM850 998h2v2.5h-2zM852 1038h2v2.5h-2zM852 1086h2v5.5h-2zM852 1097.5h2v9.5h-2zM854 1053h2v2.5h-2zM854 1086h2v11.5h-2zM856 998h2v2.5h-2zM856 1068.5h2v12h-2zM858 1072h2v4h-2zM860 1063h2v9h-2zM862 1063h2v2.5h-2zM864 1010.5h2v2.5h-2zM864 1076h2v4.5h-2zM866 1048h2v2.5h-2zM866 1063h2v2.5h-2zM866 1068.5h2v3.5h-2zM868 1086h2v11.5h-2zM870 1072h2v8.5h-2zM872 1018h2v2.5h-2zM872 1060.5h2v2.5h-2zM872 1072h2v8.5h-2zM874 1065.5h2v3h-2zM876 1068.5h2v3.5h-2zM878 1063h2v2.5h-2zM882 1008h2v2.5h-2zM882 1050.5h2v2.5h-2zM884 1055.5h2v2.5h-2zM884 1060.5h2v2.5h-2zM886 1053h2v5h-2zM886 1063h2v5.5h-2zM888 1050.5h2v25.5h-2zM890 998h2v2.5h-2zM890 1076h2v21.5h-2zM892 998h2v2.5h-2zM892 1053h2v2.5h-2zM892 1058h2v5h-2zM892 1065.5h2v3h-2zM894 1050.5h2v2.5h-2zM894 1055.5h2v2.5h-2zM894 1060.5h2v8h-2zM896 1068.5h2v3.5h-2zM898 1053h2v5h-2zM900 998h2v2.5h-2zM900 1038h2v5h-2zM902 1045.5h2v5h-2zM904 998h2v2.5h-2zM904 1050.5h2v5h-2zM906 1038h2v2.5h-2zM906 1048h2v2.5h-2zM906 1055.5h2v2.5h-2zM906 1063h2v2.5h-2zM908 1058h2v2.5h-2zM908 1063h2v2.5h-2zM910 1010.5h2v2.5h-2zM910 1053h2v2.5h-2zM910 1068.5h2v3.5h-2zM912 1055.5h2v2.5h-2zM912 1060.5h2v2.5h-2zM912 1068.5h2v3.5h-2zM914 1048h2v5h-2zM914 1060.5h2v2.5h-2zM916 1063h2v2.5h-2zM916 1072h2v14h-2zM918 1010.5h2v2.5h-2zM918 1050.5h2v2.5h-2zM918 1058h2v2.5h-2zM924 983h2v2.5h-2zM924 1053h2v2.5h-2zM924 1058h2v7.5h-2zM926 1058h2v10.5h-2zM928 1050.5h2v10h-2zM930 1015.5h2v2.5h-2zM930 1050.5h2v2.5h-2zM930 1055.5h2v10h-2zM932 1058h2v2.5h-2zM932 1063h2v2.5h-2zM934 1055.5h2v2.5h-2zM934 1063h2v9h-2zM936 1091.5h2v15.5h-2zM940 1076h2v10h-2zM942 1068.5h2v17.5h-2zM944 1068.5h2v3.5h-2zM944 1076h2v4.5h-2zM946 1058h2v2.5h-2zM946 1063h2v2.5h-2zM946 1068.5h2v7.5h-2zM948 1091.5h2v15.5h-2zM950 1072h2v4h-2zM950 1080.5h2v11h-2zM952 1080.5h2v11h-2zM954 1063h2v13h-2zM956 998h2v2.5h-2zM956 1076h2v10h-2zM958 1068.5h2v3.5h-2zM960 1013h2v2.5h-2zM960 1080.5h2v5.5h-2zM962 1065.5h2v3h-2zM962 1072h2v4h-2zM964 1086h2v11.5h-2zM966 1086h2v11.5h-2zM968 1097.5h2v9.5h-2zM972 1080.5h2v11h-2zM974 998h2v2.5h-2zM976 1065.5h2v3h-2zM978 998h2v2.5h-2zM978 1076h2v4.5h-2zM978 1086h2v5.5h-2zM980 1086h2v5.5h-2zM982 1063h2v5.5h-2zM984 998h2v2.5h-2zM984 1063h2v5.5h-2zM986 1080.5h2v5.5h-2zM988 1058h2v2.5h-2zM988 1063h2v5.5h-2zM988 1072h2v4h-2zM990 998h2v2.5h-2zM990 1072h2v8.5h-2zM992 1068.5h2v17.5h-2zM994 1091.5h2v6h-2zM1002 1091.5h2v6h-2zM1004 1097.5h2v9.5h-2zM1006 1097.5h2v9.5h-2zM1008 1097.5h2v9.5h-2zM1010 1091.5h2v6h-2zM1012 1091.5h2v6h-2zM1014 1091.5h2v15.5h-2zM1016 998h2v2.5h-2zM1016 1091.5h2v6h-2zM1022 1107h2v15h-2zM1024 1068.5h2v3.5h-2zM1024 1097.5h2v9.5h-2zM1026 1091.5h2v6h-2zM1028 1080.5h2v11h-2zM1030 1076h2v4.5h-2zM1030 1091.5h2v6h-2zM1032 1091.5h2v6h-2zM1034 1091.5h2v6h-2zM1036 998h2v2.5h-2zM1036 1080.5h2v5.5h-2zM1038 1086h2v5.5h-2zM1040 1080.5h2v5.5h-2zM1042 1091.5h2v6h-2zM1046 1080.5h2v11h-2zM1048 1091.5h2v6h-2zM1050 1086h2v11.5h-2zM1052 1086h2v5.5h-2zM1052 1097.5h2v9.5h-2zM1054 1086h2v5.5h-2zM1058 1091.5h2v6h-2zM1060 1080.5h2v11h-2zM1068 1097.5h2v9.5h-2zM1070 1080.5h2v5.5h-2zM1072 1091.5h2v6h-2zM1074 998h2v2.5h-2zM1074 1091.5h2v6h-2zM1076 1091.5h2v6h-2zM1078 1055.5h2v2.5h-2zM1078 1076h2v4.5h-2zM1078 1086h2v5.5h-2zM1080 1091.5h2v6h-2zM1082 1080.5h2v5.5h-2zM1084 1086h2v5.5h-2zM1086 1097.5h2v9.5h-2zM1088 1028h2v2.5h-2zM1088 1086h2v5.5h-2zM1090 1097.5h2v9.5h-2zM1092 1086h2v11.5h-2zM1094 1080.5h2v11h-2zM1098 1091.5h2v6h-2zM1100 998h2v2.5h-2zM1104 1076h2v15.5h-2zM1106 1072h2v8.5h-2zM1112 1091.5h2v15.5h-2zM1114 998h2v2.5h-2zM1116 1086h2v11.5h-2zM1118 998h2v2.5h-2zM1118 1063h2v2.5h-2zM1118 1080.5h2v11h-2zM1120 1091.5h2v6h-2zM1124 1107h2v15h-2zM1126 1086h2v5.5h-2zM1128 1068.5h2v7.5h-2zM1130 1045.5h2v2.5h-2zM1130 1055.5h2v2.5h-2zM1132 1023h2v2.5h-2zM1132 1028h2v2.5h-2zM1134 1003h2v5h-2zM1136 975.5h2v2.5h-2zM1136 988h2v2.5h-2zM1138 973h2v2.5h-2zM1138 980.5h2v2.5h-2zM1140 998h2v2.5h-2zM1140 1003h2v2.5h-2zM1144 1045.5h2v2.5h-2zM1146 1025.5h2v2.5h-2zM1146 1060.5h2v2.5h-2zM1148 1008h2v2.5h-2zM1148 1055.5h2v5h-2zM1148 1063h2v2.5h-2zM1150 1072h2v14h-2zM1152 1010.5h2v2.5h-2zM1152 1058h2v14h-2zM1154 1053h2v2.5h-2zM1154 1058h2v7.5h-2zM1156 1008h2v2.5h-2zM1156 1063h2v5.5h-2zM1156 1076h2v10h-2zM1158 1048h2v5h-2zM1158 1055.5h2v2.5h-2zM1160 1008h2v7.5h-2zM1160 1018h2v5h-2zM1162 1020.5h2v5h-2zM1164 1035.5h2v2.5h-2zM1166 1008h2v2.5h-2zM1166 1018h2v2.5h-2zM1168 998h2v5h-2zM1170 978h2v2.5h-2zM1170 983h2v5h-2zM1174 983h2v2.5h-2zM1176 998h2v2.5h-2zM1176 1008h2v2.5h-2zM1180 1030.5h2v2.5h-2zM1182 1013h2v2.5h-2zM1184 1043h2v2.5h-2zM1184 1048h2v2.5h-2zM1186 1080.5h2v5.5h-2zM1188 1028h2v2.5h-2zM1188 1080.5h2v11h-2zM1300 1086h2v5.5h-2zM1304 1091.5h2v6h-2zM1306 1091.5h2v6h-2zM1308 1091.5h2v15.5h-2zM1310 1080.5h2v17h-2zM1312 1080.5h2v5.5h-2zM1314 1080.5h2v5.5h-2zM1314 1091.5h2v6h-2zM1316 1086h2v5.5h-2zM1318 1043h2v2.5h-2zM1318 1080.5h2v5.5h-2zM1320 998h2v2.5h-2zM1320 1080.5h2v5.5h-2zM1322 1086h2v11.5h-2zM1324 1091.5h2v15.5h-2zM1326 1080.5h2v17h-2zM1328 1080.5h2v11h-2zM1330 1091.5h2v6h-2zM1334 1060.5h2v2.5h-2zM1334 1091.5h2v6h-2zM1336 1097.5h2v9.5h-2zM1338 1086h2v5.5h-2zM1338 1097.5h2v9.5h-2zM1340 1091.5h2v6h-2z"/><path fill="#0033ff" d="M562 1091.5h2v6h-2zM564 1097.5h2v9.5h-2zM572 1097.5h2v9.5h-2zM588 1097.5h2v9.5h-2zM592 1097.5h2v9.5h-2zM594 1040.5h2v5h-2zM594 1048h2v5h-2zM594 1060.5h2v2.5h-2zM596 1091.5h2v6h-2zM598 1107h2v15h-2zM612 1097.5h2v9.5h-2zM622 983h2v2.5h-2zM626 983h2v2.5h-2zM642 1097.5h2v9.5h-2zM650 980.5h2v2.5h-2zM652 980.5h2v2.5h-2zM654 1068.5h2v3.5h-2zM654 1097.5h2v9.5h-2zM660 983h2v2.5h-2zM662 1097.5h2v24.5h-2zM664 980.5h2v2.5h-2zM664 1107h2v15h-2zM666 1097.5h2v9.5h-2zM668 1107h2v15h-2zM670 1107h2v15h-2zM674 1107h2v15h-2zM676 1097.5h2v9.5h-2zM678 1107h2v15h-2zM684 983h2v2.5h-2zM688 1107h2v15h-2zM724 1097.5h2v9.5h-2zM726 1097.5h2v9.5h-2zM766 1107h2v15h-2zM770 1097.5h2v9.5h-2zM776 1097.5h2v9.5h-2zM778 1097.5h2v9.5h-2zM790 1097.5h2v9.5h-2zM804 1091.5h2v6h-2zM810 1091.5h2v6h-2zM812 1107h2v15h-2zM814 1086h2v5.5h-2zM816 1097.5h2v9.5h-2zM818 1091.5h2v6h-2zM820 1063h2v2.5h-2zM822 1076h2v4.5h-2zM824 1065.5h2v6.5h-2zM826 1072h2v14h-2zM830 1097.5h2v9.5h-2zM832 1097.5h2v9.5h-2zM834 1086h2v5.5h-2zM838 1091.5h2v6h-2zM840 1086h2v5.5h-2zM846 1091.5h2v6h-2zM850 1097.5h2v9.5h-2zM852 1091.5h2v6h-2zM854 1097.5h2v9.5h-2zM856 1080.5h2v5.5h-2zM860 1072h2v4h-2zM862 1065.5h2v6.5h-2zM864 1065.5h2v3h-2zM864 1086h2v5.5h-2zM866 1072h2v8.5h-2zM870 1080.5h2v11h-2zM872 1080.5h2v5.5h-2zM878 1065.5h2v6.5h-2zM880 1048h2v2.5h-2zM884 1063h2v2.5h-2zM886 1068.5h2v12h-2zM888 1023h2v2.5h-2zM890 1097.5h2v9.5h-2zM892 1013h2v2.5h-2zM892 1063h2v2.5h-2zM892 1072h2v4h-2zM894 1045.5h2v2.5h-2zM894 1068.5h2v12h-2zM898 1058h2v2.5h-2zM900 1043h2v2.5h-2zM900 1050.5h2v2.5h-2zM900 1055.5h2v2.5h-2zM902 1040.5h2v5h-2zM906 1065.5h2v6.5h-2zM908 1060.5h2v2.5h-2zM908 1065.5h2v10.5h-2zM910 1063h2v5.5h-2zM910 1076h2v4.5h-2zM912 1065.5h2v3h-2zM912 1072h2v8.5h-2zM914 1055.5h2v5h-2zM914 1063h2v9h-2zM914 1076h2v4.5h-2zM918 1055.5h2v2.5h-2zM918 1063h2v2.5h-2zM920 1053h2v2.5h-2zM922 998h2v2.5h-2zM922 1040.5h2v2.5h-2zM922 1053h2v2.5h-2zM924 1065.5h2v3h-2zM926 1068.5h2v7.5h-2zM928 1063h2v17.5h-2zM930 1065.5h2v3h-2zM932 1065.5h2v10.5h-2zM934 1050.5h2v2.5h-2zM934 1072h2v14h-2zM938 1097.5h2v9.5h-2zM940 1086h2v11.5h-2zM942 1050.5h2v2.5h-2zM944 1080.5h2v11h-2zM946 1076h2v10h-2zM948 1107h2v15h-2zM950 1091.5h2v6h-2zM952 1060.5h2v2.5h-2zM952 1091.5h2v6h-2zM954 1076h2v4.5h-2zM956 1086h2v5.5h-2zM958 1072h2v4h-2zM962 1076h2v4.5h-2zM964 1097.5h2v9.5h-2zM970 1107h2v15h-2zM972 1091.5h2v6h-2zM974 1097.5h2v9.5h-2zM976 1076h2v10h-2zM978 1068.5h2v3.5h-2zM978 1091.5h2v6h-2zM980 1091.5h2v6h-2zM984 1072h2v8.5h-2zM986 1086h2v5.5h-2zM988 1068.5h2v3.5h-2zM988 1076h2v4.5h-2zM990 1080.5h2v11h-2zM1000 1107h2v15h-2zM1004 1107h2v15h-2zM1010 1097.5h2v9.5h-2zM1016 1097.5h2v9.5h-2zM1034 1086h2v5.5h-2zM1036 1086h2v5.5h-2zM1038 1091.5h2v6h-2zM1042 1097.5h2v9.5h-2zM1044 1086h2v5.5h-2zM1048 1097.5h2v9.5h-2zM1050 1097.5h2v9.5h-2zM1052 1107h2v15h-2zM1054 1091.5h2v6h-2zM1056 1107h2v15h-2zM1060 1091.5h2v6h-2zM1062 1086h2v5.5h-2zM1064 1107h2v15h-2zM1066 1097.5h2v9.5h-2zM1068 1107h2v15h-2zM1070 1107h2v15h-2zM1072 1097.5h2v9.5h-2zM1074 1097.5h2v9.5h-2zM1076 1076h2v4.5h-2zM1076 1097.5h2v9.5h-2zM1080 1097.5h2v9.5h-2zM1082 1086h2v11.5h-2zM1084 1080.5h2v5.5h-2zM1084 1091.5h2v6h-2zM1086 1107h2v15h-2zM1088 1091.5h2v6h-2zM1094 1091.5h2v6h-2zM1096 1107h2v15h-2zM1098 1076h2v4.5h-2zM1098 1097.5h2v9.5h-2zM1102 1097.5h2v9.5h-2zM1106 1080.5h2v5.5h-2zM1108 1076h2v10h-2zM1110 1091.5h2v6h-2zM1114 1097.5h2v9.5h-2zM1118 1091.5h2v6h-2zM1128 1076h2v4.5h-2zM1130 1048h2v2.5h-2zM1130 1060.5h2v2.5h-2zM1132 1025.5h2v2.5h-2zM1132 1033h2v7.5h-2zM1134 1015.5h2v2.5h-2zM1138 975.5h2v5h-2zM1138 988h2v2.5h-2zM1140 1000.5h2v2.5h-2zM1140 1018h2v5h-2zM1142 1053h2v2.5h-2zM1144 1043h2v2.5h-2zM1144 1048h2v5h-2zM1144 1060.5h2v2.5h-2zM1146 1043h2v2.5h-2zM1148 1060.5h2v2.5h-2zM1148 1065.5h2v6.5h-2zM1150 1068.5h2v3.5h-2zM1150 1086h2v5.5h-2zM1152 1072h2v19.5h-2zM1154 1065.5h2v3h-2zM1154 1072h2v4h-2zM1156 1068.5h2v7.5h-2zM1156 1086h2v5.5h-2zM1158 1060.5h2v2.5h-2zM1160 1015.5h2v2.5h-2zM1160 1023h2v5h-2zM1162 1015.5h2v2.5h-2zM1162 1028h2v2.5h-2zM1162 1038h2v2.5h-2zM1170 990.5h2v2.5h-2zM1174 980.5h2v2.5h-2zM1174 993h2v2.5h-2zM1176 1000.5h2v2.5h-2zM1176 1005.5h2v2.5h-2zM1176 1015.5h2v2.5h-2zM1178 1020.5h2v5h-2zM1180 1028h2v2.5h-2zM1180 1033h2v5h-2zM1182 1015.5h2v5h-2zM1182 1025.5h2v2.5h-2zM1182 1035.5h2v2.5h-2zM1184 1045.5h2v2.5h-2zM1184 1050.5h2v5h-2zM1188 1091.5h2v6h-2zM1298 1107h2v15h-2zM1302 1091.5h2v6h-2zM1304 1097.5h2v9.5h-2zM1306 1097.5h2v24.5h-2zM1312 1063h2v2.5h-2zM1312 1086h2v11.5h-2zM1314 1097.5h2v9.5h-2zM1316 1091.5h2v6h-2zM1318 1086h2v11.5h-2zM1320 1086h2v5.5h-2zM1322 1097.5h2v9.5h-2zM1328 1091.5h2v6h-2zM1330 1097.5h2v9.5h-2zM1332 1107h2v15h-2zM1334 1097.5h2v9.5h-2zM1340 1097.5h2v9.5h-2z"/><path fill="#0066ff" d="M562 1097.5h2v9.5h-2zM566 1107h2v15h-2zM592 1107h2v15h-2zM594 1068.5h2v3.5h-2zM594 1076h2v4.5h-2zM658 1107h2v15h-2zM660 1107h2v15h-2zM672 1107h2v15h-2zM676 1107h2v15h-2zM680 1107h2v15h-2zM682 1107h2v15h-2zM684 1107h2v15h-2zM704 1107h2v15h-2zM726 1107h2v15h-2zM770 1107h2v15h-2zM818 1097.5h2v9.5h-2zM822 1080.5h2v5.5h-2zM826 1086h2v11.5h-2zM830 1107h2v15h-2zM832 1107h2v15h-2zM838 1107h2v15h-2zM848 1091.5h2v6h-2zM858 1080.5h2v5.5h-2zM862 1076h2v10h-2zM864 1091.5h2v6h-2zM866 1086h2v5.5h-2zM868 1097.5h2v9.5h-2zM870 1097.5h2v9.5h-2zM874 1097.5h2v9.5h-2zM878 1080.5h2v5.5h-2zM880 1058h2v2.5h-2zM880 1063h2v2.5h-2zM880 1068.5h2v3.5h-2zM882 1065.5h2v3h-2zM884 1065.5h2v6.5h-2zM886 1080.5h2v5.5h-2zM888 1091.5h2v6h-2zM892 1086h2v5.5h-2zM894 1080.5h2v5.5h-2zM896 1076h2v15.5h-2zM898 1065.5h2v10.5h-2zM898 1080.5h2v5.5h-2zM900 1060.5h2v2.5h-2zM902 1050.5h2v2.5h-2zM902 1060.5h2v2.5h-2zM902 1065.5h2v3h-2zM904 1060.5h2v2.5h-2zM908 1080.5h2v5.5h-2zM910 1080.5h2v11h-2zM912 1080.5h2v5.5h-2zM914 1080.5h2v5.5h-2zM916 1086h2v5.5h-2zM920 1058h2v2.5h-2zM922 1055.5h2v5h-2zM924 1072h2v4h-2zM930 1080.5h2v5.5h-2zM932 1080.5h2v5.5h-2zM932 1091.5h2v6h-2zM934 1086h2v5.5h-2zM940 1097.5h2v9.5h-2zM946 1086h2v11.5h-2zM950 1097.5h2v9.5h-2zM954 1086h2v5.5h-2zM956 1091.5h2v15.5h-2zM958 1080.5h2v11h-2zM962 1086h2v11.5h-2zM966 1107h2v15h-2zM976 1086h2v5.5h-2zM980 1097.5h2v9.5h-2zM982 1080.5h2v5.5h-2zM984 1080.5h2v5.5h-2zM988 1086h2v11.5h-2zM992 1091.5h2v6h-2zM1010 1107h2v15h-2zM1016 1107h2v15h-2zM1024 1107h2v15h-2zM1026 1107h2v15h-2zM1034 1097.5h2v9.5h-2zM1038 1097.5h2v9.5h-2zM1042 1107h2v15h-2zM1044 1097.5h2v9.5h-2zM1046 1097.5h2v9.5h-2zM1058 1107h2v15h-2zM1060 1097.5h2v9.5h-2zM1072 1107h2v15h-2zM1076 1107h2v15h-2zM1078 1091.5h2v15.5h-2zM1080 1107h2v15h-2zM1088 1097.5h2v9.5h-2zM1102 1091.5h2v6h-2zM1108 1091.5h2v6h-2zM1110 1097.5h2v9.5h-2zM1112 1107h2v15h-2zM1118 1097.5h2v9.5h-2zM1130 1076h2v4.5h-2zM1132 1030.5h2v2.5h-2zM1134 1010.5h2v2.5h-2zM1134 1025.5h2v5h-2zM1134 1038h2v2.5h-2zM1136 978h2v2.5h-2zM1136 985.5h2v2.5h-2zM1136 1005.5h2v2.5h-2zM1136 1035.5h2v2.5h-2zM1138 998h2v2.5h-2zM1138 1015.5h2v2.5h-2zM1140 1008h2v2.5h-2zM1140 1013h2v2.5h-2zM1140 1053h2v2.5h-2zM1142 1040.5h2v2.5h-2zM1144 1065.5h2v6.5h-2zM1144 1076h2v4.5h-2zM1146 1058h2v2.5h-2zM1146 1065.5h2v3h-2zM1148 1080.5h2v5.5h-2zM1150 1097.5h2v9.5h-2zM1154 1076h2v4.5h-2zM1154 1086h2v5.5h-2zM1156 1091.5h2v6h-2zM1158 1063h2v2.5h-2zM1160 1028h2v2.5h-2zM1160 1033h2v2.5h-2zM1160 1038h2v2.5h-2zM1160 1048h2v2.5h-2zM1160 1055.5h2v2.5h-2zM1162 1040.5h2v2.5h-2zM1164 1040.5h2v2.5h-2zM1168 1005.5h2v5h-2zM1168 1013h2v2.5h-2zM1168 1020.5h2v2.5h-2zM1170 988h2v2.5h-2zM1172 995.5h2v2.5h-2zM1174 1018h2v2.5h-2zM1178 1025.5h2v2.5h-2zM1178 1038h2v2.5h-2zM1182 1030.5h2v2.5h-2zM1182 1038h2v2.5h-2zM1182 1045.5h2v2.5h-2zM1184 1060.5h2v5h-2zM1186 1086h2v5.5h-2zM1302 1097.5h2v9.5h-2zM1312 1097.5h2v9.5h-2zM1342 1097.5h2v9.5h-2z"/><path fill="#00ccff" d="M562 1107h2v15h-2zM564 1107h2v15h-2zM804 1107h2v15h-2zM810 1107h2v15h-2zM820 1107h2v15h-2zM828 1097.5h2v9.5h-2zM856 1097.5h2v9.5h-2zM862 1091.5h2v6h-2zM864 1107h2v15h-2zM868 1107h2v15h-2zM870 1107h2v15h-2zM872 1107h2v15h-2zM880 1080.5h2v5.5h-2zM882 1076h2v4.5h-2zM886 1091.5h2v6h-2zM900 1072h2v4h-2zM900 1086h2v5.5h-2zM902 1072h2v4h-2zM902 1080.5h2v5.5h-2zM904 1086h2v5.5h-2zM914 1097.5h2v9.5h-2zM918 1091.5h2v6h-2zM920 1091.5h2v6h-2zM922 1080.5h2v5.5h-2zM924 1080.5h2v11h-2zM934 1097.5h2v9.5h-2zM946 1097.5h2v9.5h-2zM958 1097.5h2v9.5h-2zM986 1107h2v15h-2zM988 1097.5h2v9.5h-2zM990 1107h2v15h-2zM992 1107h2v15h-2zM1028 1107h2v15h-2zM1044 1107h2v15h-2zM1082 1107h2v15h-2zM1084 1107h2v15h-2zM1118 1107h2v15h-2zM1128 1097.5h2v9.5h-2zM1130 1080.5h2v5.5h-2zM1132 1086h2v5.5h-2zM1134 1030.5h2v5h-2zM1134 1043h2v2.5h-2zM1134 1055.5h2v2.5h-2zM1136 1025.5h2v5h-2zM1136 1033h2v2.5h-2zM1136 1045.5h2v2.5h-2zM1136 1065.5h2v3h-2zM1138 1040.5h2v2.5h-2zM1138 1058h2v2.5h-2zM1140 1038h2v2.5h-2zM1140 1045.5h2v2.5h-2zM1142 1058h2v2.5h-2zM1144 1086h2v5.5h-2zM1160 1065.5h2v3h-2zM1166 1043h2v2.5h-2zM1168 1018h2v2.5h-2zM1170 1023h2v2.5h-2zM1170 1028h2v2.5h-2zM1170 1053h2v2.5h-2zM1172 970.5h2v2.5h-2zM1172 980.5h2v2.5h-2zM1172 985.5h2v2.5h-2zM1172 993h2v2.5h-2zM1172 1023h2v2.5h-2zM1172 1028h2v2.5h-2zM1172 1035.5h2v5h-2zM1174 1003h2v5h-2zM1174 1035.5h2v2.5h-2zM1176 1018h2v7.5h-2zM1176 1028h2v2.5h-2zM1178 1060.5h2v2.5h-2zM1180 1048h2v2.5h-2zM1180 1060.5h2v2.5h-2zM1184 1068.5h2v3.5h-2zM1188 1107h2v15h-2zM1310 1107h2v15h-2zM1314 1107h2v15h-2zM1318 1107h2v15h-2zM1320 1107h2v15h-2z"/><path fill="#00e5ff" d="M572 1107h2v15h-2zM594 1107h2v15h-2zM822 1097.5h2v9.5h-2zM858 1097.5h2v9.5h-2zM866 1097.5h2v9.5h-2zM880 1086h2v11.5h-2zM884 1086h2v5.5h-2zM886 1097.5h2v9.5h-2zM888 1097.5h2v9.5h-2zM896 1097.5h2v9.5h-2zM904 1072h2v4h-2zM908 1091.5h2v6h-2zM918 1086h2v5.5h-2zM920 1080.5h2v5.5h-2zM922 1072h2v4h-2zM922 1086h2v5.5h-2zM928 1097.5h2v9.5h-2zM942 1107h2v15h-2zM958 1107h2v15h-2zM984 1097.5h2v24.5h-2zM1038 1107h2v15h-2zM1040 1107h2v15h-2zM1062 1107h2v15h-2zM1104 1107h2v15h-2zM1130 1097.5h2v9.5h-2zM1132 1063h2v2.5h-2zM1132 1091.5h2v6h-2zM1134 1035.5h2v2.5h-2zM1134 1045.5h2v2.5h-2zM1134 1063h2v2.5h-2zM1136 1003h2v2.5h-2zM1136 1010.5h2v2.5h-2zM1136 1043h2v2.5h-2zM1136 1053h2v2.5h-2zM1138 1018h2v2.5h-2zM1138 1035.5h2v2.5h-2zM1138 1060.5h2v2.5h-2zM1138 1076h2v4.5h-2zM1138 1086h2v5.5h-2zM1140 1086h2v5.5h-2zM1142 1063h2v2.5h-2zM1142 1072h2v8.5h-2zM1144 1097.5h2v24.5h-2zM1146 1080.5h2v5.5h-2zM1150 1107h2v15h-2zM1154 1097.5h2v24.5h-2zM1160 1063h2v2.5h-2zM1162 1055.5h2v2.5h-2zM1162 1060.5h2v2.5h-2zM1164 1065.5h2v3h-2zM1166 1058h2v2.5h-2zM1168 1028h2v2.5h-2zM1168 1033h2v2.5h-2zM1170 1038h2v2.5h-2zM1172 983h2v2.5h-2zM1172 990.5h2v2.5h-2zM1172 1013h2v2.5h-2zM1174 1008h2v2.5h-2zM1174 1023h2v2.5h-2zM1174 1038h2v2.5h-2zM1176 1010.5h2v2.5h-2zM1176 1045.5h2v2.5h-2zM1176 1055.5h2v2.5h-2zM1178 1045.5h2v2.5h-2zM1180 1050.5h2v5h-2zM1180 1058h2v2.5h-2zM1184 1072h2v4h-2z"/><path fill="#004dff" d="M578 1097.5h2v9.5h-2zM586 1097.5h2v9.5h-2zM594 1058h2v2.5h-2zM594 1063h2v5.5h-2zM594 1072h2v4h-2zM594 1091.5h2v6h-2zM596 1097.5h2v9.5h-2zM620 1107h2v15h-2zM630 983h2v2.5h-2zM632 980.5h2v2.5h-2zM638 980.5h2v2.5h-2zM642 980.5h2v2.5h-2zM646 980.5h2v2.5h-2zM648 1107h2v15h-2zM650 983h2v2.5h-2zM656 980.5h2v5h-2zM658 980.5h2v2.5h-2zM666 980.5h2v2.5h-2zM668 980.5h2v2.5h-2zM678 983h2v2.5h-2zM684 980.5h2v2.5h-2zM710 1097.5h2v9.5h-2zM760 1107h2v15h-2zM804 1097.5h2v9.5h-2zM810 1097.5h2v9.5h-2zM814 1091.5h2v15.5h-2zM818 1086h2v5.5h-2zM824 1072h2v14h-2zM828 1080.5h2v11h-2zM834 1097.5h2v9.5h-2zM836 1097.5h2v9.5h-2zM838 1097.5h2v9.5h-2zM842 1107h2v15h-2zM846 1097.5h2v9.5h-2zM848 1086h2v5.5h-2zM850 1107h2v15h-2zM856 1086h2v5.5h-2zM858 1076h2v4.5h-2zM858 1086h2v5.5h-2zM860 1076h2v10h-2zM862 1072h2v4h-2zM864 1080.5h2v5.5h-2zM866 1080.5h2v5.5h-2zM870 1091.5h2v6h-2zM872 1086h2v11.5h-2zM876 1072h2v4h-2zM876 1080.5h2v5.5h-2zM878 1072h2v4h-2zM880 1050.5h2v7.5h-2zM880 1060.5h2v2.5h-2zM882 1048h2v2.5h-2zM882 1053h2v7.5h-2zM888 1076h2v10h-2zM892 1068.5h2v3.5h-2zM892 1076h2v10h-2zM896 1072h2v4h-2zM898 1060.5h2v5h-2zM900 1045.5h2v5h-2zM900 1053h2v2.5h-2zM900 1058h2v2.5h-2zM904 1055.5h2v5h-2zM908 1076h2v4.5h-2zM910 1072h2v4h-2zM912 1063h2v2.5h-2zM914 1072h2v4h-2zM914 1086h2v5.5h-2zM918 1065.5h2v3h-2zM920 1055.5h2v2.5h-2zM920 1060.5h2v2.5h-2zM924 1068.5h2v3.5h-2zM926 1076h2v4.5h-2zM928 1080.5h2v5.5h-2zM930 1068.5h2v12h-2zM932 1076h2v4.5h-2zM936 1107h2v15h-2zM938 1107h2v15h-2zM942 1086h2v11.5h-2zM944 1065.5h2v3h-2zM944 1091.5h2v6h-2zM954 1080.5h2v5.5h-2zM958 1076h2v4.5h-2zM960 1086h2v5.5h-2zM962 1080.5h2v5.5h-2zM966 1097.5h2v9.5h-2zM968 1107h2v15h-2zM972 1097.5h2v9.5h-2zM974 1107h2v15h-2zM976 1091.5h2v6h-2zM982 1068.5h2v12h-2zM984 1068.5h2v3.5h-2zM988 1080.5h2v5.5h-2zM990 1091.5h2v6h-2zM994 1097.5h2v24.5h-2zM1002 1097.5h2v9.5h-2zM1006 1107h2v15h-2zM1008 1107h2v15h-2zM1010 1086h2v5.5h-2zM1012 1097.5h2v9.5h-2zM1018 1091.5h2v15.5h-2zM1020 1107h2v15h-2zM1026 1097.5h2v9.5h-2zM1028 1091.5h2v6h-2zM1030 1097.5h2v9.5h-2zM1032 1097.5h2v9.5h-2zM1036 1091.5h2v6h-2zM1040 1086h2v11.5h-2zM1044 1091.5h2v6h-2zM1046 998h2v2.5h-2zM1046 1091.5h2v6h-2zM1054 1097.5h2v9.5h-2zM1058 1097.5h2v9.5h-2zM1062 1091.5h2v6h-2zM1076 1086h2v5.5h-2zM1088 998h2v2.5h-2zM1090 1107h2v15h-2zM1092 1097.5h2v9.5h-2zM1100 1097.5h2v24.5h-2zM1106 1086h2v11.5h-2zM1108 1086h2v5.5h-2zM1116 1097.5h2v9.5h-2zM1120 1097.5h2v9.5h-2zM1126 1091.5h2v6h-2zM1128 1080.5h2v5.5h-2zM1130 1050.5h2v2.5h-2zM1130 1058h2v2.5h-2zM1130 1065.5h2v3h-2zM1132 1043h2v2.5h-2zM1134 1008h2v2.5h-2zM1138 983h2v2.5h-2zM1138 990.5h2v2.5h-2zM1138 1003h2v2.5h-2zM1140 1005.5h2v2.5h-2zM1140 1023h2v2.5h-2zM1140 1040.5h2v2.5h-2zM1142 1033h2v5h-2zM1142 1048h2v2.5h-2zM1142 1055.5h2v2.5h-2zM1144 1055.5h2v5h-2zM1146 1063h2v2.5h-2zM1148 1072h2v8.5h-2zM1150 1091.5h2v6h-2zM1154 1068.5h2v3.5h-2zM1154 1080.5h2v5.5h-2zM1158 1058h2v2.5h-2zM1158 1065.5h2v6.5h-2zM1160 1030.5h2v2.5h-2zM1160 1035.5h2v2.5h-2zM1160 1040.5h2v2.5h-2zM1162 1013h2v2.5h-2zM1162 1025.5h2v2.5h-2zM1162 1030.5h2v5h-2zM1164 1038h2v2.5h-2zM1166 1020.5h2v5h-2zM1166 1030.5h2v5h-2zM1168 1003h2v2.5h-2zM1170 980.5h2v2.5h-2zM1170 998h2v2.5h-2zM1174 995.5h2v2.5h-2zM1174 1000.5h2v2.5h-2zM1174 1013h2v2.5h-2zM1176 1013h2v2.5h-2zM1178 1018h2v2.5h-2zM1178 1030.5h2v2.5h-2zM1182 1020.5h2v5h-2zM1182 1028h2v2.5h-2zM1182 1033h2v2.5h-2zM1182 1040.5h2v2.5h-2zM1182 1048h2v2.5h-2zM1184 1055.5h2v2.5h-2zM1188 1097.5h2v9.5h-2zM1300 1091.5h2v6h-2zM1302 1080.5h2v5.5h-2zM1308 1107h2v15h-2zM1316 1097.5h2v9.5h-2zM1318 1097.5h2v9.5h-2zM1320 1091.5h2v15.5h-2zM1324 1107h2v15h-2zM1326 1097.5h2v9.5h-2zM1328 1097.5h2v9.5h-2zM1334 1107h2v15h-2zM1336 1107h2v15h-2zM1338 1107h2v15h-2zM1342 1107h2v15h-2z"/><path fill="#00b3ff" d="M578 1107h2v15h-2zM586 1107h2v15h-2zM596 1107h2v15h-2zM724 1107h2v15h-2zM776 1107h2v15h-2zM822 1091.5h2v6h-2zM860 1097.5h2v9.5h-2zM862 1086h2v5.5h-2zM862 1097.5h2v9.5h-2zM864 1097.5h2v9.5h-2zM876 1091.5h2v15.5h-2zM882 1068.5h2v3.5h-2zM884 1080.5h2v5.5h-2zM892 1097.5h2v9.5h-2zM894 1091.5h2v6h-2zM896 1091.5h2v6h-2zM898 1091.5h2v6h-2zM900 1080.5h2v5.5h-2zM902 1086h2v11.5h-2zM904 1076h2v4.5h-2zM906 1080.5h2v11h-2zM910 1097.5h2v9.5h-2zM912 1097.5h2v9.5h-2zM918 1076h2v4.5h-2zM920 1065.5h2v3h-2zM920 1076h2v4.5h-2zM920 1086h2v5.5h-2zM922 1068.5h2v3.5h-2zM924 1076h2v4.5h-2zM924 1091.5h2v6h-2zM926 1091.5h2v6h-2zM930 1091.5h2v15.5h-2zM940 1107h2v15h-2zM942 1097.5h2v9.5h-2zM944 1107h2v15h-2zM952 1107h2v15h-2zM954 1091.5h2v6h-2zM962 1097.5h2v9.5h-2zM964 1107h2v15h-2zM972 1107h2v15h-2zM976 1107h2v15h-2zM978 1107h2v15h-2zM982 1091.5h2v15.5h-2zM1014 1107h2v15h-2zM1018 1107h2v15h-2zM1030 1107h2v15h-2zM1034 1107h2v15h-2zM1036 1107h2v15h-2zM1046 1107h2v15h-2zM1060 1107h2v15h-2zM1088 1107h2v15h-2zM1092 1107h2v15h-2zM1094 1107h2v15h-2zM1102 1107h2v15h-2zM1104 1097.5h2v9.5h-2zM1108 1097.5h2v9.5h-2zM1128 1091.5h2v6h-2zM1132 1053h2v2.5h-2zM1132 1065.5h2v6.5h-2zM1134 1023h2v2.5h-2zM1136 1013h2v2.5h-2zM1138 993h2v2.5h-2zM1138 1010.5h2v2.5h-2zM1138 1038h2v2.5h-2zM1140 1025.5h2v2.5h-2zM1140 1033h2v2.5h-2zM1140 1050.5h2v2.5h-2zM1140 1063h2v5.5h-2zM1142 1043h2v5h-2zM1142 1086h2v5.5h-2zM1146 1076h2v4.5h-2zM1148 1091.5h2v6h-2zM1152 1107h2v15h-2zM1154 1091.5h2v6h-2zM1156 1097.5h2v9.5h-2zM1158 1076h2v10h-2zM1160 1045.5h2v2.5h-2zM1160 1050.5h2v2.5h-2zM1162 1050.5h2v5h-2zM1162 1058h2v2.5h-2zM1164 1045.5h2v5h-2zM1164 1055.5h2v2.5h-2zM1166 1045.5h2v2.5h-2zM1166 1053h2v2.5h-2zM1168 1010.5h2v2.5h-2zM1168 1025.5h2v2.5h-2zM1168 1048h2v2.5h-2zM1168 1055.5h2v2.5h-2zM1170 995.5h2v2.5h-2zM1170 1000.5h2v2.5h-2zM1170 1005.5h2v5h-2zM1170 1013h2v5h-2zM1172 988h2v2.5h-2zM1172 1003h2v2.5h-2zM1172 1010.5h2v2.5h-2zM1174 998h2v2.5h-2zM1176 1040.5h2v2.5h-2zM1178 1035.5h2v2.5h-2zM1178 1040.5h2v2.5h-2zM1178 1048h2v2.5h-2zM1178 1055.5h2v2.5h-2zM1180 1045.5h2v2.5h-2zM1182 1055.5h2v2.5h-2zM1310 1097.5h2v9.5h-2zM1312 1107h2v15h-2zM1326 1107h2v15h-2zM1330 1107h2v15h-2z"/><path fill="#0099ff" d="M588 1107h2v15h-2zM612 1107h2v15h-2zM642 1107h2v15h-2zM654 1107h2v15h-2zM710 1107h2v15h-2zM778 1107h2v15h-2zM790 1107h2v15h-2zM818 1107h2v15h-2zM820 1097.5h2v9.5h-2zM824 1091.5h2v6h-2zM826 1097.5h2v24.5h-2zM828 1091.5h2v6h-2zM836 1107h2v15h-2zM840 1097.5h2v9.5h-2zM848 1097.5h2v9.5h-2zM852 1107h2v15h-2zM854 1107h2v15h-2zM858 1091.5h2v6h-2zM866 1091.5h2v6h-2zM874 1107h2v15h-2zM878 1086h2v5.5h-2zM880 1065.5h2v3h-2zM882 1072h2v4h-2zM884 1072h2v8.5h-2zM886 1086h2v5.5h-2zM892 1091.5h2v6h-2zM894 1086h2v5.5h-2zM898 1086h2v5.5h-2zM900 1063h2v2.5h-2zM900 1076h2v4.5h-2zM902 1053h2v2.5h-2zM902 1076h2v4.5h-2zM908 1086h2v5.5h-2zM912 1091.5h2v6h-2zM914 1091.5h2v6h-2zM916 1097.5h2v9.5h-2zM918 1080.5h2v5.5h-2zM920 1068.5h2v7.5h-2zM922 1063h2v5.5h-2zM930 1086h2v5.5h-2zM932 1097.5h2v9.5h-2zM934 1091.5h2v6h-2zM956 1107h2v15h-2zM958 1091.5h2v6h-2zM980 1107h2v15h-2zM986 1097.5h2v9.5h-2zM1032 1107h2v15h-2zM1048 1107h2v15h-2zM1050 1107h2v15h-2zM1054 1107h2v15h-2zM1062 1097.5h2v9.5h-2zM1098 1107h2v15h-2zM1110 1107h2v15h-2zM1126 1097.5h2v9.5h-2zM1130 1063h2v2.5h-2zM1130 1068.5h2v7.5h-2zM1130 1091.5h2v6h-2zM1132 1048h2v2.5h-2zM1132 1055.5h2v2.5h-2zM1132 1076h2v10h-2zM1134 1013h2v2.5h-2zM1134 1018h2v2.5h-2zM1134 1050.5h2v5h-2zM1136 983h2v2.5h-2zM1136 995.5h2v2.5h-2zM1136 1000.5h2v2.5h-2zM1136 1018h2v5h-2zM1136 1055.5h2v2.5h-2zM1138 995.5h2v2.5h-2zM1138 1005.5h2v5h-2zM1138 1025.5h2v2.5h-2zM1138 1053h2v2.5h-2zM1140 1028h2v2.5h-2zM1140 1060.5h2v2.5h-2zM1142 1038h2v2.5h-2zM1142 1060.5h2v2.5h-2zM1142 1065.5h2v6.5h-2zM1142 1080.5h2v5.5h-2zM1144 1072h2v4h-2zM1158 1072h2v4h-2zM1160 1053h2v2.5h-2zM1160 1058h2v5h-2zM1162 1043h2v5h-2zM1164 1043h2v2.5h-2zM1164 1053h2v2.5h-2zM1166 1035.5h2v7.5h-2zM1166 1048h2v2.5h-2zM1168 1015.5h2v2.5h-2zM1168 1030.5h2v2.5h-2zM1168 1040.5h2v5h-2zM1170 1003h2v2.5h-2zM1170 1030.5h2v2.5h-2zM1174 990.5h2v2.5h-2zM1174 1010.5h2v2.5h-2zM1174 1025.5h2v2.5h-2zM1176 1033h2v2.5h-2zM1178 1033h2v2.5h-2zM1178 1043h2v2.5h-2zM1178 1050.5h2v2.5h-2zM1178 1058h2v2.5h-2zM1180 1040.5h2v5h-2zM1182 1060.5h2v2.5h-2zM1300 1107h2v15h-2zM1328 1107h2v15h-2z"/><path fill="#0080ff" d="M594 1080.5h2v11h-2zM594 1097.5h2v9.5h-2zM666 1107h2v15h-2zM816 1107h2v15h-2zM822 1086h2v5.5h-2zM824 1086h2v5.5h-2zM834 1107h2v15h-2zM840 1107h2v15h-2zM846 1107h2v15h-2zM856 1091.5h2v6h-2zM860 1086h2v11.5h-2zM872 1097.5h2v9.5h-2zM876 1086h2v5.5h-2zM878 1076h2v4.5h-2zM880 1072h2v8.5h-2zM882 1060.5h2v5h-2zM882 1080.5h2v5.5h-2zM888 1086h2v5.5h-2zM890 1107h2v15h-2zM898 1076h2v4.5h-2zM900 1065.5h2v6.5h-2zM902 1055.5h2v5h-2zM902 1063h2v2.5h-2zM902 1068.5h2v3.5h-2zM904 1063h2v9h-2zM906 1072h2v8.5h-2zM910 1091.5h2v6h-2zM912 1086h2v5.5h-2zM916 1091.5h2v6h-2zM918 1068.5h2v7.5h-2zM920 1063h2v2.5h-2zM922 1060.5h2v2.5h-2zM926 1080.5h2v11h-2zM928 1086h2v11.5h-2zM932 1086h2v5.5h-2zM944 1097.5h2v9.5h-2zM950 1107h2v15h-2zM952 1097.5h2v9.5h-2zM960 1091.5h2v15.5h-2zM976 1097.5h2v9.5h-2zM978 1097.5h2v9.5h-2zM982 1086h2v5.5h-2zM984 1086h2v11.5h-2zM986 1091.5h2v6h-2zM990 1097.5h2v9.5h-2zM992 1086h2v5.5h-2zM992 1097.5h2v9.5h-2zM1002 1107h2v15h-2zM1012 1107h2v15h-2zM1028 1097.5h2v9.5h-2zM1036 1097.5h2v9.5h-2zM1040 1097.5h2v9.5h-2zM1066 1107h2v15h-2zM1074 1107h2v15h-2zM1082 1097.5h2v9.5h-2zM1084 1097.5h2v9.5h-2zM1094 1097.5h2v9.5h-2zM1104 1091.5h2v6h-2zM1106 1097.5h2v9.5h-2zM1114 1107h2v15h-2zM1116 1107h2v15h-2zM1120 1107h2v15h-2zM1128 1086h2v5.5h-2zM1130 1086h2v5.5h-2zM1132 1040.5h2v2.5h-2zM1132 1045.5h2v2.5h-2zM1132 1050.5h2v2.5h-2zM1132 1058h2v5h-2zM1134 1020.5h2v2.5h-2zM1136 980.5h2v2.5h-2zM1136 990.5h2v5h-2zM1136 998h2v2.5h-2zM1136 1023h2v2.5h-2zM1138 985.5h2v2.5h-2zM1138 1000.5h2v2.5h-2zM1138 1013h2v2.5h-2zM1138 1020.5h2v5h-2zM1138 1055.5h2v2.5h-2zM1140 1010.5h2v2.5h-2zM1140 1015.5h2v2.5h-2zM1140 1030.5h2v2.5h-2zM1140 1035.5h2v2.5h-2zM1140 1058h2v2.5h-2zM1142 1030.5h2v2.5h-2zM1142 1050.5h2v2.5h-2zM1144 1063h2v2.5h-2zM1144 1080.5h2v5.5h-2zM1146 1068.5h2v7.5h-2zM1148 1086h2v5.5h-2zM1152 1091.5h2v15.5h-2zM1160 1043h2v2.5h-2zM1162 1035.5h2v2.5h-2zM1162 1048h2v2.5h-2zM1164 1050.5h2v2.5h-2zM1166 1025.5h2v5h-2zM1166 1050.5h2v2.5h-2zM1168 1023h2v2.5h-2zM1168 1038h2v2.5h-2zM1170 993h2v2.5h-2zM1170 1010.5h2v2.5h-2zM1170 1018h2v2.5h-2zM1170 1025.5h2v2.5h-2zM1172 973h2v7.5h-2zM1174 985.5h2v5h-2zM1174 1015.5h2v2.5h-2zM1176 1025.5h2v2.5h-2zM1178 1028h2v2.5h-2zM1178 1053h2v2.5h-2zM1180 1038h2v2.5h-2zM1182 1043h2v2.5h-2zM1182 1050.5h2v5h-2zM1184 1058h2v2.5h-2zM1184 1065.5h2v3h-2zM1186 1091.5h2v6h-2zM1300 1097.5h2v9.5h-2zM1302 1107h2v15h-2zM1304 1107h2v15h-2zM1316 1107h2v15h-2zM1322 1107h2v15h-2zM1340 1107h2v15h-2z"/><path fill="#00ffff" d="M814 1107h2v15h-2zM824 1097.5h2v24.5h-2zM848 1107h2v15h-2zM858 1107h2v15h-2zM860 1107h2v15h-2zM880 1097.5h2v9.5h-2zM898 1097.5h2v9.5h-2zM900 1097.5h2v9.5h-2zM904 1080.5h2v5.5h-2zM908 1097.5h2v9.5h-2zM916 1107h2v15h-2zM922 1076h2v4.5h-2zM932 1107h2v15h-2zM934 1107h2v15h-2zM954 1097.5h2v9.5h-2zM960 1107h2v15h-2zM1078 1107h2v15h-2zM1132 1072h2v4h-2zM1134 1040.5h2v2.5h-2zM1134 1048h2v2.5h-2zM1134 1058h2v2.5h-2zM1136 1008h2v2.5h-2zM1136 1015.5h2v2.5h-2zM1136 1030.5h2v2.5h-2zM1136 1038h2v2.5h-2zM1136 1058h2v2.5h-2zM1138 1028h2v5h-2zM1140 1072h2v4h-2zM1140 1080.5h2v5.5h-2zM1142 1097.5h2v9.5h-2zM1160 1068.5h2v3.5h-2zM1166 1055.5h2v2.5h-2zM1166 1076h2v4.5h-2zM1168 1060.5h2v5h-2zM1170 1033h2v2.5h-2zM1170 1058h2v2.5h-2zM1172 1018h2v2.5h-2zM1172 1045.5h2v2.5h-2zM1172 1060.5h2v2.5h-2zM1174 1033h2v2.5h-2zM1174 1045.5h2v2.5h-2zM1174 1050.5h2v2.5h-2zM1174 1058h2v2.5h-2zM1176 1043h2v2.5h-2zM1176 1048h2v2.5h-2zM1176 1053h2v2.5h-2zM1178 1065.5h2v3h-2zM1184 1076h2v4.5h-2z"/><path fill="#80ff80" d="M822 1107h2v15h-2zM892 1107h2v15h-2zM1134 1072h2v4h-2zM1134 1086h2v5.5h-2zM1136 1068.5h2v3.5h-2zM1136 1080.5h2v5.5h-2zM1138 1091.5h2v6h-2zM1148 1097.5h2v9.5h-2zM1160 1076h2v4.5h-2zM1162 1076h2v4.5h-2zM1164 1068.5h2v3.5h-2zM1168 1065.5h2v3h-2zM1170 1063h2v2.5h-2zM1174 1048h2v2.5h-2zM1174 1053h2v2.5h-2zM1174 1080.5h2v5.5h-2zM1174 1097.5h2v9.5h-2zM1176 1063h2v5.5h-2zM1182 1086h2v11.5h-2zM1184 1091.5h2v6h-2z"/><path fill="#1affe5" d="M828 1107h2v15h-2zM856 1107h2v15h-2zM862 1107h2v15h-2zM878 1091.5h2v6h-2zM884 1091.5h2v6h-2zM894 1097.5h2v9.5h-2zM896 1107h2v15h-2zM900 1091.5h2v6h-2zM902 1107h2v15h-2zM906 1097.5h2v9.5h-2zM910 1107h2v15h-2zM912 1107h2v15h-2zM920 1097.5h2v9.5h-2zM924 1097.5h2v9.5h-2zM928 1107h2v15h-2zM946 1107h2v15h-2zM1106 1107h2v15h-2zM1128 1107h2v15h-2zM1132 1097.5h2v9.5h-2zM1136 1040.5h2v2.5h-2zM1136 1063h2v2.5h-2zM1136 1072h2v4h-2zM1138 1050.5h2v2.5h-2zM1140 1043h2v2.5h-2zM1140 1055.5h2v2.5h-2zM1140 1068.5h2v3.5h-2zM1146 1086h2v5.5h-2zM1158 1086h2v5.5h-2zM1160 1072h2v4h-2zM1162 1063h2v2.5h-2zM1164 1058h2v2.5h-2zM1166 1060.5h2v5h-2zM1166 1072h2v4h-2zM1168 1035.5h2v2.5h-2zM1168 1045.5h2v2.5h-2zM1170 1020.5h2v2.5h-2zM1172 998h2v2.5h-2zM1172 1005.5h2v2.5h-2zM1172 1043h2v2.5h-2zM1172 1048h2v2.5h-2zM1172 1055.5h2v2.5h-2zM1176 1030.5h2v2.5h-2zM1176 1035.5h2v2.5h-2zM1180 1065.5h2v3h-2zM1182 1058h2v2.5h-2zM1182 1063h2v2.5h-2zM1182 1068.5h2v3.5h-2z"/><path fill="#66ff99" d="M866 1107h2v15h-2zM880 1107h2v15h-2zM882 1097.5h2v9.5h-2zM904 1097.5h2v9.5h-2zM908 1107h2v15h-2zM926 1107h2v15h-2zM1132 1107h2v15h-2zM1134 1065.5h2v3h-2zM1134 1091.5h2v6h-2zM1136 1050.5h2v2.5h-2zM1136 1091.5h2v6h-2zM1136 1107h2v15h-2zM1138 1048h2v2.5h-2zM1146 1097.5h2v9.5h-2zM1162 1065.5h2v3h-2zM1162 1072h2v4h-2zM1164 1063h2v2.5h-2zM1170 1035.5h2v2.5h-2zM1170 1040.5h2v2.5h-2zM1170 1060.5h2v2.5h-2zM1170 1068.5h2v3.5h-2zM1172 1015.5h2v2.5h-2zM1172 1030.5h2v2.5h-2zM1174 1040.5h2v2.5h-2zM1174 1055.5h2v2.5h-2zM1174 1065.5h2v3h-2zM1176 1068.5h2v3.5h-2zM1178 1080.5h2v5.5h-2zM1182 1065.5h2v3h-2zM1184 1086h2v5.5h-2z"/><path fill="#33ffcc" d="M876 1107h2v15h-2zM878 1097.5h2v9.5h-2zM882 1086h2v11.5h-2zM884 1097.5h2v9.5h-2zM904 1091.5h2v6h-2zM906 1091.5h2v6h-2zM918 1097.5h2v9.5h-2zM924 1107h2v15h-2zM954 1107h2v15h-2zM962 1107h2v15h-2zM988 1107h2v15h-2zM1108 1107h2v15h-2zM1134 1080.5h2v5.5h-2zM1138 1033h2v2.5h-2zM1138 1045.5h2v2.5h-2zM1138 1063h2v5.5h-2zM1140 1076h2v4.5h-2zM1140 1091.5h2v6h-2zM1142 1091.5h2v6h-2zM1144 1091.5h2v6h-2zM1146 1091.5h2v6h-2zM1164 1060.5h2v2.5h-2zM1164 1076h2v4.5h-2zM1166 1065.5h2v3h-2zM1168 1050.5h2v5h-2zM1168 1058h2v2.5h-2zM1168 1068.5h2v3.5h-2zM1170 1048h2v2.5h-2zM1170 1055.5h2v2.5h-2zM1172 1008h2v2.5h-2zM1172 1020.5h2v2.5h-2zM1172 1025.5h2v2.5h-2zM1172 1033h2v2.5h-2zM1172 1040.5h2v2.5h-2zM1174 1020.5h2v2.5h-2zM1174 1028h2v5h-2zM1174 1086h2v5.5h-2zM1176 1038h2v2.5h-2zM1176 1050.5h2v2.5h-2zM1178 1063h2v2.5h-2zM1178 1068.5h2v3.5h-2zM1180 1055.5h2v2.5h-2zM1180 1063h2v2.5h-2zM1180 1068.5h2v3.5h-2zM1184 1080.5h2v5.5h-2zM1186 1097.5h2v9.5h-2z"/><path fill="#99ff66" d="M878 1107h2v15h-2zM882 1107h2v15h-2zM884 1107h2v15h-2zM900 1107h2v15h-2zM906 1107h2v15h-2zM914 1107h2v15h-2zM1136 1048h2v2.5h-2zM1136 1086h2v5.5h-2zM1138 1080.5h2v5.5h-2zM1158 1091.5h2v6h-2zM1160 1086h2v5.5h-2zM1166 1080.5h2v11h-2zM1168 1076h2v10h-2zM1170 1043h2v5h-2zM1170 1072h2v4h-2zM1170 1080.5h2v17h-2zM1172 1053h2v2.5h-2zM1174 1060.5h2v2.5h-2zM1174 1068.5h2v3.5h-2zM1176 1058h2v2.5h-2zM1176 1080.5h2v5.5h-2zM1180 1076h2v4.5h-2zM1180 1091.5h2v6h-2z"/><path fill="#b3ff4c" d="M886 1107h2v15h-2zM894 1107h2v15h-2zM1134 1076h2v4.5h-2zM1136 1076h2v4.5h-2zM1136 1097.5h2v9.5h-2zM1138 1068.5h2v3.5h-2zM1142 1107h2v15h-2zM1148 1107h2v15h-2zM1164 1072h2v4h-2zM1164 1086h2v11.5h-2zM1166 1091.5h2v6h-2zM1174 1063h2v2.5h-2zM1176 1060.5h2v2.5h-2zM1182 1080.5h2v5.5h-2z"/><path fill="#4dffb3" d="M888 1107h2v15h-2zM898 1107h2v15h-2zM902 1097.5h2v9.5h-2zM920 1107h2v15h-2zM922 1091.5h2v15.5h-2zM926 1097.5h2v9.5h-2zM930 1107h2v15h-2zM982 1107h2v15h-2zM1126 1107h2v15h-2zM1130 1107h2v15h-2zM1134 1060.5h2v2.5h-2zM1134 1068.5h2v3.5h-2zM1136 1060.5h2v2.5h-2zM1138 1043h2v2.5h-2zM1140 1048h2v2.5h-2zM1140 1097.5h2v24.5h-2zM1156 1107h2v15h-2zM1162 1068.5h2v3.5h-2zM1166 1068.5h2v3.5h-2zM1170 1050.5h2v2.5h-2zM1170 1065.5h2v3h-2zM1172 1000.5h2v2.5h-2zM1174 1043h2v2.5h-2zM1176 1072h2v4h-2zM1178 1072h2v4h-2zM1178 1086h2v5.5h-2zM1180 1072h2v4h-2zM1180 1080.5h2v5.5h-2zM1182 1072h2v8.5h-2z"/><path fill="#ccff33" d="M904 1107h2v15h-2zM918 1107h2v15h-2zM1138 1072h2v4h-2zM1158 1107h2v15h-2zM1160 1080.5h2v5.5h-2zM1166 1107h2v15h-2zM1168 1072h2v4h-2zM1172 1050.5h2v2.5h-2zM1172 1058h2v2.5h-2zM1172 1065.5h2v3h-2zM1172 1076h2v4.5h-2zM1176 1076h2v4.5h-2zM1178 1076h2v4.5h-2zM1186 1107h2v15h-2z"/><path fill="#ffe500" d="M922 1107h2v15h-2zM1146 1107h2v15h-2zM1168 1086h2v5.5h-2zM1182 1097.5h2v9.5h-2z"/><path fill="#ff9900" d="M1134 1097.5h2v9.5h-2zM1160 1097.5h2v9.5h-2zM1180 1086h2v5.5h-2zM1184 1107h2v15h-2z"/><path fill="#ff1a00" d="M1134 1107h2v15h-2zM1160 1107h2v15h-2z"/><path fill="#e5ff1a" d="M1138 1097.5h2v9.5h-2zM1164 1080.5h2v5.5h-2zM1168 1091.5h2v6h-2zM1170 1097.5h2v9.5h-2zM1172 1086h2v5.5h-2zM1174 1072h2v8.5h-2zM1178 1091.5h2v6h-2z"/><path fill="#ffff00" d="M1138 1107h2v15h-2zM1158 1097.5h2v9.5h-2zM1170 1076h2v4.5h-2zM1172 1063h2v2.5h-2zM1172 1068.5h2v7.5h-2zM1174 1091.5h2v6h-2zM1176 1091.5h2v15.5h-2zM1178 1097.5h2v9.5h-2z"/><path fill="#ffcc00" d="M1160 1091.5h2v6h-2zM1162 1080.5h2v5.5h-2zM1162 1097.5h2v9.5h-2zM1166 1097.5h2v9.5h-2zM1184 1097.5h2v9.5h-2z"/><path fill="#ffb300" d="M1162 1086h2v5.5h-2zM1164 1097.5h2v9.5h-2zM1168 1097.5h2v9.5h-2zM1174 1107h2v15h-2zM1176 1086h2v5.5h-2zM1176 1107h2v15h-2zM1180 1097.5h2v9.5h-2zM1182 1107h2v15h-2z"/><path fill="#ff4c00" d="M1162 1091.5h2v6h-2zM1172 1097.5h2v9.5h-2z"/><path fill="#e50000" d="M1162 1107h2v15h-2z"/><path fill="#cc0000" d="M1164 1107h2v15h-2z"/><path fill="#ff8000" d="M1168 1107h2v15h-2z"/><path fill="#ff3300" d="M1170 1107h2v15h-2z"/><path fill="#ff0000" d="M1172 1080.5h2v5.5h-2z"/><path fill="#ff6600" d="M1172 1091.5h2v6h-2zM1180 1107h2v15h-2z"/><path fill="#800000" d="M1172 1107h2v15h-2z"/><path fill="#990000" d="M1178 1107h2v15h-2z"/></g><rect x="259.5" y="969.5" width="1551" height="153" fill="none" stroke="#000" stroke-width="1"/><g font-size="28"><text x="204" y="1004.9">10</text><text x="235" y="987.9" font-size="18">-1</text><text x="204" y="1056">10</text><text x="235" y="1039" font-size="18">0</text><text x="204" y="1107.1">10</text><text x="235" y="1090.1" font-size="18">1</text><text transform="translate(183.5 1152) rotate(-90)">Wavelength (km)</text></g><path d="M261 1179.5H1809M261 1244.5H1809M261 1309.5H1809M439.5 1136V1353M619.5 1136V1353M801.5 1136V1353M982.5 1136V1353M1164.5 1136V1353M1448.5 1136V1353M1629.5 1136V1353" stroke="#000" stroke-width="1" stroke-dasharray="1 4" fill="none"/><path d="M261 1179.5h15M1810 1179.5h-15M261 1244.5h15M1810 1244.5h-15M261 1309.5h15M1810 1309.5h-15M439.5 1134V1149M439.5 1354V1339M619.5 1134V1149M619.5 1354V1339M801.5 1134V1149M801.5 1354V1339M982.5 1134V1149M982.5 1354V1339M1164.5 1134V1149M1164.5 1354V1339M1448.5 1134V1149M1448.5 1354V1339M1629.5 1134V1149M1629.5 1354V1339" stroke="#000" stroke-width="1" fill="none"/><path d="M261 1219.2 269.8 1222.1 275.6 1228 277.6 1235.8 280.5 1237.8 275.6 1243.7 274.7 1249.6 283.5 1247.6 289.4 1247.6 297.2 1248.6 309 1255.4 320.7 1256.4 332.5 1263.3 340.3 1265.2 344.2 1271.1 345.2 1279 342.3 1284.8 336.4 1290.7 327.6 1302.5 326.6 1316.2 324.6 1329.9 316.8 1341.7 307 1345.6 297.2 1347.6 290.3 1354.4M430.5 1133.9 422.6 1143.7 421.7 1151.6 424.6 1157.4 425.6 1169.2 420.7 1181 422.6 1188.8 428.5 1194.7 435.4 1200.6 438.3 1208.4 442.2 1212.3 452 1220.2 462.8 1226 469.7 1222.1 481.4 1223.1 493.2 1220.2 505 1216.2 512.8 1216.2 518.7 1224.1 530.4 1226 534.4 1228 537.3 1231.9 535.3 1239.8 534.4 1249.6 540.2 1257.4 546.1 1265.2 550 1273.1 553 1286.8 554 1296.6 550 1302.5 546.1 1314.2 546.1 1322.1 552 1333.8 555.9 1343.6 557.9 1354.4M645.9 1133.9 653.7 1147.6 658.6 1159.4 663.5 1169.2 669.4 1179 675.3 1188.8 680.2 1194.7 685.1 1198.6 698.8 1195.7 712.5 1192.7 715.5 1194.7 712.5 1204.5 706.6 1214.3 698.8 1226 685.1 1239.8 677.2 1249.6 669.4 1255.4 665.5 1265.2 661.6 1271.1 665.5 1282.9 669.4 1290.7 669.4 1302.5 671.4 1308.4 661.6 1318.2 651.8 1328 645.9 1337.8 647.8 1354.4M655 1134.9 661.6 1143.7 669.4 1159.4 677.2 1173.1 681.2 1184.9 682.1 1188.8 696.8 1182.9 712.5 1176.1 728.2 1169.2 740 1161.4 747.8 1151.6 752.7 1144.7 745.8 1137.8 738 1133.9M716.4 1134 720 1136.5 726 1137.8 730.2 1135.5 728 1134M783.1 1133.9 790.9 1141.8 796.8 1144.7 806.6 1145.7 810.5 1165.3 816.4 1181 822.3 1196.6 827.2 1208.4 834 1202.5 838 1190.8 839.9 1177 849.7 1169.2 861.5 1161.4 873.2 1149.6 881.1 1147.6 888.9 1143.7 890 1146 893 1152 898 1157 901 1164 902 1174 906 1175 912 1171 915 1176 918 1187 920 1195 919 1206 923 1213 927 1217 928 1225 932 1233 938 1237 944 1237 941 1230 940 1222 932 1215 925 1211 922 1205 922 1200 926 1187 930 1188 936 1194 942 1200 946 1204 948 1205 955 1199 965 1194 965 1182 962 1175 952 1163 950 1158 954 1153 963 1148 968 1150 970 1151 980 1145 990 1143 1000 1138 1006 1134M838 1204.5 843.8 1206.4 847.8 1214.3 841.9 1218.2 838 1214.3 837 1208 838 1204.5M1013 1140 1016 1134 1020 1135 1019 1142 1015 1147 1012 1145 1013 1140M905 1220 915 1221 920 1226 928 1233 937 1238 946 1250 951 1256 951 1268 944 1268 935 1260 928 1250 923 1240 915 1229 907 1223 905 1220M948 1269 960 1271 975 1272 985 1275 986 1279 975 1278 960 1276 950 1272 948 1269M963 1238 970 1236 974 1233 983 1227 990 1222 999 1214 1008 1222 1004 1226 1002 1231 1007 1240 1001 1242 998 1250 994 1260 990 1262 980 1259 972 1258 968 1250 964 1242 963 1238M1002 1206 1011 1196M1013 1164 1022 1163 1023 1172 1019 1179 1018 1186 1022 1192 1017 1192 1013 1186 1011 1175 1013 1164M1020 1183 1030 1187 1036 1192 1037 1200 1039 1206 1032 1206 1024 1199 1021 1192 1020 1183M1026 1186 1031 1193 1030 1200 1034 1203M1029 1213 1036 1212 1040 1215 1039 1220 1033 1219 1029 1216 1029 1213M1010 1238 1015 1238 1033 1237 1034 1239 1028 1241 1015 1242 1013 1246 1024 1247 1018 1251 1019 1256 1025 1267 1023 1269 1014 1258 1013 1269 1009 1268 1008 1255 1012 1248 1011 1242 1010 1238M1044 1235 1048 1236 1049 1242 1047 1250 1044 1246 1044 1235M1048 1257 1056 1257 1057 1260 1049 1260 1048 1257M1038 1258 1041 1258 1041 1261 1038 1261 1038 1258M1057.2 1245.6 1065.1 1243.7 1072.9 1247.6 1071 1255.4 1078.8 1253.5 1090.6 1250.5 1102.3 1253.5 1118 1259.4 1129.8 1257.4 1145.4 1259.4 1155.2 1263.3 1148 1266 1140 1270 1132 1271 1129 1274 1135 1283 1143 1288 1140 1290 1130 1285 1124 1279 1116 1276 1109 1284.5 1102 1283 1094 1279 1088 1280 1086.6 1275 1082.7 1271.1 1069 1263.3 1061.2 1255.4 1057.2 1247.6 1057.2 1245.6M1160 1265 1165 1271 1169 1275 1163 1272 1160 1265M1179 1279 1186 1283 1192 1290 1187 1288 1180 1283M983 1355 983 1345 987 1340 996 1335 1008 1331.5 1016 1330 1021 1324 1022 1318 1028 1315 1034 1309 1040 1305 1045 1305 1047 1310 1053 1309 1058 1299 1056 1294.5 1061 1294 1066 1294 1073 1297 1084 1298 1083 1302 1080 1303 1080 1311 1086 1315 1093 1319 1099 1322 1103 1318 1105 1300 1108 1291 1111 1295 1115 1306 1119 1308 1123 1317 1125 1326 1134 1332 1140 1341 1146 1348 1150 1354M698.8 1354.4 702.7 1335.8 708.6 1316.2 711.5 1302.5 706.6 1292.7 704.7 1294.6 696.8 1306.4 687 1318.2 681.2 1341.7 685.1 1354.4M630.4 1246 636 1242.7 642.2 1245 640 1253 633 1255.4 630.4 1250 630.4 1246M552 1183 558 1184 561.8 1188.8 556 1188 553 1186 552 1183M1578.8 1133.9 1586.6 1139.8 1591.5 1147.6 1590.5 1155.5 1596.4 1161.4 1606.2 1166.3 1618 1171.2 1631.7 1176.1 1635.6 1173.1 1647.4 1179 1659.1 1184.9 1668.9 1188.8 1674.8 1196.6 1684.6 1204.5 1694.4 1210.4 1698.3 1212.3 1702.2 1204.5 1708.1 1204.5 1712 1208.4 1710.1 1214.3 1712 1224.1 1706.2 1235.8 1698.3 1247.6 1698.3 1257.4 1694.4 1265.2 1698.3 1273.1 1704.2 1280.9 1710.1 1292.7 1716 1304.4 1719.9 1312.3 1731.6 1318.2 1739.5 1324 1741.4 1333.8 1741.4 1354.4M1623.8 1133.9 1623.8 1145.7 1631.7 1157.4 1641.5 1164.3 1651.3 1161.4 1655.2 1151.6 1661.1 1149.6 1670.9 1149.6 1668.9 1161.4 1665 1175.1 1674.8 1175.1 1684.6 1179 1686.6 1186.8 1684.6 1194.7 1690.5 1202.5 1698.3 1208.4 1702.2 1204.5M1712 1208.4 1721.8 1196.6 1733.6 1190.8 1745.4 1190.8 1753.2 1194.7 1765 1198.6 1778.7 1198.6 1784.6 1206.4 1798.3 1216.2 1810 1218.2M1735.5 1192.7 1736 1199 1737.5 1204.5M1561.1 1133.9 1570.9 1137.8 1573.9 1142.7 1569 1140.8 1561.1 1133.9M1200 1331 1207 1336 1215 1342 1213 1343 1205 1338 1199 1332 1200 1331M1680.7 1145.7 1694.4 1141.8 1710.1 1147.6 1723.8 1155.5 1714 1155.5 1698.3 1149.6 1682.6 1147.6 1680.7 1145.7M1725.8 1160 1735 1157.4 1745 1159 1751.3 1163 1740 1164 1730 1165.3 1725.8 1160" fill="none" stroke="#000" stroke-width="1.8" stroke-linejoin="round" stroke-linecap="round"/><path d="M619.6 1258.4L622 1266L625 1274L628.4 1281M641.2 1284.8L643 1293L645 1300L647 1306.4" fill="none" stroke="#000" stroke-width="2.8" stroke-linecap="round"/><g fill="none" stroke="#000" stroke-width="1.6"><ellipse cx="726.2" cy="1189.8" rx="3" ry="1.5"/><ellipse cx="967.5" cy="1160" rx="5" ry="3.5"/><ellipse cx="1712" cy="1164.8" rx="4" ry="1.8"/><ellipse cx="1759" cy="1164.3" rx="4" ry="1.5"/><ellipse cx="1652.3" cy="1245.6" rx="2" ry="2"/><ellipse cx="1778.7" cy="1173.1" rx="1.5" ry="1.5"/><ellipse cx="1781.6" cy="1180" rx="1.2" ry="1.2"/><ellipse cx="1355.2" cy="1146.7" rx="2" ry="1.2"/><ellipse cx="1365" cy="1149.6" rx="1.5" ry="1.2"/><ellipse cx="1370.8" cy="1153.5" rx="2" ry="1.5"/><ellipse cx="1376.5" cy="1158.5" rx="2.5" ry="2.5"/><ellipse cx="1215" cy="1312" rx="1.5" ry="3.5"/><ellipse cx="1262" cy="1318" rx="4" ry="2.5"/><ellipse cx="1303" cy="1303.5" rx="3" ry="1.2"/><ellipse cx="1401.2" cy="1321.1" rx="1.3" ry="1.3"/><ellipse cx="734" cy="1335.8" rx="1.5" ry="1.5"/><ellipse cx="741.9" cy="1332.9" rx="1.2" ry="1.2"/><ellipse cx="1184" cy="1291" rx="2" ry="1.2"/><ellipse cx="1198" cy="1296" rx="1.5" ry="1.2"/><ellipse cx="896" cy="1189" rx="1" ry="3"/><ellipse cx="1708" cy="1135.5" rx="1.5" ry="1"/><ellipse cx="1717" cy="1140" rx="1.5" ry="1"/><ellipse cx="1726" cy="1145" rx="1.5" ry="1"/><ellipse cx="1734" cy="1149" rx="1.2" ry="1"/></g><rect x="260.5" y="1133.5" width="1550" height="221" fill="none" stroke="#000" stroke-width="1"/><g font-size="28"><text x="187" y="1192.5">15</text><text x="219" y="1180" font-size="21">o</text><text x="231" y="1192.5">N</text><text x="214" y="1257.3">0</text><text x="231" y="1244.8" font-size="21">o</text><text x="187" y="1322.7">15</text><text x="219" y="1310.2" font-size="21">o</text><text x="231.5" y="1322.7">S</text></g><path d="M260.5 1199.4C277.6 1202.7 332.4 1212.9 363.1 1218.9C393.9 1224.9 415.1 1228 445 1235.3C474.9 1242.6 512.6 1255.1 542.5 1262.6C572.4 1270.1 597.1 1275.1 624.4 1280.2C651.7 1285.3 692 1290.7 706.3 1293C720.6 1295.3 707.3 1293.3 710.2 1293.8C713.1 1294.3 719.4 1295.3 723.9 1295.8C728.4 1296.3 732.6 1296.5 737.5 1296.9C742.4 1297.3 748.2 1297.7 753.1 1298.1C758 1298.5 762.2 1298.9 766.8 1299.3C771.3 1299.7 775.8 1300.2 780.4 1300.4C785 1300.6 789.5 1300.4 794.1 1300.4C798.7 1300.4 803.2 1300.4 807.7 1300.4C812.2 1300.4 816.9 1300.4 821.4 1300.4C825.9 1300.4 830.5 1300.5 835 1300.4C839.5 1300.3 844.2 1300.1 848.7 1300C853.2 1299.9 857.8 1299.9 862.3 1299.7C866.8 1299.5 871.1 1299.2 876 1298.9C880.9 1298.6 886.7 1298.1 891.6 1297.7C896.5 1297.3 900.7 1297 905.2 1296.5C909.8 1296 914.4 1295.5 918.9 1295C923.4 1294.5 928 1294.3 932.5 1293.8C937 1293.3 941.7 1292.7 946.2 1292.2C950.8 1291.7 955.2 1291.2 959.8 1290.7C964.3 1290.2 969 1289.7 973.5 1289.1C978 1288.5 982.6 1287.9 987.1 1287.2C991.6 1286.5 996.2 1285.5 1000.8 1284.8C1005.3 1284.1 1009.9 1283.7 1014.4 1282.9C1018.9 1282.1 1023.2 1281.1 1028.1 1280.2C1033 1279.3 1038.8 1278.2 1043.7 1277.4C1048.6 1276.6 1052.8 1275.9 1057.3 1275.1C1061.8 1274.3 1066.1 1273.5 1071 1272.4C1075.9 1271.4 1081.7 1269.9 1086.6 1268.8C1091.5 1267.7 1095.7 1266.7 1100.2 1265.7C1104.8 1264.7 1109.4 1263.6 1113.9 1262.6C1118.5 1261.6 1123 1260.6 1127.5 1259.5C1132 1258.4 1136.7 1257.1 1141.2 1256C1145.8 1254.9 1150.2 1254.1 1154.8 1252.9C1159.3 1251.7 1164 1250.2 1168.5 1249C1173 1247.8 1178.8 1246.2 1182.1 1245.4C1185.3 1244.6 1187 1244.2 1188 1244" fill="none" stroke="#b8141e" stroke-width="1.1"/><path d="M1302 1242C1302.5 1241.9 1302.1 1242 1305 1241.2C1307.9 1240.4 1314.5 1238.5 1319.4 1237.3C1324.3 1236 1330.4 1234.5 1334.2 1233.7C1338 1232.9 1327.7 1235.8 1342 1232.2C1356.3 1228.6 1394 1217.6 1420 1211.9C1446 1206.2 1472 1201.9 1498 1198.3C1524 1194.7 1553.2 1192.3 1576 1190.5C1598.8 1188.7 1615 1188 1634.5 1187.7C1654 1187.4 1673.5 1187.8 1693 1188.5C1712.5 1189.2 1732 1190 1751.5 1191.6C1771 1193.2 1800.2 1197.2 1810 1198.3" fill="none" stroke="#b8141e" stroke-width="1.1"/><polyline points="259.8,1269.6 304.6,1245 363.1,1213.9 429.4,1199.4 436.1,1199 445.3,1198.4 456.2,1197.7 468.1,1197 480.2,1196.5 491.8,1196.3 503.2,1196.4 515.1,1196.8 527.1,1197.4 539.2,1198 550.9,1198.7 562,1199.4 572.3,1200.1 582.1,1200.7 591.5,1201.5 600.9,1202.2 610.4,1203.1 620.5,1204.1 631.1,1205.3 641.9,1206.7 652.9,1208.2 664.1,1209.7 675.4,1211 686.8,1211.9 698.2,1212.5 709.6,1212.8 721.2,1212.9 732.9,1212.9 744.8,1212.8 757,1212.7 769.5,1212.6 782.4,1212.3 795.5,1212 808.7,1211.7 821.9,1211.4 835,1211.1 847.5,1210.9 859.6,1210.6 871.6,1210.4 884.1,1210.2 897.7,1210.1 913,1210 931,1210 951.6,1210.2 973.2,1210.4 994.5,1210.6 1013.9,1210.7 1030,1210.7 1042.2,1210.5 1051.7,1210.1 1059.2,1209.7 1066,1209.2 1072.8,1208.9 1080.7,1208.8 1089.5,1208.8 1098.5,1209 1107.5,1209.2 1116.7,1209.5 1125.9,1210 1135.3,1210.7 1144.8,1211.6 1154.5,1212.6 1164.3,1213.8 1174.2,1215.1 1184,1216.5 1193.8,1217.8 1203.6,1219.2 1213.6,1220.6 1223.5,1222.1 1233.4,1223.6 1243,1225.2 1252.3,1226.7 1261.3,1228.3 1270.2,1230 1278.9,1231.6 1287.3,1233.3 1295.3,1234.8 1303,1236.1 1309.7,1237.2 1315.4,1238 1320.8,1238.8 1326.5,1239.5 1333.4,1240.2 1342,1241.2 1352.7,1242.3 1365.1,1243.5 1378.6,1244.8 1392.6,1246.2 1406.5,1247.6 1420,1249 1433,1250.5 1446,1252 1459,1253.7 1472,1255.3 1485,1257 1498,1258.7 1511,1260.4 1524,1262 1537,1263.6 1550,1265.4 1563,1267.3 1576,1269.6 1589.9,1272.4 1604.9,1275.9 1619.9,1279.5 1633.8,1283 1645.5,1285.9 1654,1288 1712.5,1297.7 1786.6,1282.1 1810,1268.5" fill="none" stroke="#18e818" stroke-width="6" stroke-linejoin="round"/><g fill="#f41010"><rect x="-5.5" y="-6.5" width="11" height="13" transform="translate(710.2 1293.8) rotate(8.3)"/><rect x="-5.5" y="-6.5" width="11" height="13" transform="translate(723.9 1295.8) rotate(6.5)"/><rect x="-5.5" y="-6.5" width="11" height="13" transform="translate(737.5 1296.9) rotate(4.5)"/><rect x="-5.5" y="-6.5" width="11" height="13" transform="translate(753.1 1298.1) rotate(4.7)"/><rect x="-5.5" y="-6.5" width="11" height="13" transform="translate(766.8 1299.3) rotate(4.8)"/><rect x="-5.5" y="-6.5" width="11" height="13" transform="translate(780.4 1300.4) rotate(2.3)"/><rect x="-5.5" y="-6.5" width="11" height="13" transform="translate(794.1 1300.4) rotate(0)"/><rect x="-5.5" y="-6.5" width="11" height="13" transform="translate(807.7 1300.4) rotate(0)"/><rect x="-5.5" y="-6.5" width="11" height="13" transform="translate(821.4 1300.4) rotate(0)"/><rect x="-5.5" y="-6.5" width="11" height="13" transform="translate(835 1300.4) rotate(-0.8)"/><rect x="-5.5" y="-6.5" width="11" height="13" transform="translate(848.7 1300) rotate(-1.5)"/><rect x="-5.5" y="-6.5" width="11" height="13" transform="translate(862.3 1299.7) rotate(-2.3)"/><rect x="-5.5" y="-6.5" width="11" height="13" transform="translate(876 1298.9) rotate(-3.9)"/><rect x="-5.5" y="-6.5" width="11" height="13" transform="translate(891.6 1297.7) rotate(-4.7)"/><rect x="-5.5" y="-6.5" width="11" height="13" transform="translate(905.2 1296.5) rotate(-5.6)"/><rect x="-5.5" y="-6.5" width="11" height="13" transform="translate(918.9 1295) rotate(-5.6)"/><rect x="-5.5" y="-6.5" width="11" height="13" transform="translate(932.5 1293.8) rotate(-5.9)"/><rect x="-5.5" y="-6.5" width="11" height="13" transform="translate(946.2 1292.2) rotate(-6.5)"/><rect x="-5.5" y="-6.5" width="11" height="13" transform="translate(959.8 1290.7) rotate(-6.5)"/><rect x="-5.5" y="-6.5" width="11" height="13" transform="translate(973.5 1289.1) rotate(-7.3)"/><rect x="-5.5" y="-6.5" width="11" height="13" transform="translate(987.1 1287.2) rotate(-9)"/><rect x="-5.5" y="-6.5" width="11" height="13" transform="translate(1000.8 1284.8) rotate(-9)"/><rect x="-5.5" y="-6.5" width="11" height="13" transform="translate(1014.4 1282.9) rotate(-9.6)"/><rect x="-5.5" y="-6.5" width="11" height="13" transform="translate(1028.1 1280.2) rotate(-10.6)"/><rect x="-5.5" y="-6.5" width="11" height="13" transform="translate(1043.7 1277.4) rotate(-9.9)"/><rect x="-5.5" y="-6.5" width="11" height="13" transform="translate(1057.3 1275.1) rotate(-10.4)"/><rect x="-5.5" y="-6.5" width="11" height="13" transform="translate(1071 1272.4) rotate(-12.1)"/><rect x="-5.5" y="-6.5" width="11" height="13" transform="translate(1086.6 1268.8) rotate(-12.9)"/><rect x="-5.5" y="-6.5" width="11" height="13" transform="translate(1100.2 1265.7) rotate(-12.8)"/><rect x="-5.5" y="-6.5" width="11" height="13" transform="translate(1113.9 1262.6) rotate(-12.8)"/><rect x="-5.5" y="-6.5" width="11" height="13" transform="translate(1127.5 1259.5) rotate(-13.6)"/><rect x="-5.5" y="-6.5" width="11" height="13" transform="translate(1141.2 1256) rotate(-13.6)"/><rect x="-5.5" y="-6.5" width="11" height="13" transform="translate(1154.8 1252.9) rotate(-14.4)"/><rect x="-5.5" y="-6.5" width="11" height="13" transform="translate(1168.5 1249) rotate(-15.4)"/><rect x="-5.5" y="-6.5" width="11" height="13" transform="translate(1182.1 1245.4) rotate(-14.8)"/><rect x="-5.5" y="-6.5" width="11" height="13" transform="translate(1305 1241.2) rotate(-15.2)"/><rect x="-5.5" y="-6.5" width="11" height="13" transform="translate(1319.4 1237.3) rotate(-14.4)"/><rect x="-5.5" y="-6.5" width="11" height="13" transform="translate(1334.2 1233.7) rotate(-13.7)"/></g><g fill="none" stroke="#c040d0" stroke-width="1.2"><polygon points="304.6,1247.8 306.4,1252.4 311.3,1252.6 307.5,1255.7 308.7,1260.5 304.6,1257.8 300.5,1260.5 301.7,1255.7 297.9,1252.6 302.8,1252.4"/><polygon points="1117.8,1177.6 1119.6,1182.2 1124.5,1182.4 1120.7,1185.5 1121.9,1190.3 1117.8,1187.6 1113.7,1190.3 1114.9,1185.5 1111.1,1182.4 1116,1182.2"/><polygon points="1215.3,1195.2 1217.1,1199.8 1222,1200 1218.2,1203.1 1219.4,1207.9 1215.3,1205.2 1211.2,1207.9 1212.4,1203.1 1208.6,1200 1213.5,1199.8"/><polygon points="1366.2,1227.5 1368,1232.1 1372.9,1232.3 1369.1,1235.4 1370.3,1240.2 1366.2,1237.5 1362.1,1240.2 1363.3,1235.4 1359.5,1232.3 1364.4,1232.1"/><polygon points="1713.3,1288.8 1715.1,1293.4 1720,1293.6 1716.2,1296.7 1717.4,1301.5 1713.3,1298.8 1709.2,1301.5 1710.4,1296.7 1706.6,1293.6 1711.5,1293.4"/></g></svg></body></html>
